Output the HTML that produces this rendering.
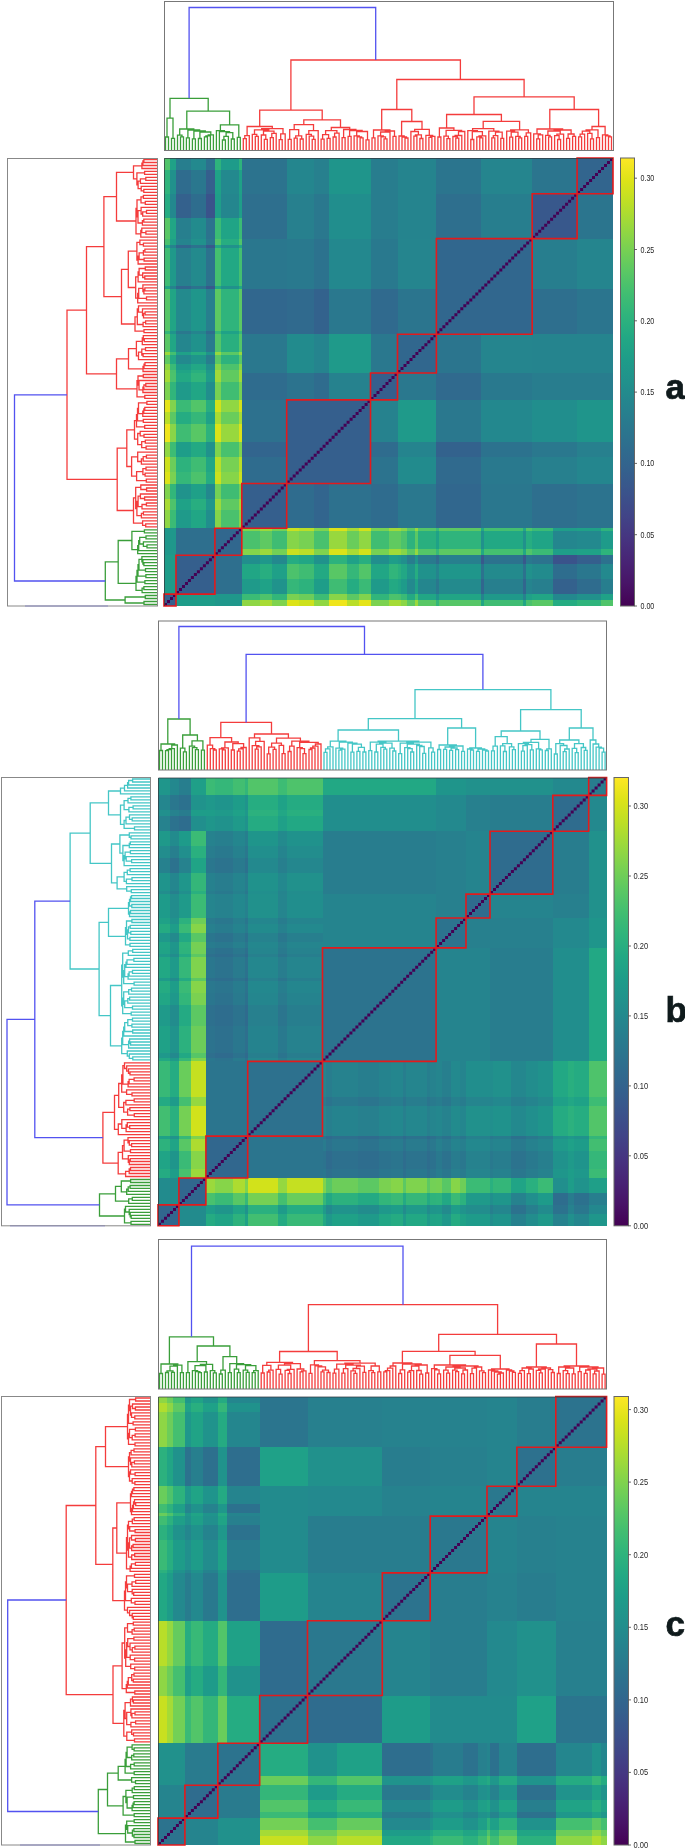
<!DOCTYPE html>
<html><head><meta charset="utf-8"><style>
html,body{margin:0;padding:0;background:#fff;}
svg{display:block;filter:blur(0.4px);font-family:"Liberation Sans",sans-serif;}
</style></head><body>
<svg width="685" height="1848" viewBox="0 0 685 1848">
<rect width="685" height="1848" fill="#fff"/>
<path fill="#355f8d" shape-rendering="crispEdges" d="M164.0 600.0H170.0V606.0H164.0zM164.0 594.1H170.0V600.0H164.0zM170.0 600.0H176.0V606.0H170.0zM170.0 594.1H176.0V600.0H170.0zM176.0 579.1H190.9V594.1H176.0zM176.0 564.2H190.9V579.1H176.0zM176.0 555.2H190.9V564.2H176.0zM190.9 579.1H205.9V594.1H190.9zM190.9 564.2H205.9V579.1H190.9zM190.9 555.2H205.9V564.2H190.9zM205.9 579.1H214.9V594.1H205.9zM205.9 564.2H214.9V579.1H205.9zM205.9 555.2H214.9V564.2H205.9zM205.9 169.9H214.9V193.8H205.9zM241.8 510.4H259.8V528.3H241.8zM241.8 498.5H259.8V510.4H241.8zM241.8 483.5H259.8V498.5H241.8zM259.8 510.4H271.8V528.3H259.8zM259.8 498.5H271.8V510.4H259.8zM259.8 483.5H271.8V498.5H259.8zM271.8 510.4H286.7V528.3H271.8zM271.8 498.5H286.7V510.4H271.8zM271.8 483.5H286.7V498.5H271.8zM286.7 471.6H298.7V483.5H286.7zM286.7 456.7H298.7V471.6H286.7zM286.7 441.7H298.7V456.7H286.7zM286.7 423.8H298.7V441.7H286.7zM286.7 411.9H298.7V423.8H286.7zM286.7 399.9H298.7V411.9H286.7zM298.7 471.6H313.7V483.5H298.7zM298.7 456.7H313.7V471.6H298.7zM298.7 441.7H313.7V456.7H298.7zM298.7 423.8H313.7V441.7H298.7zM298.7 411.9H313.7V423.8H298.7zM298.7 399.9H313.7V411.9H298.7zM313.7 471.6H328.6V483.5H313.7zM313.7 456.7H328.6V471.6H313.7zM313.7 441.7H328.6V456.7H313.7zM313.7 423.8H328.6V441.7H313.7zM313.7 411.9H328.6V423.8H313.7zM313.7 399.9H328.6V411.9H313.7zM328.6 471.6H346.6V483.5H328.6zM328.6 456.7H346.6V471.6H328.6zM328.6 441.7H346.6V456.7H328.6zM328.6 423.8H346.6V441.7H328.6zM328.6 411.9H346.6V423.8H328.6zM328.6 399.9H346.6V411.9H328.6zM346.6 471.6H358.6V483.5H346.6zM346.6 456.7H358.6V471.6H346.6zM346.6 441.7H358.6V456.7H346.6zM346.6 423.8H358.6V441.7H346.6zM346.6 411.9H358.6V423.8H346.6zM346.6 399.9H358.6V411.9H346.6zM358.6 471.6H370.5V483.5H358.6zM358.6 456.7H370.5V471.6H358.6zM358.6 441.7H370.5V456.7H358.6zM358.6 423.8H370.5V441.7H358.6zM358.6 411.9H370.5V423.8H358.6zM358.6 399.9H370.5V411.9H358.6zM370.5 382.0H388.5V399.9H370.5zM370.5 373.0H388.5V382.0H370.5zM388.5 382.0H397.5V399.9H388.5zM388.5 373.0H397.5V382.0H388.5zM577.1 555.2H601.0V564.2H577.1z"/>
<path fill="#1e9c89" shape-rendering="crispEdges" d="M164.0 579.1H170.0V594.1H164.0zM164.0 564.2H170.0V579.1H164.0zM164.0 555.2H170.0V564.2H164.0zM170.0 579.1H176.0V594.1H170.0zM170.0 564.2H176.0V579.1H170.0zM170.0 555.2H176.0V564.2H170.0zM176.0 600.0H190.9V606.0H176.0zM176.0 594.1H190.9V600.0H176.0zM190.9 600.0H205.9V606.0H190.9zM190.9 594.1H205.9V600.0H190.9zM205.9 600.0H214.9V606.0H205.9zM205.9 594.1H214.9V600.0H205.9z"/>
<path fill="#1f978b" shape-rendering="crispEdges" d="M164.0 549.3H170.0V555.2H164.0zM164.0 531.3H170.0V549.3H164.0zM164.0 528.3H170.0V531.3H164.0zM170.0 549.3H176.0V555.2H170.0zM170.0 531.3H176.0V549.3H170.0zM170.0 528.3H176.0V531.3H170.0zM205.9 498.5H214.9V510.4H205.9zM214.9 600.0H220.9V606.0H214.9zM214.9 594.1H220.9V600.0H214.9zM220.9 600.0H238.8V606.0H220.9zM220.9 594.1H238.8V600.0H220.9zM238.8 600.0H241.8V606.0H238.8zM238.8 594.1H241.8V600.0H238.8zM259.8 555.2H271.8V564.2H259.8z"/>
<path fill="#8ed645" shape-rendering="crispEdges" d="M164.0 510.4H170.0V528.3H164.0zM241.8 600.0H259.8V606.0H241.8z"/>
<path fill="#a8db34" shape-rendering="crispEdges" d="M164.0 498.5H170.0V510.4H164.0zM214.9 411.9H220.9V423.8H214.9zM238.8 411.9H241.8V423.8H238.8zM259.8 600.0H271.8V606.0H259.8zM346.6 549.3H358.6V555.2H346.6zM346.6 528.3H358.6V531.3H346.6z"/>
<path fill="#7fd34e" shape-rendering="crispEdges" d="M164.0 483.5H170.0V498.5H164.0zM214.9 441.7H220.9V456.7H214.9zM238.8 441.7H241.8V456.7H238.8zM271.8 600.0H286.7V606.0H271.8zM313.7 549.3H328.6V555.2H313.7zM313.7 528.3H328.6V531.3H313.7z"/>
<path fill="#dde318" shape-rendering="crispEdges" d="M164.0 471.6H170.0V483.5H164.0zM286.7 600.0H298.7V606.0H286.7z"/>
<path fill="#cde11d" shape-rendering="crispEdges" d="M164.0 456.7H170.0V471.6H164.0zM298.7 600.0H313.7V606.0H298.7z"/>
<path fill="#90d743" shape-rendering="crispEdges" d="M164.0 441.7H170.0V456.7H164.0zM220.9 399.9H238.8V411.9H220.9zM313.7 600.0H328.6V606.0H313.7zM358.6 531.3H370.5V549.3H358.6z"/>
<path fill="#efe51c" shape-rendering="crispEdges" d="M164.0 423.8H170.0V441.7H164.0zM328.6 600.0H346.6V606.0H328.6z"/>
<path fill="#bade28" shape-rendering="crispEdges" d="M164.0 411.9H170.0V423.8H164.0zM214.9 456.7H220.9V471.6H214.9zM238.8 456.7H241.8V471.6H238.8zM298.7 549.3H313.7V555.2H298.7zM298.7 528.3H313.7V531.3H298.7zM346.6 600.0H358.6V606.0H346.6z"/>
<path fill="#e5e419" shape-rendering="crispEdges" d="M164.0 399.9H170.0V411.9H164.0zM358.6 600.0H370.5V606.0H358.6z"/>
<path fill="#7cd250" shape-rendering="crispEdges" d="M164.0 382.0H170.0V399.9H164.0zM370.5 600.0H388.5V606.0H370.5z"/>
<path fill="#a5db36" shape-rendering="crispEdges" d="M164.0 373.0H170.0V382.0H164.0zM164.0 370.1H170.0V373.0H164.0zM388.5 600.0H397.5V606.0H388.5zM397.5 600.0H400.5V606.0H397.5z"/>
<path fill="#8bd646" shape-rendering="crispEdges" d="M164.0 364.1H170.0V370.1H164.0zM400.5 600.0H406.5V606.0H400.5z"/>
<path fill="#5ec962" shape-rendering="crispEdges" d="M164.0 355.1H170.0V364.1H164.0zM220.9 498.5H238.8V510.4H220.9zM259.8 531.3H271.8V549.3H259.8zM406.5 600.0H415.4V606.0H406.5z"/>
<path fill="#9bd93c" shape-rendering="crispEdges" d="M164.0 352.1H170.0V355.1H164.0zM214.9 498.5H220.9V510.4H214.9zM238.8 498.5H241.8V510.4H238.8zM259.8 549.3H271.8V555.2H259.8zM259.8 528.3H271.8V531.3H259.8zM415.4 600.0H418.4V606.0H415.4z"/>
<path fill="#58c765" shape-rendering="crispEdges" d="M164.0 334.2H170.0V352.1H164.0zM164.0 217.7H170.0V238.6H164.0zM190.9 423.8H205.9V441.7H190.9zM328.6 564.2H346.6V579.1H328.6zM418.4 600.0H436.4V606.0H418.4zM532.2 600.0H553.1V606.0H532.2z"/>
<path fill="#34b679" shape-rendering="crispEdges" d="M164.0 331.2H170.0V334.2H164.0zM436.4 600.0H439.4V606.0H436.4z"/>
<path fill="#56c667" shape-rendering="crispEdges" d="M164.0 289.4H170.0V331.2H164.0zM439.4 600.0H481.3V606.0H439.4z"/>
<path fill="#21a585" shape-rendering="crispEdges" d="M164.0 286.4H170.0V289.4H164.0zM164.0 244.6H170.0V247.6H164.0zM170.0 289.4H176.0V331.2H170.0zM439.4 594.1H481.3V600.0H439.4zM481.3 600.0H484.3V606.0H481.3zM523.2 600.0H526.2V606.0H523.2z"/>
<path fill="#3fbc73" shape-rendering="crispEdges" d="M164.0 247.6H170.0V286.4H164.0zM176.0 423.8H190.9V441.7H176.0zM190.9 456.7H205.9V471.6H190.9zM220.9 483.5H238.8V498.5H220.9zM271.8 531.3H286.7V549.3H271.8zM298.7 564.2H313.7V579.1H298.7zM328.6 579.1H346.6V594.1H328.6zM484.3 600.0H523.2V606.0H484.3z"/>
<path fill="#4ac16d" shape-rendering="crispEdges" d="M164.0 238.6H170.0V244.6H164.0zM170.0 370.1H176.0V373.0H170.0zM220.9 510.4H238.8V528.3H220.9zM241.8 531.3H259.8V549.3H241.8zM397.5 594.1H400.5V600.0H397.5zM526.2 600.0H532.2V606.0H526.2z"/>
<path fill="#25ac82" shape-rendering="crispEdges" d="M164.0 193.8H170.0V217.7H164.0zM176.0 411.9H190.9V423.8H176.0zM205.9 471.6H214.9V483.5H205.9zM286.7 555.2H298.7V564.2H286.7zM346.6 579.1H358.6V594.1H346.6zM553.1 600.0H577.1V606.0H553.1z"/>
<path fill="#2fb47c" shape-rendering="crispEdges" d="M164.0 169.9H170.0V193.8H164.0zM220.9 289.4H238.8V331.2H220.9zM439.4 531.3H481.3V549.3H439.4zM577.1 600.0H601.0V606.0H577.1z"/>
<path fill="#50c46a" shape-rendering="crispEdges" d="M164.0 158.0H170.0V169.9H164.0zM214.9 238.6H220.9V244.6H214.9zM238.8 238.6H241.8V244.6H238.8zM526.2 549.3H532.2V555.2H526.2zM526.2 528.3H532.2V531.3H526.2zM601.0 600.0H613.0V606.0H601.0z"/>
<path fill="#3bbb75" shape-rendering="crispEdges" d="M170.0 510.4H176.0V528.3H170.0zM214.9 217.7H220.9V238.6H214.9zM238.8 217.7H241.8V238.6H238.8zM241.8 594.1H259.8V600.0H241.8zM532.2 549.3H553.1V555.2H532.2zM532.2 528.3H553.1V531.3H532.2z"/>
<path fill="#4ec36b" shape-rendering="crispEdges" d="M170.0 498.5H176.0V510.4H170.0zM259.8 594.1H271.8V600.0H259.8z"/>
<path fill="#32b67a" shape-rendering="crispEdges" d="M170.0 483.5H176.0V498.5H170.0zM271.8 594.1H286.7V600.0H271.8z"/>
<path fill="#7ad151" shape-rendering="crispEdges" d="M170.0 471.6H176.0V483.5H170.0zM286.7 594.1H298.7V600.0H286.7z"/>
<path fill="#6ccd5a" shape-rendering="crispEdges" d="M170.0 456.7H176.0V471.6H170.0zM298.7 594.1H313.7V600.0H298.7z"/>
<path fill="#3dbc74" shape-rendering="crispEdges" d="M170.0 441.7H176.0V456.7H170.0zM313.7 594.1H328.6V600.0H313.7z"/>
<path fill="#89d548" shape-rendering="crispEdges" d="M170.0 423.8H176.0V441.7H170.0zM328.6 594.1H346.6V600.0H328.6z"/>
<path fill="#5cc863" shape-rendering="crispEdges" d="M170.0 411.9H176.0V423.8H170.0zM214.9 289.4H220.9V331.2H214.9zM238.8 289.4H241.8V331.2H238.8zM346.6 594.1H358.6V600.0H346.6zM439.4 549.3H481.3V555.2H439.4zM439.4 528.3H481.3V531.3H439.4z"/>
<path fill="#81d34d" shape-rendering="crispEdges" d="M170.0 399.9H176.0V411.9H170.0zM358.6 594.1H370.5V600.0H358.6z"/>
<path fill="#31b57b" shape-rendering="crispEdges" d="M170.0 382.0H176.0V399.9H170.0zM190.9 373.0H205.9V382.0H190.9zM370.5 594.1H388.5V600.0H370.5zM388.5 564.2H397.5V579.1H388.5z"/>
<path fill="#4cc26c" shape-rendering="crispEdges" d="M170.0 373.0H176.0V382.0H170.0zM190.9 471.6H205.9V483.5H190.9zM220.9 364.1H238.8V370.1H220.9zM286.7 564.2H298.7V579.1H286.7zM388.5 594.1H397.5V600.0H388.5zM400.5 531.3H406.5V549.3H400.5z"/>
<path fill="#3aba76" shape-rendering="crispEdges" d="M170.0 364.1H176.0V370.1H170.0zM176.0 399.9H190.9V411.9H176.0zM358.6 579.1H370.5V594.1H358.6zM400.5 594.1H406.5V600.0H400.5z"/>
<path fill="#23a983" shape-rendering="crispEdges" d="M170.0 355.1H176.0V364.1H170.0zM176.0 373.0H190.9V382.0H176.0zM190.9 441.7H205.9V456.7H190.9zM313.7 564.2H328.6V579.1H313.7zM388.5 579.1H397.5V594.1H388.5zM406.5 594.1H415.4V600.0H406.5z"/>
<path fill="#44bf70" shape-rendering="crispEdges" d="M170.0 352.1H176.0V355.1H170.0zM214.9 247.6H220.9V286.4H214.9zM238.8 247.6H241.8V286.4H238.8zM415.4 594.1H418.4V600.0H415.4zM484.3 549.3H523.2V555.2H484.3zM484.3 528.3H523.2V531.3H484.3z"/>
<path fill="#21a685" shape-rendering="crispEdges" d="M170.0 334.2H176.0V352.1H170.0zM170.0 217.7H176.0V238.6H170.0zM190.9 510.4H205.9V528.3H190.9zM190.9 382.0H205.9V399.9H190.9zM205.9 456.7H214.9V471.6H205.9zM241.8 564.2H259.8V579.1H241.8zM298.7 555.2H313.7V564.2H298.7zM370.5 564.2H388.5V579.1H370.5zM418.4 594.1H436.4V600.0H418.4zM532.2 594.1H553.1V600.0H532.2z"/>
<path fill="#20938c" shape-rendering="crispEdges" d="M170.0 331.2H176.0V334.2H170.0zM176.0 483.5H190.9V498.5H176.0zM271.8 579.1H286.7V594.1H271.8zM436.4 594.1H439.4V600.0H436.4z"/>
<path fill="#26828e" shape-rendering="crispEdges" d="M170.0 286.4H176.0V289.4H170.0zM170.0 244.6H176.0V247.6H170.0zM328.6 382.0H346.6V399.9H328.6zM328.6 373.0H346.6V382.0H328.6zM346.6 382.0H358.6V399.9H346.6zM346.6 373.0H358.6V382.0H346.6zM358.6 382.0H370.5V399.9H358.6zM358.6 373.0H370.5V382.0H358.6zM370.5 423.8H388.5V441.7H370.5zM370.5 411.9H388.5V423.8H370.5zM370.5 399.9H388.5V411.9H370.5zM388.5 423.8H397.5V441.7H388.5zM388.5 411.9H397.5V423.8H388.5zM388.5 399.9H397.5V411.9H388.5zM481.3 594.1H484.3V600.0H481.3zM523.2 594.1H526.2V600.0H523.2z"/>
<path fill="#1f998a" shape-rendering="crispEdges" d="M170.0 247.6H176.0V286.4H170.0zM484.3 594.1H523.2V600.0H484.3z"/>
<path fill="#1fa088" shape-rendering="crispEdges" d="M170.0 238.6H176.0V244.6H170.0zM190.9 483.5H205.9V498.5H190.9zM271.8 564.2H286.7V579.1H271.8zM526.2 594.1H532.2V600.0H526.2z"/>
<path fill="#23888e" shape-rendering="crispEdges" d="M170.0 193.8H176.0V217.7H170.0zM205.9 483.5H214.9V498.5H205.9zM271.8 555.2H286.7V564.2H271.8zM328.6 286.4H346.6V289.4H328.6zM328.6 247.6H346.6V286.4H328.6zM328.6 244.6H346.6V247.6H328.6zM328.6 238.6H346.6V244.6H328.6zM346.6 286.4H358.6V289.4H346.6zM346.6 247.6H358.6V286.4H346.6zM346.6 244.6H358.6V247.6H346.6zM346.6 238.6H358.6V244.6H346.6zM358.6 286.4H370.5V289.4H358.6zM358.6 247.6H370.5V286.4H358.6zM358.6 244.6H370.5V247.6H358.6zM358.6 238.6H370.5V244.6H358.6zM481.3 423.8H484.3V441.7H481.3zM481.3 411.9H484.3V423.8H481.3zM481.3 399.9H484.3V411.9H481.3zM484.3 423.8H523.2V441.7H484.3zM484.3 411.9H523.2V423.8H484.3zM484.3 399.9H523.2V411.9H484.3zM523.2 423.8H526.2V441.7H523.2zM523.2 411.9H526.2V423.8H523.2zM523.2 399.9H526.2V411.9H523.2zM526.2 423.8H532.2V441.7H526.2zM526.2 411.9H532.2V423.8H526.2zM526.2 399.9H532.2V411.9H526.2zM553.1 594.1H577.1V600.0H553.1z"/>
<path fill="#21918c" shape-rendering="crispEdges" d="M170.0 169.9H176.0V193.8H170.0zM190.9 238.6H205.9V244.6H190.9zM220.9 286.4H238.8V289.4H220.9zM220.9 244.6H238.8V247.6H220.9zM481.3 531.3H484.3V549.3H481.3zM523.2 531.3H526.2V549.3H523.2zM526.2 564.2H532.2V579.1H526.2zM577.1 594.1H601.0V600.0H577.1z"/>
<path fill="#1fa287" shape-rendering="crispEdges" d="M170.0 158.0H176.0V169.9H170.0zM176.0 498.5H190.9V510.4H176.0zM220.9 331.2H238.8V334.2H220.9zM259.8 579.1H271.8V594.1H259.8zM436.4 531.3H439.4V549.3H436.4zM601.0 594.1H613.0V600.0H601.0z"/>
<path fill="#2e6f8e" shape-rendering="crispEdges" d="M176.0 549.3H190.9V555.2H176.0zM176.0 531.3H190.9V549.3H176.0zM176.0 528.3H190.9V531.3H176.0zM190.9 549.3H205.9V555.2H190.9zM190.9 531.3H205.9V549.3H190.9zM190.9 528.3H205.9V531.3H190.9zM205.9 549.3H214.9V555.2H205.9zM205.9 531.3H214.9V549.3H205.9zM205.9 528.3H214.9V531.3H205.9zM214.9 579.1H220.9V594.1H214.9zM214.9 564.2H220.9V579.1H214.9zM214.9 555.2H220.9V564.2H214.9zM220.9 579.1H238.8V594.1H220.9zM220.9 564.2H238.8V579.1H220.9zM220.9 555.2H238.8V564.2H220.9zM238.8 579.1H241.8V594.1H238.8zM238.8 564.2H241.8V579.1H238.8zM238.8 555.2H241.8V564.2H238.8zM241.8 217.7H259.8V238.6H241.8zM241.8 193.8H259.8V217.7H241.8zM259.8 217.7H271.8V238.6H259.8zM259.8 193.8H271.8V217.7H259.8zM271.8 217.7H286.7V238.6H271.8zM271.8 193.8H286.7V217.7H271.8zM436.4 217.7H439.4V238.6H436.4zM436.4 193.8H439.4V217.7H436.4zM439.4 217.7H481.3V238.6H439.4zM439.4 193.8H481.3V217.7H439.4zM532.2 510.4H553.1V528.3H532.2zM532.2 498.5H553.1V510.4H532.2zM532.2 483.5H553.1V498.5H532.2zM532.2 331.2H553.1V334.2H532.2zM532.2 289.4H553.1V331.2H532.2zM553.1 510.4H577.1V528.3H553.1zM553.1 498.5H577.1V510.4H553.1zM553.1 483.5H577.1V498.5H553.1zM553.1 331.2H577.1V334.2H553.1zM553.1 289.4H577.1V331.2H553.1z"/>
<path fill="#1f9a8a" shape-rendering="crispEdges" d="M176.0 510.4H190.9V528.3H176.0zM176.0 382.0H190.9V399.9H176.0zM241.8 579.1H259.8V594.1H241.8zM328.6 370.1H346.6V373.0H328.6zM328.6 364.1H346.6V370.1H328.6zM328.6 355.1H346.6V364.1H328.6zM328.6 352.1H346.6V355.1H328.6zM328.6 334.2H346.6V352.1H328.6zM346.6 370.1H358.6V373.0H346.6zM346.6 364.1H358.6V370.1H346.6zM346.6 355.1H358.6V364.1H346.6zM346.6 352.1H358.6V355.1H346.6zM346.6 334.2H358.6V352.1H346.6zM358.6 370.1H370.5V373.0H358.6zM358.6 364.1H370.5V370.1H358.6zM358.6 355.1H370.5V364.1H358.6zM358.6 352.1H370.5V355.1H358.6zM358.6 334.2H370.5V352.1H358.6zM370.5 579.1H388.5V594.1H370.5zM397.5 423.8H400.5V441.7H397.5zM397.5 411.9H400.5V423.8H397.5zM397.5 399.9H400.5V411.9H397.5zM400.5 423.8H406.5V441.7H400.5zM400.5 411.9H406.5V423.8H400.5zM400.5 399.9H406.5V411.9H400.5zM406.5 423.8H415.4V441.7H406.5zM406.5 411.9H415.4V423.8H406.5zM406.5 399.9H415.4V411.9H406.5zM415.4 423.8H418.4V441.7H415.4zM415.4 411.9H418.4V423.8H415.4zM415.4 399.9H418.4V411.9H415.4zM418.4 423.8H436.4V441.7H418.4zM418.4 411.9H436.4V423.8H418.4zM418.4 399.9H436.4V411.9H418.4z"/>
<path fill="#35b779" shape-rendering="crispEdges" d="M176.0 471.6H190.9V483.5H176.0zM190.9 411.9H205.9V423.8H190.9zM286.7 579.1H298.7V594.1H286.7zM346.6 564.2H358.6V579.1H346.6z"/>
<path fill="#2db27d" shape-rendering="crispEdges" d="M176.0 456.7H190.9V471.6H176.0zM205.9 423.8H214.9V441.7H205.9zM220.9 355.1H238.8V364.1H220.9zM298.7 579.1H313.7V594.1H298.7zM328.6 555.2H346.6V564.2H328.6zM406.5 531.3H415.4V549.3H406.5z"/>
<path fill="#1e9d89" shape-rendering="crispEdges" d="M176.0 441.7H190.9V456.7H176.0zM205.9 373.0H214.9V382.0H205.9zM313.7 579.1H328.6V594.1H313.7zM388.5 555.2H397.5V564.2H388.5z"/>
<path fill="#20a486" shape-rendering="crispEdges" d="M176.0 370.1H190.9V373.0H176.0zM220.9 217.7H238.8V238.6H220.9zM397.5 579.1H400.5V594.1H397.5zM532.2 531.3H553.1V549.3H532.2z"/>
<path fill="#1e9b8a" shape-rendering="crispEdges" d="M176.0 364.1H190.9V370.1H176.0zM220.9 158.0H238.8V169.9H220.9zM400.5 579.1H406.5V594.1H400.5zM601.0 531.3H613.0V549.3H601.0z"/>
<path fill="#23898e" shape-rendering="crispEdges" d="M176.0 355.1H190.9V364.1H176.0zM190.9 158.0H205.9V169.9H190.9zM220.9 169.9H238.8V193.8H220.9zM406.5 579.1H415.4V594.1H406.5zM577.1 531.3H601.0V549.3H577.1zM601.0 564.2H613.0V579.1H601.0z"/>
<path fill="#1fa188" shape-rendering="crispEdges" d="M176.0 352.1H190.9V355.1H176.0zM205.9 411.9H214.9V423.8H205.9zM346.6 555.2H358.6V564.2H346.6zM415.4 579.1H418.4V594.1H415.4z"/>
<path fill="#24868e" shape-rendering="crispEdges" d="M176.0 334.2H190.9V352.1H176.0zM220.9 193.8H238.8V217.7H220.9zM286.7 169.9H298.7V193.8H286.7zM286.7 158.0H298.7V169.9H286.7zM298.7 169.9H313.7V193.8H298.7zM298.7 158.0H313.7V169.9H298.7zM418.4 579.1H436.4V594.1H418.4zM553.1 531.3H577.1V549.3H553.1zM577.1 471.6H601.0V483.5H577.1zM577.1 456.7H601.0V471.6H577.1zM601.0 471.6H613.0V483.5H601.0zM601.0 456.7H613.0V471.6H601.0z"/>
<path fill="#2a788e" shape-rendering="crispEdges" d="M176.0 331.2H190.9V334.2H176.0zM205.9 238.6H214.9V244.6H205.9zM241.8 370.1H259.8V373.0H241.8zM241.8 364.1H259.8V370.1H241.8zM241.8 355.1H259.8V364.1H241.8zM241.8 352.1H259.8V355.1H241.8zM241.8 334.2H259.8V352.1H241.8zM259.8 370.1H271.8V373.0H259.8zM259.8 364.1H271.8V370.1H259.8zM259.8 355.1H271.8V364.1H259.8zM259.8 352.1H271.8V355.1H259.8zM259.8 334.2H271.8V352.1H259.8zM271.8 370.1H286.7V373.0H271.8zM271.8 364.1H286.7V370.1H271.8zM271.8 355.1H286.7V364.1H271.8zM271.8 352.1H286.7V355.1H271.8zM271.8 334.2H286.7V352.1H271.8zM313.7 217.7H328.6V238.6H313.7zM313.7 193.8H328.6V217.7H313.7zM328.6 331.2H346.6V334.2H328.6zM328.6 289.4H346.6V331.2H328.6zM346.6 331.2H358.6V334.2H346.6zM346.6 289.4H358.6V331.2H346.6zM358.6 331.2H370.5V334.2H358.6zM358.6 289.4H370.5V331.2H358.6zM370.5 370.1H388.5V373.0H370.5zM370.5 364.1H388.5V370.1H370.5zM370.5 355.1H388.5V364.1H370.5zM370.5 352.1H388.5V355.1H370.5zM370.5 334.2H388.5V352.1H370.5zM388.5 370.1H397.5V373.0H388.5zM388.5 364.1H397.5V370.1H388.5zM388.5 355.1H397.5V364.1H388.5zM388.5 352.1H397.5V355.1H388.5zM388.5 334.2H397.5V352.1H388.5zM397.5 510.4H400.5V528.3H397.5zM397.5 498.5H400.5V510.4H397.5zM397.5 483.5H400.5V498.5H397.5zM397.5 382.0H400.5V399.9H397.5zM397.5 373.0H400.5V382.0H397.5zM400.5 510.4H406.5V528.3H400.5zM400.5 498.5H406.5V510.4H400.5zM400.5 483.5H406.5V498.5H400.5zM400.5 382.0H406.5V399.9H400.5zM400.5 373.0H406.5V382.0H400.5zM406.5 510.4H415.4V528.3H406.5zM406.5 498.5H415.4V510.4H406.5zM406.5 483.5H415.4V498.5H406.5zM406.5 382.0H415.4V399.9H406.5zM406.5 373.0H415.4V382.0H406.5zM415.4 510.4H418.4V528.3H415.4zM415.4 498.5H418.4V510.4H415.4zM415.4 483.5H418.4V498.5H415.4zM415.4 382.0H418.4V399.9H415.4zM415.4 373.0H418.4V382.0H415.4zM418.4 510.4H436.4V528.3H418.4zM418.4 498.5H436.4V510.4H418.4zM418.4 483.5H436.4V498.5H418.4zM418.4 382.0H436.4V399.9H418.4zM418.4 373.0H436.4V382.0H418.4zM436.4 579.1H439.4V594.1H436.4zM436.4 423.8H439.4V441.7H436.4zM436.4 411.9H439.4V423.8H436.4zM436.4 399.9H439.4V411.9H436.4zM439.4 423.8H481.3V441.7H439.4zM439.4 411.9H481.3V423.8H439.4zM439.4 399.9H481.3V411.9H439.4zM526.2 555.2H532.2V564.2H526.2zM532.2 441.7H553.1V456.7H532.2zM553.1 441.7H577.1V456.7H553.1z"/>
<path fill="#238a8d" shape-rendering="crispEdges" d="M176.0 289.4H190.9V331.2H176.0zM190.9 247.6H205.9V286.4H190.9zM439.4 579.1H481.3V594.1H439.4zM484.3 564.2H523.2V579.1H484.3z"/>
<path fill="#31668e" shape-rendering="crispEdges" d="M176.0 286.4H190.9V289.4H176.0zM176.0 244.6H190.9V247.6H176.0zM481.3 579.1H484.3V594.1H481.3zM523.2 579.1H526.2V594.1H523.2z"/>
<path fill="#277f8e" shape-rendering="crispEdges" d="M176.0 247.6H190.9V286.4H176.0zM176.0 217.7H190.9V238.6H176.0zM205.9 289.4H214.9V331.2H205.9zM439.4 555.2H481.3V564.2H439.4zM484.3 579.1H523.2V594.1H484.3zM532.2 579.1H553.1V594.1H532.2z"/>
<path fill="#25848e" shape-rendering="crispEdges" d="M176.0 238.6H190.9V244.6H176.0zM190.9 331.2H205.9V334.2H190.9zM313.7 370.1H328.6V373.0H313.7zM313.7 364.1H328.6V370.1H313.7zM313.7 355.1H328.6V364.1H313.7zM313.7 352.1H328.6V355.1H313.7zM313.7 334.2H328.6V352.1H313.7zM397.5 441.7H400.5V456.7H397.5zM397.5 217.7H400.5V238.6H397.5zM397.5 193.8H400.5V217.7H397.5zM397.5 169.9H400.5V193.8H397.5zM397.5 158.0H400.5V169.9H397.5zM400.5 441.7H406.5V456.7H400.5zM400.5 217.7H406.5V238.6H400.5zM400.5 193.8H406.5V217.7H400.5zM400.5 169.9H406.5V193.8H400.5zM400.5 158.0H406.5V169.9H400.5zM406.5 441.7H415.4V456.7H406.5zM406.5 217.7H415.4V238.6H406.5zM406.5 193.8H415.4V217.7H406.5zM406.5 169.9H415.4V193.8H406.5zM406.5 158.0H415.4V169.9H406.5zM415.4 441.7H418.4V456.7H415.4zM415.4 217.7H418.4V238.6H415.4zM415.4 193.8H418.4V217.7H415.4zM415.4 169.9H418.4V193.8H415.4zM415.4 158.0H418.4V169.9H415.4zM418.4 441.7H436.4V456.7H418.4zM418.4 217.7H436.4V238.6H418.4zM418.4 193.8H436.4V217.7H418.4zM418.4 169.9H436.4V193.8H418.4zM418.4 158.0H436.4V169.9H418.4zM436.4 564.2H439.4V579.1H436.4zM526.2 579.1H532.2V594.1H526.2zM532.2 370.1H553.1V373.0H532.2zM532.2 364.1H553.1V370.1H532.2zM532.2 355.1H553.1V364.1H532.2zM532.2 352.1H553.1V355.1H532.2zM532.2 334.2H553.1V352.1H532.2zM553.1 370.1H577.1V373.0H553.1zM553.1 364.1H577.1V370.1H553.1zM553.1 355.1H577.1V364.1H553.1zM553.1 352.1H577.1V355.1H553.1zM553.1 334.2H577.1V352.1H553.1zM577.1 370.1H601.0V373.0H577.1zM577.1 364.1H601.0V370.1H577.1zM577.1 355.1H601.0V364.1H577.1zM577.1 352.1H601.0V355.1H577.1zM577.1 334.2H601.0V352.1H577.1zM601.0 370.1H613.0V373.0H601.0zM601.0 364.1H613.0V370.1H601.0zM601.0 355.1H613.0V364.1H601.0zM601.0 352.1H613.0V355.1H601.0zM601.0 334.2H613.0V352.1H601.0z"/>
<path fill="#34618d" shape-rendering="crispEdges" d="M176.0 193.8H190.9V217.7H176.0zM553.1 579.1H577.1V594.1H553.1z"/>
<path fill="#2f6c8e" shape-rendering="crispEdges" d="M176.0 169.9H190.9V193.8H176.0zM205.9 331.2H214.9V334.2H205.9zM241.8 471.6H259.8V483.5H241.8zM241.8 456.7H259.8V471.6H241.8zM241.8 382.0H259.8V399.9H241.8zM241.8 373.0H259.8V382.0H241.8zM259.8 471.6H271.8V483.5H259.8zM259.8 456.7H271.8V471.6H259.8zM259.8 382.0H271.8V399.9H259.8zM259.8 373.0H271.8V382.0H259.8zM271.8 471.6H286.7V483.5H271.8zM271.8 456.7H286.7V471.6H271.8zM271.8 382.0H286.7V399.9H271.8zM271.8 373.0H286.7V382.0H271.8zM286.7 510.4H298.7V528.3H286.7zM286.7 498.5H298.7V510.4H286.7zM286.7 483.5H298.7V498.5H286.7zM298.7 510.4H313.7V528.3H298.7zM298.7 498.5H313.7V510.4H298.7zM298.7 483.5H313.7V498.5H298.7zM313.7 382.0H328.6V399.9H313.7zM313.7 373.0H328.6V382.0H313.7zM370.5 510.4H388.5V528.3H370.5zM370.5 498.5H388.5V510.4H370.5zM370.5 483.5H388.5V498.5H370.5zM370.5 441.7H388.5V456.7H370.5zM388.5 510.4H397.5V528.3H388.5zM388.5 498.5H397.5V510.4H388.5zM388.5 483.5H397.5V498.5H388.5zM388.5 441.7H397.5V456.7H388.5zM436.4 555.2H439.4V564.2H436.4zM577.1 579.1H601.0V594.1H577.1z"/>
<path fill="#277e8e" shape-rendering="crispEdges" d="M176.0 158.0H190.9V169.9H176.0zM481.3 217.7H484.3V238.6H481.3zM481.3 193.8H484.3V217.7H481.3zM484.3 217.7H523.2V238.6H484.3zM484.3 193.8H523.2V217.7H484.3zM523.2 217.7H526.2V238.6H523.2zM523.2 193.8H526.2V217.7H523.2zM526.2 217.7H532.2V238.6H526.2zM526.2 193.8H532.2V217.7H526.2zM532.2 286.4H553.1V289.4H532.2zM532.2 247.6H553.1V286.4H532.2zM532.2 244.6H553.1V247.6H532.2zM532.2 238.6H553.1V244.6H532.2zM553.1 286.4H577.1V289.4H553.1zM553.1 247.6H577.1V286.4H553.1zM553.1 244.6H577.1V247.6H553.1zM553.1 238.6H577.1V244.6H553.1zM601.0 579.1H613.0V594.1H601.0z"/>
<path fill="#28ae80" shape-rendering="crispEdges" d="M190.9 498.5H205.9V510.4H190.9zM205.9 399.9H214.9V411.9H205.9zM259.8 564.2H271.8V579.1H259.8zM358.6 555.2H370.5V564.2H358.6z"/>
<path fill="#52c569" shape-rendering="crispEdges" d="M190.9 399.9H205.9V411.9H190.9zM358.6 564.2H370.5V579.1H358.6z"/>
<path fill="#29af7f" shape-rendering="crispEdges" d="M190.9 370.1H205.9V373.0H190.9zM220.9 334.2H238.8V352.1H220.9zM397.5 564.2H400.5V579.1H397.5zM418.4 531.3H436.4V549.3H418.4z"/>
<path fill="#22a785" shape-rendering="crispEdges" d="M190.9 364.1H205.9V370.1H190.9zM400.5 564.2H406.5V579.1H400.5z"/>
<path fill="#1f958b" shape-rendering="crispEdges" d="M190.9 355.1H205.9V364.1H190.9zM205.9 352.1H214.9V355.1H205.9zM328.6 169.9H346.6V193.8H328.6zM328.6 158.0H346.6V169.9H328.6zM346.6 169.9H358.6V193.8H346.6zM346.6 158.0H358.6V169.9H346.6zM358.6 169.9H370.5V193.8H358.6zM358.6 158.0H370.5V169.9H358.6zM406.5 564.2H415.4V579.1H406.5zM415.4 555.2H418.4V564.2H415.4zM577.1 423.8H601.0V441.7H577.1zM577.1 411.9H601.0V423.8H577.1zM577.1 399.9H601.0V411.9H577.1zM601.0 423.8H613.0V441.7H601.0zM601.0 411.9H613.0V423.8H601.0zM601.0 399.9H613.0V411.9H601.0z"/>
<path fill="#26ad81" shape-rendering="crispEdges" d="M190.9 352.1H205.9V355.1H190.9zM415.4 564.2H418.4V579.1H415.4z"/>
<path fill="#20928c" shape-rendering="crispEdges" d="M190.9 334.2H205.9V352.1H190.9zM205.9 441.7H214.9V456.7H205.9zM313.7 555.2H328.6V564.2H313.7zM418.4 564.2H436.4V579.1H418.4z"/>
<path fill="#1f968b" shape-rendering="crispEdges" d="M190.9 289.4H205.9V331.2H190.9zM439.4 564.2H481.3V579.1H439.4z"/>
<path fill="#2c728e" shape-rendering="crispEdges" d="M190.9 286.4H205.9V289.4H190.9zM190.9 244.6H205.9V247.6H190.9zM205.9 247.6H214.9V286.4H205.9zM313.7 286.4H328.6V289.4H313.7zM313.7 247.6H328.6V286.4H313.7zM313.7 244.6H328.6V247.6H313.7zM313.7 238.6H328.6V244.6H313.7zM481.3 564.2H484.3V579.1H481.3zM481.3 441.7H484.3V456.7H481.3zM484.3 555.2H523.2V564.2H484.3zM484.3 441.7H523.2V456.7H484.3zM523.2 564.2H526.2V579.1H523.2zM523.2 441.7H526.2V456.7H523.2zM526.2 441.7H532.2V456.7H526.2z"/>
<path fill="#228b8d" shape-rendering="crispEdges" d="M190.9 217.7H205.9V238.6H190.9zM286.7 370.1H298.7V373.0H286.7zM286.7 364.1H298.7V370.1H286.7zM286.7 355.1H298.7V364.1H286.7zM286.7 352.1H298.7V355.1H286.7zM286.7 334.2H298.7V352.1H286.7zM298.7 370.1H313.7V373.0H298.7zM298.7 364.1H313.7V370.1H298.7zM298.7 355.1H313.7V364.1H298.7zM298.7 352.1H313.7V355.1H298.7zM298.7 334.2H313.7V352.1H298.7zM397.5 471.6H400.5V483.5H397.5zM397.5 456.7H400.5V471.6H397.5zM400.5 471.6H406.5V483.5H400.5zM400.5 456.7H406.5V471.6H400.5zM406.5 471.6H415.4V483.5H406.5zM406.5 456.7H415.4V471.6H406.5zM415.4 471.6H418.4V483.5H415.4zM415.4 456.7H418.4V471.6H415.4zM418.4 471.6H436.4V483.5H418.4zM418.4 456.7H436.4V471.6H418.4zM532.2 564.2H553.1V579.1H532.2z"/>
<path fill="#2e6d8e" shape-rendering="crispEdges" d="M190.9 193.8H205.9V217.7H190.9zM553.1 564.2H577.1V579.1H553.1z"/>
<path fill="#2a778e" shape-rendering="crispEdges" d="M190.9 169.9H205.9V193.8H190.9zM241.8 286.4H259.8V289.4H241.8zM241.8 247.6H259.8V286.4H241.8zM241.8 244.6H259.8V247.6H241.8zM241.8 238.6H259.8V244.6H241.8zM259.8 286.4H271.8V289.4H259.8zM259.8 247.6H271.8V286.4H259.8zM259.8 244.6H271.8V247.6H259.8zM259.8 238.6H271.8V244.6H259.8zM271.8 286.4H286.7V289.4H271.8zM271.8 247.6H286.7V286.4H271.8zM271.8 244.6H286.7V247.6H271.8zM271.8 238.6H286.7V244.6H271.8zM481.3 510.4H484.3V528.3H481.3zM481.3 498.5H484.3V510.4H481.3zM481.3 483.5H484.3V498.5H481.3zM484.3 510.4H523.2V528.3H484.3zM484.3 498.5H523.2V510.4H484.3zM484.3 483.5H523.2V498.5H484.3zM523.2 510.4H526.2V528.3H523.2zM523.2 498.5H526.2V510.4H523.2zM523.2 483.5H526.2V498.5H523.2zM526.2 510.4H532.2V528.3H526.2zM526.2 498.5H532.2V510.4H526.2zM526.2 483.5H532.2V498.5H526.2zM577.1 564.2H601.0V579.1H577.1z"/>
<path fill="#218e8d" shape-rendering="crispEdges" d="M205.9 510.4H214.9V528.3H205.9zM205.9 382.0H214.9V399.9H205.9zM241.8 555.2H259.8V564.2H241.8zM328.6 217.7H346.6V238.6H328.6zM328.6 193.8H346.6V217.7H328.6zM346.6 217.7H358.6V238.6H346.6zM346.6 193.8H358.6V217.7H346.6zM358.6 217.7H370.5V238.6H358.6zM358.6 193.8H370.5V217.7H358.6zM370.5 555.2H388.5V564.2H370.5zM532.2 423.8H553.1V441.7H532.2zM532.2 411.9H553.1V423.8H532.2zM532.2 399.9H553.1V411.9H532.2zM553.1 423.8H577.1V441.7H553.1zM553.1 411.9H577.1V423.8H553.1zM553.1 399.9H577.1V411.9H553.1z"/>
<path fill="#1f988b" shape-rendering="crispEdges" d="M205.9 370.1H214.9V373.0H205.9zM397.5 555.2H400.5V564.2H397.5z"/>
<path fill="#218f8d" shape-rendering="crispEdges" d="M205.9 364.1H214.9V370.1H205.9zM400.5 555.2H406.5V564.2H400.5z"/>
<path fill="#287d8e" shape-rendering="crispEdges" d="M205.9 355.1H214.9V364.1H205.9zM370.5 217.7H388.5V238.6H370.5zM370.5 193.8H388.5V217.7H370.5zM370.5 169.9H388.5V193.8H370.5zM370.5 158.0H388.5V169.9H370.5zM388.5 217.7H397.5V238.6H388.5zM388.5 193.8H397.5V217.7H388.5zM388.5 169.9H397.5V193.8H388.5zM388.5 158.0H397.5V169.9H388.5zM406.5 555.2H415.4V564.2H406.5zM532.2 382.0H553.1V399.9H532.2zM532.2 373.0H553.1V382.0H532.2zM553.1 382.0H577.1V399.9H553.1zM553.1 373.0H577.1V382.0H553.1zM577.1 382.0H601.0V399.9H577.1zM577.1 373.0H601.0V382.0H577.1zM601.0 382.0H613.0V399.9H601.0zM601.0 373.0H613.0V382.0H601.0z"/>
<path fill="#297a8e" shape-rendering="crispEdges" d="M205.9 334.2H214.9V352.1H205.9zM418.4 555.2H436.4V564.2H418.4z"/>
<path fill="#38598c" shape-rendering="crispEdges" d="M205.9 286.4H214.9V289.4H205.9zM205.9 244.6H214.9V247.6H205.9zM481.3 555.2H484.3V564.2H481.3zM523.2 555.2H526.2V564.2H523.2z"/>
<path fill="#2c738e" shape-rendering="crispEdges" d="M205.9 217.7H214.9V238.6H205.9zM241.8 169.9H259.8V193.8H241.8zM241.8 158.0H259.8V169.9H241.8zM259.8 169.9H271.8V193.8H259.8zM259.8 158.0H271.8V169.9H259.8zM271.8 169.9H286.7V193.8H271.8zM271.8 158.0H286.7V169.9H271.8zM286.7 382.0H298.7V399.9H286.7zM286.7 373.0H298.7V382.0H286.7zM298.7 382.0H313.7V399.9H298.7zM298.7 373.0H313.7V382.0H298.7zM370.5 471.6H388.5V483.5H370.5zM370.5 456.7H388.5V471.6H370.5zM388.5 471.6H397.5V483.5H388.5zM388.5 456.7H397.5V471.6H388.5zM532.2 555.2H553.1V564.2H532.2zM577.1 510.4H601.0V528.3H577.1zM577.1 498.5H601.0V510.4H577.1zM577.1 483.5H601.0V498.5H577.1zM601.0 510.4H613.0V528.3H601.0zM601.0 498.5H613.0V510.4H601.0zM601.0 483.5H613.0V498.5H601.0z"/>
<path fill="#3a538b" shape-rendering="crispEdges" d="M205.9 193.8H214.9V217.7H205.9zM553.1 555.2H577.1V564.2H553.1z"/>
<path fill="#2c718e" shape-rendering="crispEdges" d="M205.9 158.0H214.9V169.9H205.9zM601.0 555.2H613.0V564.2H601.0z"/>
<path fill="#31678e" shape-rendering="crispEdges" d="M214.9 549.3H220.9V555.2H214.9zM214.9 531.3H220.9V549.3H214.9zM214.9 528.3H220.9V531.3H214.9zM220.9 549.3H238.8V555.2H220.9zM220.9 531.3H238.8V549.3H220.9zM220.9 528.3H238.8V531.3H220.9zM238.8 549.3H241.8V555.2H238.8zM238.8 531.3H241.8V549.3H238.8zM238.8 528.3H241.8V531.3H238.8zM241.8 331.2H259.8V334.2H241.8zM241.8 289.4H259.8V331.2H241.8zM259.8 331.2H271.8V334.2H259.8zM259.8 289.4H271.8V331.2H259.8zM271.8 331.2H286.7V334.2H271.8zM271.8 289.4H286.7V331.2H271.8zM397.5 370.1H400.5V373.0H397.5zM397.5 364.1H400.5V370.1H397.5zM397.5 355.1H400.5V364.1H397.5zM397.5 352.1H400.5V355.1H397.5zM397.5 334.2H400.5V352.1H397.5zM400.5 370.1H406.5V373.0H400.5zM400.5 364.1H406.5V370.1H400.5zM400.5 355.1H406.5V364.1H400.5zM400.5 352.1H406.5V355.1H400.5zM400.5 334.2H406.5V352.1H400.5zM406.5 370.1H415.4V373.0H406.5zM406.5 364.1H415.4V370.1H406.5zM406.5 355.1H415.4V364.1H406.5zM406.5 352.1H415.4V355.1H406.5zM406.5 334.2H415.4V352.1H406.5zM415.4 370.1H418.4V373.0H415.4zM415.4 364.1H418.4V370.1H415.4zM415.4 355.1H418.4V364.1H415.4zM415.4 352.1H418.4V355.1H415.4zM415.4 334.2H418.4V352.1H415.4zM418.4 370.1H436.4V373.0H418.4zM418.4 364.1H436.4V370.1H418.4zM418.4 355.1H436.4V364.1H418.4zM418.4 352.1H436.4V355.1H418.4zM418.4 334.2H436.4V352.1H418.4zM436.4 510.4H439.4V528.3H436.4zM436.4 498.5H439.4V510.4H436.4zM436.4 483.5H439.4V498.5H436.4zM436.4 331.2H439.4V334.2H436.4zM436.4 289.4H439.4V331.2H436.4zM436.4 286.4H439.4V289.4H436.4zM436.4 247.6H439.4V286.4H436.4zM436.4 244.6H439.4V247.6H436.4zM436.4 238.6H439.4V244.6H436.4zM439.4 510.4H481.3V528.3H439.4zM439.4 498.5H481.3V510.4H439.4zM439.4 483.5H481.3V498.5H439.4zM439.4 331.2H481.3V334.2H439.4zM439.4 289.4H481.3V331.2H439.4zM439.4 286.4H481.3V289.4H439.4zM439.4 247.6H481.3V286.4H439.4zM439.4 244.6H481.3V247.6H439.4zM439.4 238.6H481.3V244.6H439.4zM481.3 331.2H484.3V334.2H481.3zM481.3 289.4H484.3V331.2H481.3zM481.3 286.4H484.3V289.4H481.3zM481.3 247.6H484.3V286.4H481.3zM481.3 244.6H484.3V247.6H481.3zM481.3 238.6H484.3V244.6H481.3zM484.3 331.2H523.2V334.2H484.3zM484.3 289.4H523.2V331.2H484.3zM484.3 286.4H523.2V289.4H484.3zM484.3 247.6H523.2V286.4H484.3zM484.3 244.6H523.2V247.6H484.3zM484.3 238.6H523.2V244.6H484.3zM523.2 331.2H526.2V334.2H523.2zM523.2 289.4H526.2V331.2H523.2zM523.2 286.4H526.2V289.4H523.2zM523.2 247.6H526.2V286.4H523.2zM523.2 244.6H526.2V247.6H523.2zM523.2 238.6H526.2V244.6H523.2zM526.2 331.2H532.2V334.2H526.2zM526.2 289.4H532.2V331.2H526.2zM526.2 286.4H532.2V289.4H526.2zM526.2 247.6H532.2V286.4H526.2zM526.2 244.6H532.2V247.6H526.2zM526.2 238.6H532.2V244.6H526.2z"/>
<path fill="#84d44b" shape-rendering="crispEdges" d="M214.9 510.4H220.9V528.3H214.9zM238.8 510.4H241.8V528.3H238.8zM241.8 549.3H259.8V555.2H241.8zM241.8 528.3H259.8V531.3H241.8z"/>
<path fill="#73d056" shape-rendering="crispEdges" d="M214.9 483.5H220.9V498.5H214.9zM238.8 483.5H241.8V498.5H238.8zM271.8 549.3H286.7V555.2H271.8zM271.8 528.3H286.7V531.3H271.8z"/>
<path fill="#cae11f" shape-rendering="crispEdges" d="M214.9 471.6H220.9V483.5H214.9zM238.8 471.6H241.8V483.5H238.8zM286.7 549.3H298.7V555.2H286.7zM286.7 528.3H298.7V531.3H286.7z"/>
<path fill="#dae319" shape-rendering="crispEdges" d="M214.9 423.8H220.9V441.7H214.9zM238.8 423.8H241.8V441.7H238.8zM328.6 549.3H346.6V555.2H328.6zM328.6 528.3H346.6V531.3H328.6z"/>
<path fill="#d2e21b" shape-rendering="crispEdges" d="M214.9 399.9H220.9V411.9H214.9zM238.8 399.9H241.8V411.9H238.8zM358.6 549.3H370.5V555.2H358.6zM358.6 528.3H370.5V531.3H358.6z"/>
<path fill="#77d153" shape-rendering="crispEdges" d="M214.9 382.0H220.9V399.9H214.9zM220.9 456.7H238.8V471.6H220.9zM238.8 382.0H241.8V399.9H238.8zM298.7 531.3H313.7V549.3H298.7zM370.5 549.3H388.5V555.2H370.5zM370.5 528.3H388.5V531.3H370.5z"/>
<path fill="#a0da39" shape-rendering="crispEdges" d="M214.9 373.0H220.9V382.0H214.9zM214.9 370.1H220.9V373.0H214.9zM238.8 373.0H241.8V382.0H238.8zM238.8 370.1H241.8V373.0H238.8zM388.5 549.3H397.5V555.2H388.5zM388.5 528.3H397.5V531.3H388.5zM397.5 549.3H400.5V555.2H397.5zM397.5 528.3H400.5V531.3H397.5z"/>
<path fill="#86d549" shape-rendering="crispEdges" d="M214.9 364.1H220.9V370.1H214.9zM220.9 471.6H238.8V483.5H220.9zM238.8 364.1H241.8V370.1H238.8zM286.7 531.3H298.7V549.3H286.7zM400.5 549.3H406.5V555.2H400.5zM400.5 528.3H406.5V531.3H400.5z"/>
<path fill="#5ac864" shape-rendering="crispEdges" d="M214.9 355.1H220.9V364.1H214.9zM220.9 352.1H238.8V355.1H220.9zM238.8 355.1H241.8V364.1H238.8zM406.5 549.3H415.4V555.2H406.5zM406.5 528.3H415.4V531.3H406.5zM415.4 531.3H418.4V549.3H415.4z"/>
<path fill="#95d840" shape-rendering="crispEdges" d="M214.9 352.1H220.9V355.1H214.9zM238.8 352.1H241.8V355.1H238.8zM415.4 549.3H418.4V555.2H415.4zM415.4 528.3H418.4V531.3H415.4z"/>
<path fill="#54c568" shape-rendering="crispEdges" d="M214.9 334.2H220.9V352.1H214.9zM238.8 334.2H241.8V352.1H238.8zM418.4 549.3H436.4V555.2H418.4zM418.4 528.3H436.4V531.3H418.4z"/>
<path fill="#38b977" shape-rendering="crispEdges" d="M214.9 331.2H220.9V334.2H214.9zM238.8 331.2H241.8V334.2H238.8zM436.4 549.3H439.4V555.2H436.4zM436.4 528.3H439.4V531.3H436.4z"/>
<path fill="#22a884" shape-rendering="crispEdges" d="M214.9 286.4H220.9V289.4H214.9zM214.9 244.6H220.9V247.6H214.9zM220.9 247.6H238.8V286.4H220.9zM238.8 286.4H241.8V289.4H238.8zM238.8 244.6H241.8V247.6H238.8zM481.3 549.3H484.3V555.2H481.3zM481.3 528.3H484.3V531.3H481.3zM484.3 531.3H523.2V549.3H484.3zM523.2 549.3H526.2V555.2H523.2zM523.2 528.3H526.2V531.3H523.2z"/>
<path fill="#1f9e89" shape-rendering="crispEdges" d="M214.9 193.8H220.9V217.7H214.9zM238.8 193.8H241.8V217.7H238.8zM553.1 549.3H577.1V555.2H553.1zM553.1 528.3H577.1V531.3H553.1z"/>
<path fill="#1fa187" shape-rendering="crispEdges" d="M214.9 169.9H220.9V193.8H214.9zM238.8 169.9H241.8V193.8H238.8zM577.1 549.3H601.0V555.2H577.1zM577.1 528.3H601.0V531.3H577.1z"/>
<path fill="#2eb37c" shape-rendering="crispEdges" d="M214.9 158.0H220.9V169.9H214.9zM238.8 158.0H241.8V169.9H238.8zM601.0 549.3H613.0V555.2H601.0zM601.0 528.3H613.0V531.3H601.0z"/>
<path fill="#48c16e" shape-rendering="crispEdges" d="M220.9 441.7H238.8V456.7H220.9zM313.7 531.3H328.6V549.3H313.7z"/>
<path fill="#98d83e" shape-rendering="crispEdges" d="M220.9 423.8H238.8V441.7H220.9zM328.6 531.3H346.6V549.3H328.6z"/>
<path fill="#69cd5b" shape-rendering="crispEdges" d="M220.9 411.9H238.8V423.8H220.9zM346.6 531.3H358.6V549.3H346.6z"/>
<path fill="#40bd72" shape-rendering="crispEdges" d="M220.9 382.0H238.8V399.9H220.9zM370.5 531.3H388.5V549.3H370.5z"/>
<path fill="#60ca60" shape-rendering="crispEdges" d="M220.9 373.0H238.8V382.0H220.9zM220.9 370.1H238.8V373.0H220.9zM388.5 531.3H397.5V549.3H388.5zM397.5 531.3H400.5V549.3H397.5z"/>
<path fill="#27ad81" shape-rendering="crispEdges" d="M220.9 238.6H238.8V244.6H220.9zM526.2 531.3H532.2V549.3H526.2z"/>
<path fill="#32658e" shape-rendering="crispEdges" d="M241.8 441.7H259.8V456.7H241.8zM259.8 441.7H271.8V456.7H259.8zM271.8 441.7H286.7V456.7H271.8zM313.7 510.4H328.6V528.3H313.7zM313.7 498.5H328.6V510.4H313.7zM313.7 483.5H328.6V498.5H313.7zM577.1 169.9H601.0V193.8H577.1zM577.1 158.0H601.0V169.9H577.1zM601.0 169.9H613.0V193.8H601.0zM601.0 158.0H613.0V169.9H601.0z"/>
<path fill="#2d718e" shape-rendering="crispEdges" d="M241.8 423.8H259.8V441.7H241.8zM241.8 411.9H259.8V423.8H241.8zM241.8 399.9H259.8V411.9H241.8zM259.8 423.8H271.8V441.7H259.8zM259.8 411.9H271.8V423.8H259.8zM259.8 399.9H271.8V411.9H259.8zM271.8 423.8H286.7V441.7H271.8zM271.8 411.9H286.7V423.8H271.8zM271.8 399.9H286.7V411.9H271.8zM328.6 510.4H346.6V528.3H328.6zM328.6 498.5H346.6V510.4H328.6zM328.6 483.5H346.6V498.5H328.6zM346.6 510.4H358.6V528.3H346.6zM346.6 498.5H358.6V510.4H346.6zM346.6 483.5H358.6V498.5H346.6zM358.6 510.4H370.5V528.3H358.6zM358.6 498.5H370.5V510.4H358.6zM358.6 483.5H370.5V498.5H358.6z"/>
<path fill="#306a8e" shape-rendering="crispEdges" d="M286.7 331.2H298.7V334.2H286.7zM286.7 289.4H298.7V331.2H286.7zM298.7 331.2H313.7V334.2H298.7zM298.7 289.4H313.7V331.2H298.7zM370.5 331.2H388.5V334.2H370.5zM370.5 289.4H388.5V331.2H370.5zM388.5 331.2H397.5V334.2H388.5zM388.5 289.4H397.5V331.2H388.5zM436.4 471.6H439.4V483.5H436.4zM436.4 456.7H439.4V471.6H436.4zM436.4 382.0H439.4V399.9H436.4zM436.4 373.0H439.4V382.0H436.4zM439.4 471.6H481.3V483.5H439.4zM439.4 456.7H481.3V471.6H439.4zM439.4 382.0H481.3V399.9H439.4zM439.4 373.0H481.3V382.0H439.4z"/>
<path fill="#29798e" shape-rendering="crispEdges" d="M286.7 286.4H298.7V289.4H286.7zM286.7 247.6H298.7V286.4H286.7zM286.7 244.6H298.7V247.6H286.7zM286.7 238.6H298.7V244.6H286.7zM298.7 286.4H313.7V289.4H298.7zM298.7 247.6H313.7V286.4H298.7zM298.7 244.6H313.7V247.6H298.7zM298.7 238.6H313.7V244.6H298.7zM370.5 286.4H388.5V289.4H370.5zM370.5 247.6H388.5V286.4H370.5zM370.5 244.6H388.5V247.6H370.5zM370.5 238.6H388.5V244.6H370.5zM388.5 286.4H397.5V289.4H388.5zM388.5 247.6H397.5V286.4H388.5zM388.5 244.6H397.5V247.6H388.5zM388.5 238.6H397.5V244.6H388.5zM481.3 471.6H484.3V483.5H481.3zM481.3 456.7H484.3V471.6H481.3zM481.3 382.0H484.3V399.9H481.3zM481.3 373.0H484.3V382.0H481.3zM484.3 471.6H523.2V483.5H484.3zM484.3 456.7H523.2V471.6H484.3zM484.3 382.0H523.2V399.9H484.3zM484.3 373.0H523.2V382.0H484.3zM523.2 471.6H526.2V483.5H523.2zM523.2 456.7H526.2V471.6H523.2zM523.2 382.0H526.2V399.9H523.2zM523.2 373.0H526.2V382.0H523.2zM526.2 471.6H532.2V483.5H526.2zM526.2 456.7H532.2V471.6H526.2zM526.2 382.0H532.2V399.9H526.2zM526.2 373.0H532.2V382.0H526.2z"/>
<path fill="#27808e" shape-rendering="crispEdges" d="M286.7 217.7H298.7V238.6H286.7zM286.7 193.8H298.7V217.7H286.7zM298.7 217.7H313.7V238.6H298.7zM298.7 193.8H313.7V217.7H298.7zM313.7 169.9H328.6V193.8H313.7zM313.7 158.0H328.6V169.9H313.7zM532.2 471.6H553.1V483.5H532.2zM532.2 456.7H553.1V471.6H532.2zM553.1 471.6H577.1V483.5H553.1zM553.1 456.7H577.1V471.6H553.1zM577.1 441.7H601.0V456.7H577.1zM601.0 441.7H613.0V456.7H601.0z"/>
<path fill="#33628d" shape-rendering="crispEdges" d="M313.7 331.2H328.6V334.2H313.7zM313.7 289.4H328.6V331.2H313.7zM436.4 441.7H439.4V456.7H436.4zM439.4 441.7H481.3V456.7H439.4z"/>
<path fill="#2b758e" shape-rendering="crispEdges" d="M397.5 331.2H400.5V334.2H397.5zM397.5 289.4H400.5V331.2H397.5zM400.5 331.2H406.5V334.2H400.5zM400.5 289.4H406.5V331.2H400.5zM406.5 331.2H415.4V334.2H406.5zM406.5 289.4H415.4V331.2H406.5zM415.4 331.2H418.4V334.2H415.4zM415.4 289.4H418.4V331.2H415.4zM418.4 331.2H436.4V334.2H418.4zM418.4 289.4H436.4V331.2H418.4zM436.4 370.1H439.4V373.0H436.4zM436.4 364.1H439.4V370.1H436.4zM436.4 355.1H439.4V364.1H436.4zM436.4 352.1H439.4V355.1H436.4zM436.4 334.2H439.4V352.1H436.4zM436.4 169.9H439.4V193.8H436.4zM436.4 158.0H439.4V169.9H436.4zM439.4 370.1H481.3V373.0H439.4zM439.4 364.1H481.3V370.1H439.4zM439.4 355.1H481.3V364.1H439.4zM439.4 352.1H481.3V355.1H439.4zM439.4 334.2H481.3V352.1H439.4zM439.4 169.9H481.3V193.8H439.4zM439.4 158.0H481.3V169.9H439.4zM532.2 169.9H553.1V193.8H532.2zM532.2 158.0H553.1V169.9H532.2zM553.1 169.9H577.1V193.8H553.1zM553.1 158.0H577.1V169.9H553.1zM577.1 331.2H601.0V334.2H577.1zM577.1 289.4H601.0V331.2H577.1zM577.1 217.7H601.0V238.6H577.1zM577.1 193.8H601.0V217.7H577.1zM601.0 331.2H613.0V334.2H601.0zM601.0 289.4H613.0V331.2H601.0zM601.0 217.7H613.0V238.6H601.0zM601.0 193.8H613.0V217.7H601.0z"/>
<path fill="#25858e" shape-rendering="crispEdges" d="M397.5 286.4H400.5V289.4H397.5zM397.5 247.6H400.5V286.4H397.5zM397.5 244.6H400.5V247.6H397.5zM397.5 238.6H400.5V244.6H397.5zM400.5 286.4H406.5V289.4H400.5zM400.5 247.6H406.5V286.4H400.5zM400.5 244.6H406.5V247.6H400.5zM400.5 238.6H406.5V244.6H400.5zM406.5 286.4H415.4V289.4H406.5zM406.5 247.6H415.4V286.4H406.5zM406.5 244.6H415.4V247.6H406.5zM406.5 238.6H415.4V244.6H406.5zM415.4 286.4H418.4V289.4H415.4zM415.4 247.6H418.4V286.4H415.4zM415.4 244.6H418.4V247.6H415.4zM415.4 238.6H418.4V244.6H415.4zM418.4 286.4H436.4V289.4H418.4zM418.4 247.6H436.4V286.4H418.4zM418.4 244.6H436.4V247.6H418.4zM418.4 238.6H436.4V244.6H418.4zM481.3 370.1H484.3V373.0H481.3zM481.3 364.1H484.3V370.1H481.3zM481.3 355.1H484.3V364.1H481.3zM481.3 352.1H484.3V355.1H481.3zM481.3 334.2H484.3V352.1H481.3zM481.3 169.9H484.3V193.8H481.3zM481.3 158.0H484.3V169.9H481.3zM484.3 370.1H523.2V373.0H484.3zM484.3 364.1H523.2V370.1H484.3zM484.3 355.1H523.2V364.1H484.3zM484.3 352.1H523.2V355.1H484.3zM484.3 334.2H523.2V352.1H484.3zM484.3 169.9H523.2V193.8H484.3zM484.3 158.0H523.2V169.9H484.3zM523.2 370.1H526.2V373.0H523.2zM523.2 364.1H526.2V370.1H523.2zM523.2 355.1H526.2V364.1H523.2zM523.2 352.1H526.2V355.1H523.2zM523.2 334.2H526.2V352.1H523.2zM523.2 169.9H526.2V193.8H523.2zM523.2 158.0H526.2V169.9H523.2zM526.2 370.1H532.2V373.0H526.2zM526.2 364.1H532.2V370.1H526.2zM526.2 355.1H532.2V364.1H526.2zM526.2 352.1H532.2V355.1H526.2zM526.2 334.2H532.2V352.1H526.2zM526.2 169.9H532.2V193.8H526.2zM526.2 158.0H532.2V169.9H526.2zM577.1 286.4H601.0V289.4H577.1zM577.1 247.6H601.0V286.4H577.1zM577.1 244.6H601.0V247.6H577.1zM577.1 238.6H601.0V244.6H577.1zM601.0 286.4H613.0V289.4H601.0zM601.0 247.6H613.0V286.4H601.0zM601.0 244.6H613.0V247.6H601.0zM601.0 238.6H613.0V244.6H601.0z"/>
<path fill="#38588c" shape-rendering="crispEdges" d="M532.2 217.7H553.1V238.6H532.2zM532.2 193.8H553.1V217.7H532.2zM553.1 217.7H577.1V238.6H553.1zM553.1 193.8H577.1V217.7H553.1z"/>
<path fill="#440154" d="M164.0 603.0h2.99v2.99h-2.99zM167.0 600.0h2.99v2.99h-2.99zM170.0 597.0h2.99v2.99h-2.99zM173.0 594.1h2.99v2.99h-2.99zM176.0 591.1h2.99v2.99h-2.99zM179.0 588.1h2.99v2.99h-2.99zM182.0 585.1h2.99v2.99h-2.99zM185.0 582.1h2.99v2.99h-2.99zM187.9 579.1h2.99v2.99h-2.99zM190.9 576.1h2.99v2.99h-2.99zM193.9 573.1h2.99v2.99h-2.99zM196.9 570.2h2.99v2.99h-2.99zM199.9 567.2h2.99v2.99h-2.99zM202.9 564.2h2.99v2.99h-2.99zM205.9 561.2h2.99v2.99h-2.99zM208.9 558.2h2.99v2.99h-2.99zM211.9 555.2h2.99v2.99h-2.99zM214.9 552.2h2.99v2.99h-2.99zM217.9 549.3h2.99v2.99h-2.99zM220.9 546.3h2.99v2.99h-2.99zM223.9 543.3h2.99v2.99h-2.99zM226.9 540.3h2.99v2.99h-2.99zM229.9 537.3h2.99v2.99h-2.99zM232.8 534.3h2.99v2.99h-2.99zM235.8 531.3h2.99v2.99h-2.99zM238.8 528.3h2.99v2.99h-2.99zM241.8 525.4h2.99v2.99h-2.99zM244.8 522.4h2.99v2.99h-2.99zM247.8 519.4h2.99v2.99h-2.99zM250.8 516.4h2.99v2.99h-2.99zM253.8 513.4h2.99v2.99h-2.99zM256.8 510.4h2.99v2.99h-2.99zM259.8 507.4h2.99v2.99h-2.99zM262.8 504.5h2.99v2.99h-2.99zM265.8 501.5h2.99v2.99h-2.99zM268.8 498.5h2.99v2.99h-2.99zM271.8 495.5h2.99v2.99h-2.99zM274.8 492.5h2.99v2.99h-2.99zM277.7 489.5h2.99v2.99h-2.99zM280.7 486.5h2.99v2.99h-2.99zM283.7 483.5h2.99v2.99h-2.99zM286.7 480.6h2.99v2.99h-2.99zM289.7 477.6h2.99v2.99h-2.99zM292.7 474.6h2.99v2.99h-2.99zM295.7 471.6h2.99v2.99h-2.99zM298.7 468.6h2.99v2.99h-2.99zM301.7 465.6h2.99v2.99h-2.99zM304.7 462.6h2.99v2.99h-2.99zM307.7 459.7h2.99v2.99h-2.99zM310.7 456.7h2.99v2.99h-2.99zM313.7 453.7h2.99v2.99h-2.99zM316.7 450.7h2.99v2.99h-2.99zM319.7 447.7h2.99v2.99h-2.99zM322.6 444.7h2.99v2.99h-2.99zM325.6 441.7h2.99v2.99h-2.99zM328.6 438.7h2.99v2.99h-2.99zM331.6 435.8h2.99v2.99h-2.99zM334.6 432.8h2.99v2.99h-2.99zM337.6 429.8h2.99v2.99h-2.99zM340.6 426.8h2.99v2.99h-2.99zM343.6 423.8h2.99v2.99h-2.99zM346.6 420.8h2.99v2.99h-2.99zM349.6 417.8h2.99v2.99h-2.99zM352.6 414.9h2.99v2.99h-2.99zM355.6 411.9h2.99v2.99h-2.99zM358.6 408.9h2.99v2.99h-2.99zM361.6 405.9h2.99v2.99h-2.99zM364.6 402.9h2.99v2.99h-2.99zM367.5 399.9h2.99v2.99h-2.99zM370.5 396.9h2.99v2.99h-2.99zM373.5 393.9h2.99v2.99h-2.99zM376.5 391.0h2.99v2.99h-2.99zM379.5 388.0h2.99v2.99h-2.99zM382.5 385.0h2.99v2.99h-2.99zM385.5 382.0h2.99v2.99h-2.99zM388.5 379.0h2.99v2.99h-2.99zM391.5 376.0h2.99v2.99h-2.99zM394.5 373.0h2.99v2.99h-2.99zM397.5 370.1h2.99v2.99h-2.99zM400.5 367.1h2.99v2.99h-2.99zM403.5 364.1h2.99v2.99h-2.99zM406.5 361.1h2.99v2.99h-2.99zM409.5 358.1h2.99v2.99h-2.99zM412.4 355.1h2.99v2.99h-2.99zM415.4 352.1h2.99v2.99h-2.99zM418.4 349.1h2.99v2.99h-2.99zM421.4 346.2h2.99v2.99h-2.99zM424.4 343.2h2.99v2.99h-2.99zM427.4 340.2h2.99v2.99h-2.99zM430.4 337.2h2.99v2.99h-2.99zM433.4 334.2h2.99v2.99h-2.99zM436.4 331.2h2.99v2.99h-2.99zM439.4 328.2h2.99v2.99h-2.99zM442.4 325.3h2.99v2.99h-2.99zM445.4 322.3h2.99v2.99h-2.99zM448.4 319.3h2.99v2.99h-2.99zM451.4 316.3h2.99v2.99h-2.99zM454.4 313.3h2.99v2.99h-2.99zM457.3 310.3h2.99v2.99h-2.99zM460.3 307.3h2.99v2.99h-2.99zM463.3 304.3h2.99v2.99h-2.99zM466.3 301.4h2.99v2.99h-2.99zM469.3 298.4h2.99v2.99h-2.99zM472.3 295.4h2.99v2.99h-2.99zM475.3 292.4h2.99v2.99h-2.99zM478.3 289.4h2.99v2.99h-2.99zM481.3 286.4h2.99v2.99h-2.99zM484.3 283.4h2.99v2.99h-2.99zM487.3 280.5h2.99v2.99h-2.99zM490.3 277.5h2.99v2.99h-2.99zM493.3 274.5h2.99v2.99h-2.99zM496.3 271.5h2.99v2.99h-2.99zM499.3 268.5h2.99v2.99h-2.99zM502.2 265.5h2.99v2.99h-2.99zM505.2 262.5h2.99v2.99h-2.99zM508.2 259.5h2.99v2.99h-2.99zM511.2 256.6h2.99v2.99h-2.99zM514.2 253.6h2.99v2.99h-2.99zM517.2 250.6h2.99v2.99h-2.99zM520.2 247.6h2.99v2.99h-2.99zM523.2 244.6h2.99v2.99h-2.99zM526.2 241.6h2.99v2.99h-2.99zM529.2 238.6h2.99v2.99h-2.99zM532.2 235.7h2.99v2.99h-2.99zM535.2 232.7h2.99v2.99h-2.99zM538.2 229.7h2.99v2.99h-2.99zM541.2 226.7h2.99v2.99h-2.99zM544.2 223.7h2.99v2.99h-2.99zM547.1 220.7h2.99v2.99h-2.99zM550.1 217.7h2.99v2.99h-2.99zM553.1 214.7h2.99v2.99h-2.99zM556.1 211.8h2.99v2.99h-2.99zM559.1 208.8h2.99v2.99h-2.99zM562.1 205.8h2.99v2.99h-2.99zM565.1 202.8h2.99v2.99h-2.99zM568.1 199.8h2.99v2.99h-2.99zM571.1 196.8h2.99v2.99h-2.99zM574.1 193.8h2.99v2.99h-2.99zM577.1 190.9h2.99v2.99h-2.99zM580.1 187.9h2.99v2.99h-2.99zM583.1 184.9h2.99v2.99h-2.99zM586.1 181.9h2.99v2.99h-2.99zM589.1 178.9h2.99v2.99h-2.99zM592.0 175.9h2.99v2.99h-2.99zM595.0 172.9h2.99v2.99h-2.99zM598.0 169.9h2.99v2.99h-2.99zM601.0 167.0h2.99v2.99h-2.99zM604.0 164.0h2.99v2.99h-2.99zM607.0 161.0h2.99v2.99h-2.99zM610.0 158.0h2.99v2.99h-2.99z"/>
<path fill="none" stroke="#e31a1c" stroke-width="1.6" d="M164.0 594.1H176.0V606.0H164.0zM176.0 555.2H214.9V594.1H176.0zM214.9 528.3H241.8V555.2H214.9zM241.8 483.5H286.7V528.3H241.8zM286.7 399.9H370.5V483.5H286.7zM370.5 373.0H397.5V399.9H370.5zM397.5 334.2H436.4V373.0H397.5zM436.4 238.6H532.2V334.2H436.4zM532.2 193.8H577.1V238.6H532.2zM577.1 158.0H613.0V193.8H577.1z"/>
<path fill="none" stroke="#333a40" stroke-opacity="0.75" stroke-width="1" d="M164.5 606.0V158.5H613.0"/>
<path fill="none" stroke="#3a9e3a" stroke-width="1.3" d="M165.5 150.5V137.0H168.5V150.5M171.5 150.5V138.3H174.5V150.5M167.0 137.0V118.1H173.0V138.3M180.5 150.5V136.9H183.5V150.5M177.5 150.5V135.1H182.0V136.9M186.4 150.5V137.9H189.4V150.5M192.4 150.5V138.9H195.4V150.5M198.4 150.5V138.5H201.4V150.5M204.4 150.5V136.9H207.4V150.5M205.9 136.9V135.9H210.4V150.5M208.2 135.9V134.9H213.4V150.5M199.9 138.5V132.0H210.8V134.9M193.9 138.9V131.0H205.3V132.0M187.9 137.9V130.0H199.6V131.0M179.7 135.1V129.0H193.8V130.0M222.4 150.5V140.0H225.4V150.5M223.9 140.0V136.4H228.4V150.5M231.3 150.5V139.0H234.3V150.5M226.1 136.4V132.7H232.8V139.0M219.4 150.5V131.7H229.5V132.7M216.4 150.5V130.7H224.4V131.7M237.3 150.5V137.4H240.3V150.5M220.4 130.7V124.9H238.8V137.4M186.8 129.0V111.2H229.6V124.9M170.0 118.1V98.3H208.2V111.2"/>
<path fill="none" stroke="#f43c3c" stroke-width="1.3" d="M243.3 150.5V138.7H246.3V150.5M244.8 138.7V135.6H249.3V150.5M255.3 150.5V136.4H258.3V150.5M252.3 150.5V134.4H256.8V136.4M264.3 150.5V139.4H267.3V150.5M261.3 150.5V135.0H265.8V139.4M270.3 150.5V137.6H273.3V150.5M271.8 137.6V133.4H276.2V150.5M263.5 135.0V131.1H274.0V133.4M254.5 134.4V129.9H268.8V131.1M279.2 150.5V139.6H282.2V150.5M280.7 139.6V133.8H285.2V150.5M261.7 129.9V128.7H283.0V133.8M247.1 135.6V126.5H272.3V128.7M288.2 150.5V139.3H291.2V150.5M294.2 150.5V138.1H297.2V150.5M300.2 150.5V139.0H303.2V150.5M295.7 138.1V135.9H301.7V139.0M289.7 139.3V129.6H298.7V135.9M312.2 150.5V139.4H315.2V150.5M309.2 150.5V136.2H313.7V139.4M306.2 150.5V134.4H311.4V136.2M308.8 134.4V130.7H318.2V150.5M294.2 129.6V124.6H313.5V130.7M321.1 150.5V139.1H324.1V150.5M327.1 150.5V138.3H330.1V150.5M322.6 139.1V134.7H328.6V138.3M333.1 150.5V137.0H336.1V150.5M334.6 137.0V133.2H339.1V150.5M325.6 134.7V130.7H336.9V133.2M342.1 150.5V137.7H345.1V150.5M348.1 150.5V136.3H351.1V150.5M360.1 150.5V137.8H363.1V150.5M357.1 150.5V136.8H361.6V137.8M354.1 150.5V135.8H359.3V136.8M366.0 150.5V139.9H369.0V150.5M356.7 135.8V131.5H367.5V139.9M349.6 136.3V130.5H362.1V131.5M343.6 137.7V129.5H355.9V130.5M331.3 130.7V127.5H349.7V129.5M303.8 124.6V119.8H340.5V127.5M259.7 126.5V110.2H322.2V119.8M372.0 150.5V137.8H375.0V150.5M384.0 150.5V138.8H387.0V150.5M381.0 150.5V136.9H385.5V138.8M378.0 150.5V135.9H383.3V136.9M380.6 135.9V132.0H390.0V150.5M393.0 150.5V136.3H396.0V150.5M385.3 132.0V131.0H394.5V136.3M373.5 137.8V130.0H389.9V131.0M405.0 150.5V138.0H408.0V150.5M402.0 150.5V137.0H406.5V138.0M399.0 150.5V136.0H404.2V137.0M413.9 150.5V136.1H416.9V150.5M419.9 150.5V138.5H422.9V150.5M415.4 136.1V134.8H421.4V138.5M410.9 150.5V131.5H418.4V134.8M428.9 150.5V137.3H431.9V150.5M430.4 137.3V136.3H434.9V150.5M425.9 150.5V135.3H432.7V136.3M414.7 131.5V129.4H429.3V135.3M401.6 136.0V121.5H422.0V129.4M381.7 130.0V109.5H411.8V121.5M437.9 150.5V137.0H440.9V150.5M446.9 150.5V138.6H449.9V150.5M443.9 150.5V136.1H448.4V138.6M455.8 150.5V138.1H458.8V150.5M452.9 150.5V136.5H457.3V138.1M455.1 136.5V135.5H461.8V150.5M458.5 135.5V131.5H464.8V150.5M446.1 136.1V130.3H461.6V131.5M439.4 137.0V128.0H453.9V130.3M470.8 150.5V139.5H473.8V150.5M479.8 150.5V137.9H482.8V150.5M476.8 150.5V136.9H481.3V137.9M479.0 136.9V135.9H485.8V150.5M472.3 139.5V131.7H482.4V135.9M467.8 150.5V130.7H477.4V131.7M491.8 150.5V137.8H494.8V150.5M493.3 137.8V135.7H497.8V150.5M500.8 150.5V138.3H503.7V150.5M495.5 135.7V132.1H502.2V138.3M488.8 150.5V131.1H498.9V132.1M472.6 130.7V128.7H493.8V131.1M509.7 150.5V137.1H512.7V150.5M518.7 150.5V137.9H521.7V150.5M515.7 150.5V136.4H520.2V137.9M511.2 137.1V132.1H518.0V136.4M506.7 150.5V131.1H514.6V132.1M524.7 150.5V136.4H527.7V150.5M526.2 136.4V132.9H530.7V150.5M510.7 131.1V129.9H528.4V132.9M483.2 128.7V121.3H519.6V129.9M446.6 128.0V114.5H501.4V121.3M536.7 150.5V138.9H539.7V150.5M538.2 138.9V134.8H542.7V150.5M533.7 150.5V133.8H540.4V134.8M548.6 150.5V136.8H551.6V150.5M545.6 150.5V135.4H550.1V136.8M557.6 150.5V139.5H560.6V150.5M554.6 150.5V135.7H559.1V139.5M556.9 135.7V134.1H563.6V150.5M547.9 135.4V131.0H560.2V134.1M566.6 150.5V138.3H569.6V150.5M572.6 150.5V136.4H575.6V150.5M568.1 138.3V134.0H574.1V136.4M554.1 131.0V130.0H571.1V134.0M537.0 133.8V129.0H562.6V130.0M578.6 150.5V136.8H581.6V150.5M580.1 136.8V134.2H584.6V150.5M590.5 150.5V138.8H593.5V150.5M587.6 150.5V133.4H592.0V138.8M582.3 134.2V131.1H589.8V133.4M596.5 150.5V137.6H599.5V150.5M586.1 131.1V129.9H598.0V137.6M608.5 150.5V136.9H611.5V150.5M605.5 150.5V135.9H610.0V136.9M602.5 150.5V134.9H607.8V135.9M592.0 129.9V126.5H605.1V134.9M549.8 129.0V109.5H598.6V126.5M474.0 114.5V96.9H574.2V109.5M396.8 109.5V79.5H524.1V96.9M290.9 110.2V60.0H460.4V79.5"/>
<path fill="none" stroke="#5252f0" stroke-width="1.3" d="M189.1 98.3V7.5H375.7V60.0"/>
<path fill="none" stroke="#3a9e3a" stroke-width="1.3" d="M157.5 604.5H144.0V601.5H157.5M157.5 598.5H145.3V595.5H157.5M144.0 603.0H125.1V597.0H145.3M157.5 589.6H143.9V586.6H157.5M157.5 592.6H142.1V588.1H143.9M157.5 583.6H144.9V580.6H157.5M157.5 577.6H145.9V574.6H157.5M157.5 571.7H145.5V568.7H157.5M157.5 565.7H143.9V562.7H157.5M143.9 564.2H142.9V559.7H157.5M142.9 561.9H141.9V556.7H157.5M145.5 570.2H139.0V559.3H141.9M145.9 576.1H138.0V564.7H139.0M144.9 582.1H137.0V570.4H138.0M142.1 590.3H136.0V576.3H137.0M157.5 547.8H147.0V544.8H157.5M147.0 546.3H143.4V541.8H157.5M157.5 538.8H146.0V535.8H157.5M143.4 544.0H139.7V537.3H146.0M157.5 550.7H138.7V540.7H139.7M157.5 553.7H137.7V545.7H138.7M157.5 532.8H144.4V529.8H157.5M137.7 549.7H131.9V531.3H144.4M136.0 583.3H118.2V540.5H131.9M125.1 600.0H105.3V561.9H118.2"/>
<path fill="none" stroke="#f43c3c" stroke-width="1.3" d="M157.5 526.9H145.7V523.9H157.5M145.7 525.4H142.6V520.9H157.5M157.5 514.9H143.4V511.9H157.5M157.5 517.9H141.4V513.4H143.4M157.5 505.9H146.4V503.0H157.5M157.5 508.9H142.0V504.5H146.4M157.5 500.0H144.6V497.0H157.5M144.6 498.5H140.4V494.0H157.5M142.0 506.7H138.1V496.2H140.4M141.4 515.7H136.9V501.5H138.1M157.5 491.0H146.6V488.0H157.5M146.6 489.5H140.8V485.0H157.5M136.9 508.6H135.7V487.3H140.8M142.6 523.1H133.5V497.9H135.7M157.5 482.1H146.3V479.1H157.5M157.5 476.1H145.1V473.1H157.5M157.5 470.1H146.0V467.1H157.5M145.1 474.6H142.9V468.6H146.0M146.3 480.6H136.6V471.6H142.9M157.5 458.2H146.4V455.2H157.5M157.5 461.1H143.2V456.7H146.4M157.5 464.1H141.4V458.9H143.2M141.4 461.5H137.7V452.2H157.5M136.6 476.1H131.6V456.9H137.7M157.5 449.2H146.1V446.2H157.5M157.5 443.2H145.3V440.2H157.5M146.1 447.7H141.7V441.7H145.3M157.5 437.3H144.0V434.3H157.5M144.0 435.8H140.2V431.3H157.5M141.7 444.7H137.7V433.5H140.2M157.5 428.3H144.7V425.3H157.5M157.5 422.3H143.3V419.3H157.5M157.5 410.4H144.8V407.4H157.5M157.5 413.4H143.8V408.9H144.8M157.5 416.3H142.8V411.1H143.8M157.5 404.4H146.9V401.4H157.5M142.8 413.7H138.5V402.9H146.9M143.3 420.8H137.5V408.3H138.5M144.7 426.8H136.5V414.6H137.5M137.7 439.1H134.5V420.7H136.5M131.6 466.5H126.8V429.9H134.5M133.5 510.5H117.2V448.2H126.8M157.5 398.4H144.8V395.4H157.5M157.5 386.5H145.8V383.5H157.5M157.5 389.5H143.9V385.0H145.8M157.5 392.5H142.9V387.2H143.9M142.9 389.8H139.0V380.5H157.5M157.5 377.5H143.3V374.5H157.5M139.0 385.2H138.0V376.0H143.3M144.8 396.9H137.0V380.6H138.0M157.5 365.6H145.0V362.6H157.5M157.5 368.6H144.0V364.1H145.0M157.5 371.5H143.0V366.3H144.0M157.5 356.6H143.1V353.6H157.5M157.5 350.6H145.5V347.7H157.5M143.1 355.1H141.8V349.1H145.5M157.5 359.6H138.5V352.1H141.8M157.5 341.7H144.3V338.7H157.5M144.3 340.2H143.3V335.7H157.5M157.5 344.7H142.3V337.9H143.3M138.5 355.9H136.4V341.3H142.3M143.0 368.9H128.5V348.6H136.4M137.0 388.8H116.5V358.8H128.5M157.5 332.7H144.0V329.7H157.5M157.5 323.8H145.6V320.8H157.5M157.5 326.7H143.1V322.3H145.6M157.5 314.8H145.1V311.8H157.5M157.5 317.8H143.5V313.3H145.1M143.5 315.5H142.5V308.8H157.5M142.5 312.2H138.5V305.8H157.5M143.1 324.5H137.3V309.0H138.5M144.0 331.2H135.0V316.8H137.3M157.5 299.9H146.5V296.9H157.5M157.5 290.9H144.9V287.9H157.5M157.5 293.9H143.9V289.4H144.9M143.9 291.7H142.9V284.9H157.5M146.5 298.4H138.7V288.3H142.9M157.5 302.9H137.7V293.3H138.7M157.5 279.0H144.8V276.0H157.5M144.8 277.5H142.7V273.0H157.5M157.5 270.0H145.3V267.0H157.5M142.7 275.2H139.1V268.5H145.3M157.5 281.9H138.1V271.9H139.1M137.7 298.1H135.7V276.9H138.1M157.5 261.0H144.1V258.1H157.5M157.5 252.1H144.9V249.1H157.5M157.5 255.1H143.4V250.6H144.9M144.1 259.5H139.1V252.8H143.4M157.5 264.0H138.1V256.2H139.1M157.5 246.1H143.4V243.1H157.5M143.4 244.6H139.9V240.1H157.5M138.1 260.1H136.9V242.4H139.9M135.7 287.5H128.3V251.2H136.9M135.0 324.0H121.5V269.4H128.3M157.5 234.2H145.9V231.2H157.5M145.9 232.7H141.8V228.2H157.5M157.5 237.1H140.8V230.4H141.8M157.5 222.2H143.8V219.2H157.5M157.5 225.2H142.4V220.7H143.8M157.5 213.3H146.5V210.3H157.5M157.5 216.2H142.7V211.8H146.5M142.7 214.0H141.1V207.3H157.5M142.4 223.0H138.0V210.6H141.1M157.5 204.3H145.3V201.3H157.5M157.5 198.3H143.4V195.3H157.5M145.3 202.8H141.0V196.8H143.4M138.0 216.8H137.0V199.8H141.0M140.8 233.8H136.0V208.3H137.0M157.5 192.3H143.8V189.4H157.5M143.8 190.9H141.2V186.4H157.5M157.5 180.4H145.8V177.4H157.5M157.5 183.4H140.4V178.9H145.8M141.2 188.6H138.1V181.1H140.4M157.5 174.4H144.6V171.4H157.5M138.1 184.9H136.9V172.9H144.6M157.5 162.5H143.9V159.5H157.5M157.5 165.5H142.9V161.0H143.9M157.5 168.5H141.9V163.2H142.9M136.9 178.9H133.5V165.8H141.9M136.0 221.0H116.5V172.4H133.5M121.5 296.7H103.9V196.7H116.5M116.5 373.8H86.5V246.7H103.9M117.2 479.4H67.0V310.2H86.5"/>
<path fill="none" stroke="#5252f0" stroke-width="1.3" d="M105.3 581.0H14.5V394.8H67.0"/>
<path d="M25.0 606.0H108.0" stroke="#8a8af5" stroke-width="1"/>
<rect x="164.5" y="1.5" width="449.0" height="149.0" fill="none" stroke="#777" stroke-width="1"/>
<rect x="7.5" y="158.5" width="150.0" height="447.5" fill="none" stroke="#888" stroke-width="1"/>
<linearGradient id="g0" x1="0" y1="0" x2="0" y2="1"><stop offset="0.00" stop-color="#fde725"/><stop offset="0.05" stop-color="#dde318"/><stop offset="0.10" stop-color="#bddf26"/><stop offset="0.15" stop-color="#9bd93c"/><stop offset="0.20" stop-color="#7ad151"/><stop offset="0.25" stop-color="#5cc863"/><stop offset="0.30" stop-color="#42be71"/><stop offset="0.35" stop-color="#2fb47c"/><stop offset="0.40" stop-color="#22a884"/><stop offset="0.45" stop-color="#1e9c89"/><stop offset="0.50" stop-color="#21918c"/><stop offset="0.55" stop-color="#25848e"/><stop offset="0.60" stop-color="#2a788e"/><stop offset="0.65" stop-color="#2f6c8e"/><stop offset="0.70" stop-color="#34608d"/><stop offset="0.75" stop-color="#3b528b"/><stop offset="0.80" stop-color="#414487"/><stop offset="0.85" stop-color="#463480"/><stop offset="0.90" stop-color="#482475"/><stop offset="0.95" stop-color="#481467"/><stop offset="1.00" stop-color="#440154"/></linearGradient>
<rect x="620.5" y="158.0" width="14.0" height="448.0" fill="url(#g0)" stroke="#666" stroke-width="1"/>
<path d="M634.5 606.0h2.5" stroke="#444" stroke-width="0.8"/>
<text x="640.5" y="609.0" font-size="8.2" fill="#1e1e1e" textLength="13.8" lengthAdjust="spacingAndGlyphs">0.00</text>
<path d="M634.5 534.7h2.5" stroke="#444" stroke-width="0.8"/>
<text x="640.5" y="537.7" font-size="8.2" fill="#1e1e1e" textLength="13.8" lengthAdjust="spacingAndGlyphs">0.05</text>
<path d="M634.5 463.4h2.5" stroke="#444" stroke-width="0.8"/>
<text x="640.5" y="466.4" font-size="8.2" fill="#1e1e1e" textLength="13.8" lengthAdjust="spacingAndGlyphs">0.10</text>
<path d="M634.5 392.1h2.5" stroke="#444" stroke-width="0.8"/>
<text x="640.5" y="395.1" font-size="8.2" fill="#1e1e1e" textLength="13.8" lengthAdjust="spacingAndGlyphs">0.15</text>
<path d="M634.5 320.8h2.5" stroke="#444" stroke-width="0.8"/>
<text x="640.5" y="323.8" font-size="8.2" fill="#1e1e1e" textLength="13.8" lengthAdjust="spacingAndGlyphs">0.20</text>
<path d="M634.5 249.5h2.5" stroke="#444" stroke-width="0.8"/>
<text x="640.5" y="252.5" font-size="8.2" fill="#1e1e1e" textLength="13.8" lengthAdjust="spacingAndGlyphs">0.25</text>
<path d="M634.5 178.2h2.5" stroke="#444" stroke-width="0.8"/>
<text x="640.5" y="181.2" font-size="8.2" fill="#1e1e1e" textLength="13.8" lengthAdjust="spacingAndGlyphs">0.30</text>
<text x="665.5" y="398.5" font-size="35" font-weight="bold" fill="#0f1a1c" stroke="#0f1a1c" stroke-width="0.7">a</text>
<path fill="#31678e" shape-rendering="crispEdges" d="M158.0 1213.8H170.0V1225.8H158.0zM158.0 1204.9H170.0V1213.8H158.0zM170.0 1213.8H178.9V1225.8H170.0zM170.0 1204.9H178.9V1213.8H170.0zM178.9 1192.9H190.9V1204.9H178.9zM178.9 1178.0H190.9V1192.9H178.9zM190.9 1192.9H205.9V1204.9H190.9zM190.9 1178.0H205.9V1192.9H190.9zM205.9 1169.0H214.8V1178.0H205.9zM205.9 1151.1H214.8V1169.0H205.9zM205.9 1139.1H214.8V1151.1H205.9zM205.9 1136.1H214.8V1139.1H205.9zM214.8 1169.0H232.8V1178.0H214.8zM214.8 1151.1H232.8V1169.0H214.8zM214.8 1139.1H232.8V1151.1H214.8zM214.8 1136.1H232.8V1139.1H214.8zM232.8 1169.0H244.7V1178.0H232.8zM232.8 1151.1H244.7V1169.0H232.8zM232.8 1139.1H244.7V1151.1H232.8zM232.8 1136.1H244.7V1139.1H232.8zM244.7 1169.0H247.7V1178.0H244.7zM244.7 1151.1H247.7V1169.0H244.7zM244.7 1139.1H247.7V1151.1H244.7zM244.7 1136.1H247.7V1139.1H244.7z"/>
<path fill="#228b8d" shape-rendering="crispEdges" d="M158.0 1192.9H170.0V1204.9H158.0zM158.0 1178.0H170.0V1192.9H158.0zM170.0 1192.9H178.9V1204.9H170.0zM170.0 1178.0H178.9V1192.9H170.0zM170.0 831.3H178.9V846.2H170.0zM178.9 1213.8H190.9V1225.8H178.9zM178.9 1204.9H190.9V1213.8H178.9zM190.9 1213.8H205.9V1225.8H190.9zM190.9 1204.9H205.9V1213.8H190.9zM247.7 923.9H277.6V932.9H247.7zM451.1 1106.3H460.1V1136.1H451.1zM537.8 1204.9H552.8V1213.8H537.8z"/>
<path fill="#25ab82" shape-rendering="crispEdges" d="M158.0 1169.0H170.0V1178.0H158.0zM158.0 980.7H170.0V992.7H158.0zM158.0 923.9H170.0V932.9H158.0zM205.9 1213.8H214.8V1225.8H205.9zM247.7 816.4H277.6V831.3H247.7zM286.6 795.4H322.5V810.4H286.6zM391.3 1213.8H403.2V1225.8H391.3zM451.1 1213.8H460.1V1225.8H451.1zM552.8 1106.3H567.7V1136.1H552.8zM573.7 1061.4H588.7V1097.3H573.7z"/>
<path fill="#20a486" shape-rendering="crispEdges" d="M158.0 1151.1H170.0V1169.0H158.0zM158.0 941.9H170.0V947.9H158.0zM170.0 1139.1H178.9V1151.1H170.0zM190.9 858.2H205.9V873.1H190.9zM214.8 1213.8H232.8V1225.8H214.8zM232.8 1204.9H244.7V1213.8H232.8zM436.1 1213.8H442.1V1225.8H436.1zM510.9 1178.0H525.9V1192.9H510.9z"/>
<path fill="#2db27d" shape-rendering="crispEdges" d="M158.0 1139.1H170.0V1151.1H158.0zM232.8 1213.8H244.7V1225.8H232.8z"/>
<path fill="#1fa187" shape-rendering="crispEdges" d="M158.0 1136.1H170.0V1139.1H158.0zM158.0 1025.6H170.0V1052.5H158.0zM158.0 918.0H170.0V923.9H158.0zM244.7 1213.8H247.7V1225.8H244.7zM331.5 1213.8H358.4V1225.8H331.5zM460.1 1213.8H466.0V1225.8H460.1z"/>
<path fill="#42be71" shape-rendering="crispEdges" d="M158.0 1106.3H170.0V1136.1H158.0zM232.8 777.5H244.7V795.4H232.8zM247.7 1213.8H277.6V1225.8H247.7zM588.7 1139.1H606.6V1151.1H588.7z"/>
<path fill="#24aa83" shape-rendering="crispEdges" d="M158.0 1097.3H170.0V1106.3H158.0zM178.9 1004.6H190.9V1025.6H178.9zM178.9 977.7H190.9V980.7H178.9zM178.9 953.8H190.9V956.8H178.9zM277.6 1213.8H286.6V1225.8H277.6zM358.4 1192.9H379.3V1204.9H358.4zM403.2 1192.9H406.2V1204.9H403.2zM427.2 1192.9H430.2V1204.9H427.2z"/>
<path fill="#38b977" shape-rendering="crispEdges" d="M158.0 1061.4H170.0V1097.3H158.0zM286.6 1213.8H322.5V1225.8H286.6z"/>
<path fill="#22a884" shape-rendering="crispEdges" d="M158.0 1058.4H170.0V1061.4H158.0zM158.0 956.8H170.0V977.7H158.0zM178.9 1052.5H190.9V1058.4H178.9zM178.9 932.9H190.9V941.9H178.9zM286.6 816.4H322.5V831.3H286.6zM322.5 1213.8H325.5V1225.8H322.5zM322.5 777.5H325.5V795.4H322.5zM325.5 1192.9H331.5V1204.9H325.5zM325.5 777.5H331.5V795.4H325.5zM331.5 777.5H358.4V795.4H331.5zM358.4 777.5H379.3V795.4H358.4zM379.3 777.5H391.3V795.4H379.3zM391.3 777.5H403.2V795.4H391.3zM403.2 777.5H406.2V795.4H403.2zM406.2 1213.8H427.2V1225.8H406.2zM406.2 777.5H427.2V795.4H406.2zM427.2 777.5H430.2V795.4H427.2zM430.2 777.5H436.1V795.4H430.2zM442.1 1192.9H451.1V1204.9H442.1zM552.8 1061.4H567.7V1097.3H552.8zM588.7 1058.4H606.6V1061.4H588.7zM588.7 1052.5H606.6V1058.4H588.7zM588.7 1025.6H606.6V1052.5H588.7zM588.7 1004.6H606.6V1025.6H588.7zM588.7 992.7H606.6V1004.6H588.7zM588.7 980.7H606.6V992.7H588.7zM588.7 977.7H606.6V980.7H588.7zM588.7 956.8H606.6V977.7H588.7zM588.7 953.8H606.6V956.8H588.7zM588.7 947.9H606.6V953.8H588.7z"/>
<path fill="#1f988b" shape-rendering="crispEdges" d="M158.0 1052.5H170.0V1058.4H158.0zM158.0 932.9H170.0V941.9H158.0zM170.0 992.7H178.9V1004.6H170.0zM205.9 795.4H214.8V810.4H205.9zM244.7 810.4H247.7V816.4H244.7zM325.5 1213.8H331.5V1225.8H325.5zM379.3 1204.9H391.3V1213.8H379.3zM442.1 1213.8H451.1V1225.8H442.1zM567.7 1136.1H573.7V1139.1H567.7zM573.7 1169.0H588.7V1178.0H573.7z"/>
<path fill="#1f9a8a" shape-rendering="crispEdges" d="M158.0 1004.6H170.0V1025.6H158.0zM158.0 977.7H170.0V980.7H158.0zM158.0 953.8H170.0V956.8H158.0zM170.0 1058.4H178.9V1061.4H170.0zM170.0 956.8H178.9V977.7H170.0zM178.9 894.1H190.9V918.0H178.9zM214.8 810.4H232.8V816.4H214.8zM232.8 816.4H244.7V831.3H232.8zM322.5 1204.9H325.5V1213.8H322.5zM358.4 1213.8H379.3V1225.8H358.4zM403.2 1213.8H406.2V1225.8H403.2zM406.2 1204.9H427.2V1213.8H406.2zM427.2 1213.8H430.2V1225.8H427.2zM466.0 1192.9H490.0V1204.9H466.0zM552.8 1139.1H567.7V1151.1H552.8zM567.7 1151.1H573.7V1169.0H567.7z"/>
<path fill="#21a685" shape-rendering="crispEdges" d="M158.0 992.7H170.0V1004.6H158.0zM379.3 1213.8H391.3V1225.8H379.3z"/>
<path fill="#20a386" shape-rendering="crispEdges" d="M158.0 947.9H170.0V953.8H158.0zM430.2 1213.8H436.1V1225.8H430.2z"/>
<path fill="#1e9b8a" shape-rendering="crispEdges" d="M158.0 894.1H170.0V918.0H158.0zM170.0 1097.3H178.9V1106.3H170.0zM178.9 831.3H190.9V846.2H178.9zM277.6 1204.9H286.6V1213.8H277.6zM466.0 1213.8H490.0V1225.8H466.0zM537.8 1192.9H552.8V1204.9H537.8z"/>
<path fill="#228d8d" shape-rendering="crispEdges" d="M158.0 891.1H170.0V894.1H158.0zM158.0 846.2H170.0V858.2H158.0zM170.0 894.1H178.9V918.0H170.0zM286.6 891.1H322.5V894.1H286.6zM286.6 846.2H322.5V858.2H286.6zM466.0 1204.9H490.0V1213.8H466.0zM490.0 1213.8H493.0V1225.8H490.0zM490.0 1061.4H493.0V1097.3H490.0zM525.9 1213.8H537.8V1225.8H525.9zM525.9 1061.4H537.8V1097.3H525.9z"/>
<path fill="#1f948c" shape-rendering="crispEdges" d="M158.0 873.1H170.0V891.1H158.0zM214.8 795.4H232.8V810.4H214.8zM493.0 1213.8H510.9V1225.8H493.0zM573.7 1151.1H588.7V1169.0H573.7z"/>
<path fill="#26818e" shape-rendering="crispEdges" d="M158.0 858.2H170.0V873.1H158.0zM205.9 873.1H214.8V891.1H205.9zM232.8 891.1H244.7V894.1H232.8zM232.8 846.2H244.7V858.2H232.8zM244.7 894.1H247.7V918.0H244.7zM277.6 923.9H286.6V932.9H277.6zM451.1 1097.3H460.1V1106.3H451.1zM466.0 1136.1H490.0V1139.1H466.0zM490.0 1139.1H493.0V1151.1H490.0zM493.0 1169.0H510.9V1178.0H493.0zM510.9 1213.8H525.9V1225.8H510.9zM525.9 1139.1H537.8V1151.1H525.9z"/>
<path fill="#1f998a" shape-rendering="crispEdges" d="M158.0 831.3H170.0V846.2H158.0zM537.8 1213.8H552.8V1225.8H537.8z"/>
<path fill="#26828e" shape-rendering="crispEdges" d="M158.0 816.4H170.0V831.3H158.0zM170.0 810.4H178.9V816.4H170.0zM178.9 858.2H190.9V873.1H178.9zM205.9 831.3H214.8V846.2H205.9zM214.8 894.1H232.8V918.0H214.8zM247.7 932.9H277.6V941.9H247.7zM286.6 1025.6H322.5V1052.5H286.6zM286.6 947.9H322.5V953.8H286.6zM331.5 1061.4H358.4V1097.3H331.5zM430.2 1061.4H436.1V1097.3H430.2zM442.1 1106.3H451.1V1136.1H442.1zM466.0 1151.1H490.0V1169.0H466.0zM510.9 1192.9H525.9V1204.9H510.9zM537.8 1169.0H552.8V1178.0H537.8zM552.8 1213.8H567.7V1225.8H552.8zM567.7 1204.9H573.7V1213.8H567.7z"/>
<path fill="#21908d" shape-rendering="crispEdges" d="M158.0 810.4H170.0V816.4H158.0zM567.7 1213.8H573.7V1225.8H567.7z"/>
<path fill="#24868e" shape-rendering="crispEdges" d="M158.0 795.4H170.0V810.4H158.0zM170.0 873.1H178.9V891.1H170.0zM232.8 831.3H244.7V846.2H232.8zM247.7 992.7H277.6V1004.6H247.7zM247.7 918.0H277.6V923.9H247.7zM286.6 980.7H322.5V992.7H286.6zM379.3 1106.3H391.3V1136.1H379.3zM391.3 1061.4H403.2V1097.3H391.3zM460.1 1106.3H466.0V1136.1H460.1zM493.0 1204.9H510.9V1213.8H493.0zM537.8 1139.1H552.8V1151.1H537.8zM573.7 1213.8H588.7V1225.8H573.7z"/>
<path fill="#1f968b" shape-rendering="crispEdges" d="M158.0 777.5H170.0V795.4H158.0zM170.0 941.9H178.9V947.9H170.0zM178.9 873.1H190.9V891.1H178.9zM205.9 816.4H214.8V831.3H205.9zM436.1 1204.9H442.1V1213.8H436.1zM493.0 1192.9H510.9V1204.9H493.0zM552.8 1169.0H567.7V1178.0H552.8zM588.7 1213.8H606.6V1225.8H588.7z"/>
<path fill="#1e9d89" shape-rendering="crispEdges" d="M170.0 1169.0H178.9V1178.0H170.0zM170.0 980.7H178.9V992.7H170.0zM170.0 923.9H178.9V932.9H170.0zM190.9 810.4H205.9V816.4H190.9zM205.9 1204.9H214.8V1213.8H205.9zM205.9 810.4H214.8V816.4H205.9zM391.3 1204.9H403.2V1213.8H391.3zM451.1 1204.9H460.1V1213.8H451.1zM567.7 1178.0H573.7V1192.9H567.7zM567.7 1169.0H573.7V1178.0H567.7z"/>
<path fill="#1f958b" shape-rendering="crispEdges" d="M170.0 1151.1H178.9V1169.0H170.0zM170.0 947.9H178.9V953.8H170.0zM214.8 1204.9H232.8V1213.8H214.8zM247.7 831.3H277.6V846.2H247.7zM430.2 1204.9H436.1V1213.8H430.2zM436.1 777.5H442.1V795.4H436.1zM442.1 777.5H451.1V795.4H442.1zM451.1 777.5H460.1V795.4H451.1zM460.1 777.5H466.0V795.4H460.1zM537.8 1106.3H552.8V1136.1H537.8zM588.7 941.9H606.6V947.9H588.7zM588.7 932.9H606.6V941.9H588.7zM588.7 923.9H606.6V932.9H588.7zM588.7 918.0H606.6V923.9H588.7z"/>
<path fill="#20938c" shape-rendering="crispEdges" d="M170.0 1136.1H178.9V1139.1H170.0zM170.0 1025.6H178.9V1052.5H170.0zM170.0 918.0H178.9V923.9H170.0zM190.9 795.4H205.9V810.4H190.9zM244.7 1204.9H247.7V1213.8H244.7zM244.7 795.4H247.7V810.4H244.7zM331.5 1204.9H358.4V1213.8H331.5zM460.1 1204.9H466.0V1213.8H460.1zM573.7 1178.0H588.7V1192.9H573.7zM573.7 1136.1H588.7V1139.1H573.7z"/>
<path fill="#2ab07f" shape-rendering="crispEdges" d="M170.0 1106.3H178.9V1136.1H170.0zM190.9 891.1H205.9V894.1H190.9zM190.9 846.2H205.9V858.2H190.9zM247.7 1204.9H277.6V1213.8H247.7zM490.0 1178.0H493.0V1192.9H490.0zM525.9 1178.0H537.8V1192.9H525.9z"/>
<path fill="#25ac82" shape-rendering="crispEdges" d="M170.0 1061.4H178.9V1097.3H170.0zM286.6 1204.9H322.5V1213.8H286.6z"/>
<path fill="#23898e" shape-rendering="crispEdges" d="M170.0 1052.5H178.9V1058.4H170.0zM247.7 858.2H277.6V873.1H247.7zM286.6 923.9H322.5V932.9H286.6zM325.5 1204.9H331.5V1213.8H325.5zM436.1 816.4H442.1V831.3H436.1zM436.1 810.4H442.1V816.4H436.1zM436.1 795.4H442.1V810.4H436.1zM442.1 816.4H451.1V831.3H442.1zM442.1 810.4H451.1V816.4H442.1zM442.1 795.4H451.1V810.4H442.1zM451.1 1061.4H460.1V1097.3H451.1zM451.1 816.4H460.1V831.3H451.1zM451.1 810.4H460.1V816.4H451.1zM451.1 795.4H460.1V810.4H451.1zM460.1 816.4H466.0V831.3H460.1zM460.1 810.4H466.0V816.4H460.1zM460.1 795.4H466.0V810.4H460.1zM510.9 1106.3H525.9V1136.1H510.9zM552.8 941.9H567.7V947.9H552.8zM552.8 932.9H567.7V941.9H552.8zM552.8 923.9H567.7V932.9H552.8zM552.8 918.0H567.7V923.9H552.8zM552.8 777.5H567.7V795.4H552.8zM567.7 941.9H573.7V947.9H567.7zM567.7 932.9H573.7V941.9H567.7zM567.7 923.9H573.7V932.9H567.7zM567.7 918.0H573.7V923.9H567.7zM567.7 777.5H573.7V795.4H567.7zM573.7 941.9H588.7V947.9H573.7zM573.7 932.9H588.7V941.9H573.7zM573.7 923.9H588.7V932.9H573.7zM573.7 918.0H588.7V923.9H573.7zM573.7 777.5H588.7V795.4H573.7zM588.7 816.4H606.6V831.3H588.7zM588.7 810.4H606.6V816.4H588.7zM588.7 795.4H606.6V810.4H588.7z"/>
<path fill="#228c8d" shape-rendering="crispEdges" d="M170.0 1004.6H178.9V1025.6H170.0zM170.0 977.7H178.9V980.7H170.0zM170.0 953.8H178.9V956.8H170.0zM358.4 1204.9H379.3V1213.8H358.4zM403.2 1204.9H406.2V1213.8H403.2zM427.2 1204.9H430.2V1213.8H427.2z"/>
<path fill="#238a8d" shape-rendering="crispEdges" d="M170.0 932.9H178.9V941.9H170.0zM277.6 831.3H286.6V846.2H277.6zM442.1 1204.9H451.1V1213.8H442.1zM537.8 1097.3H552.8V1106.3H537.8z"/>
<path fill="#277f8e" shape-rendering="crispEdges" d="M170.0 891.1H178.9V894.1H170.0zM170.0 846.2H178.9V858.2H170.0zM214.8 831.3H232.8V846.2H214.8zM232.8 918.0H244.7V923.9H232.8zM247.7 1052.5H277.6V1058.4H247.7zM277.6 858.2H286.6V873.1H277.6zM286.6 932.9H322.5V941.9H286.6zM325.5 1106.3H331.5V1136.1H325.5zM442.1 1061.4H451.1V1097.3H442.1zM460.1 1139.1H466.0V1151.1H460.1zM490.0 1204.9H493.0V1213.8H490.0zM510.9 1097.3H525.9V1106.3H510.9zM525.9 1204.9H537.8V1213.8H525.9zM537.8 1151.1H552.8V1169.0H537.8z"/>
<path fill="#2c728e" shape-rendering="crispEdges" d="M170.0 858.2H178.9V873.1H170.0zM170.0 816.4H178.9V831.3H170.0zM214.8 992.7H232.8V1004.6H214.8zM214.8 932.9H232.8V941.9H214.8zM232.8 1052.5H244.7V1058.4H232.8zM244.7 1058.4H247.7V1061.4H244.7zM244.7 956.8H247.7V977.7H244.7zM322.5 1136.1H325.5V1139.1H322.5zM325.5 1139.1H331.5V1151.1H325.5zM379.3 1151.1H391.3V1169.0H379.3zM406.2 1136.1H427.2V1139.1H406.2zM442.1 1151.1H451.1V1169.0H442.1zM510.9 1204.9H525.9V1213.8H510.9zM552.8 1204.9H567.7V1213.8H552.8z"/>
<path fill="#2a778e" shape-rendering="crispEdges" d="M170.0 795.4H178.9V810.4H170.0zM205.9 1058.4H214.8V1061.4H205.9zM205.9 956.8H214.8V977.7H205.9zM205.9 858.2H214.8V873.1H205.9zM214.8 918.0H232.8V923.9H214.8zM232.8 1025.6H244.7V1052.5H232.8zM244.7 941.9H247.7V947.9H244.7zM277.6 932.9H286.6V941.9H277.6zM322.5 1169.0H325.5V1178.0H322.5zM331.5 1139.1H358.4V1151.1H331.5zM406.2 1169.0H427.2V1178.0H406.2zM436.1 1136.1H442.1V1139.1H436.1zM442.1 1097.3H451.1V1106.3H442.1zM460.1 1151.1H466.0V1169.0H460.1zM510.9 1169.0H525.9V1178.0H510.9zM573.7 1204.9H588.7V1213.8H573.7z"/>
<path fill="#23888e" shape-rendering="crispEdges" d="M170.0 777.5H178.9V795.4H170.0zM232.8 894.1H244.7V918.0H232.8zM247.7 980.7H277.6V992.7H247.7zM277.6 873.1H286.6V891.1H277.6zM391.3 1106.3H403.2V1136.1H391.3zM466.0 1139.1H490.0V1151.1H466.0zM493.0 1097.3H510.9V1106.3H493.0zM588.7 1204.9H606.6V1213.8H588.7z"/>
<path fill="#48c16e" shape-rendering="crispEdges" d="M178.9 1169.0H190.9V1178.0H178.9zM205.9 1192.9H214.8V1204.9H205.9z"/>
<path fill="#3aba76" shape-rendering="crispEdges" d="M178.9 1151.1H190.9V1169.0H178.9zM178.9 980.7H190.9V992.7H178.9zM178.9 923.9H190.9V932.9H178.9zM214.8 1192.9H232.8V1204.9H214.8zM391.3 1192.9H403.2V1204.9H391.3zM451.1 1192.9H460.1V1204.9H451.1z"/>
<path fill="#58c765" shape-rendering="crispEdges" d="M178.9 1139.1H190.9V1151.1H178.9zM190.9 932.9H205.9V941.9H190.9zM232.8 1192.9H244.7V1204.9H232.8zM442.1 1178.0H451.1V1192.9H442.1z"/>
<path fill="#37b878" shape-rendering="crispEdges" d="M178.9 1136.1H190.9V1139.1H178.9zM244.7 1192.9H247.7V1204.9H244.7z"/>
<path fill="#75d054" shape-rendering="crispEdges" d="M178.9 1106.3H190.9V1136.1H178.9zM190.9 941.9H205.9V947.9H190.9zM247.7 1192.9H277.6V1204.9H247.7zM436.1 1178.0H442.1V1192.9H436.1z"/>
<path fill="#44bf70" shape-rendering="crispEdges" d="M178.9 1097.3H190.9V1106.3H178.9zM277.6 1192.9H286.6V1204.9H277.6z"/>
<path fill="#69cd5b" shape-rendering="crispEdges" d="M178.9 1061.4H190.9V1097.3H178.9zM286.6 1192.9H322.5V1204.9H286.6z"/>
<path fill="#35b779" shape-rendering="crispEdges" d="M178.9 1058.4H190.9V1061.4H178.9zM178.9 956.8H190.9V977.7H178.9zM214.8 777.5H232.8V795.4H214.8zM322.5 1192.9H325.5V1204.9H322.5zM406.2 1192.9H427.2V1204.9H406.2zM588.7 1151.1H606.6V1169.0H588.7z"/>
<path fill="#2cb17e" shape-rendering="crispEdges" d="M178.9 1025.6H190.9V1052.5H178.9zM178.9 918.0H190.9V923.9H178.9zM247.7 810.4H277.6V816.4H247.7zM331.5 1192.9H358.4V1204.9H331.5zM460.1 1192.9H466.0V1204.9H460.1zM567.7 1106.3H573.7V1136.1H567.7z"/>
<path fill="#32b67a" shape-rendering="crispEdges" d="M178.9 992.7H190.9V1004.6H178.9zM379.3 1192.9H391.3V1204.9H379.3z"/>
<path fill="#2eb37c" shape-rendering="crispEdges" d="M178.9 947.9H190.9V953.8H178.9zM430.2 1192.9H436.1V1204.9H430.2z"/>
<path fill="#2fb47c" shape-rendering="crispEdges" d="M178.9 941.9H190.9V947.9H178.9zM436.1 1192.9H442.1V1204.9H436.1z"/>
<path fill="#218f8d" shape-rendering="crispEdges" d="M178.9 891.1H190.9V894.1H178.9zM178.9 846.2H190.9V858.2H178.9zM190.9 816.4H205.9V831.3H190.9zM247.7 891.1H277.6V894.1H247.7zM247.7 846.2H277.6V858.2H247.7zM490.0 1192.9H493.0V1204.9H490.0zM490.0 1106.3H493.0V1136.1H490.0zM525.9 1192.9H537.8V1204.9H525.9zM525.9 1106.3H537.8V1136.1H525.9zM552.8 1178.0H567.7V1192.9H552.8z"/>
<path fill="#2e6d8e" shape-rendering="crispEdges" d="M178.9 816.4H190.9V831.3H178.9zM214.8 1004.6H232.8V1025.6H214.8zM214.8 977.7H232.8V980.7H214.8zM214.8 953.8H232.8V956.8H214.8zM358.4 1151.1H379.3V1169.0H358.4zM403.2 1151.1H406.2V1169.0H403.2zM427.2 1151.1H430.2V1169.0H427.2zM552.8 1192.9H567.7V1204.9H552.8z"/>
<path fill="#287c8e" shape-rendering="crispEdges" d="M178.9 810.4H190.9V816.4H178.9zM205.9 941.9H214.8V947.9H205.9zM214.8 923.9H232.8V932.9H214.8zM232.8 980.7H244.7V992.7H232.8zM244.7 873.1H247.7V891.1H244.7zM277.6 918.0H286.6V923.9H277.6zM391.3 1139.1H403.2V1151.1H391.3zM436.1 1169.0H442.1V1178.0H436.1zM451.1 1151.1H460.1V1169.0H451.1zM460.1 1097.3H466.0V1106.3H460.1zM493.0 1136.1H510.9V1139.1H493.0zM567.7 1192.9H573.7V1204.9H567.7z"/>
<path fill="#2c718e" shape-rendering="crispEdges" d="M178.9 795.4H190.9V810.4H178.9zM214.8 947.9H232.8V953.8H214.8zM244.7 992.7H247.7V1004.6H244.7zM244.7 932.9H247.7V941.9H244.7zM244.7 858.2H247.7V873.1H244.7zM379.3 1136.1H391.3V1139.1H379.3zM430.2 1151.1H436.1V1169.0H430.2zM442.1 1136.1H451.1V1139.1H442.1zM510.9 1136.1H525.9V1139.1H510.9zM573.7 1192.9H588.7V1204.9H573.7z"/>
<path fill="#277e8e" shape-rendering="crispEdges" d="M178.9 777.5H190.9V795.4H178.9zM244.7 831.3H247.7V846.2H244.7zM277.6 980.7H286.6V992.7H277.6zM286.6 1004.6H322.5V1025.6H286.6zM286.6 977.7H322.5V980.7H286.6zM286.6 953.8H322.5V956.8H286.6zM358.4 1061.4H379.3V1097.3H358.4zM391.3 1097.3H403.2V1106.3H391.3zM403.2 1061.4H406.2V1097.3H403.2zM427.2 1061.4H430.2V1097.3H427.2zM537.8 1136.1H552.8V1139.1H537.8zM588.7 1192.9H606.6V1204.9H588.7z"/>
<path fill="#9bd93c" shape-rendering="crispEdges" d="M190.9 1169.0H205.9V1178.0H190.9zM205.9 1178.0H214.8V1192.9H205.9z"/>
<path fill="#86d549" shape-rendering="crispEdges" d="M190.9 1151.1H205.9V1169.0H190.9zM190.9 980.7H205.9V992.7H190.9zM190.9 923.9H205.9V932.9H190.9zM214.8 1178.0H232.8V1192.9H214.8zM391.3 1178.0H403.2V1192.9H391.3zM451.1 1178.0H460.1V1192.9H451.1z"/>
<path fill="#addc30" shape-rendering="crispEdges" d="M190.9 1139.1H205.9V1151.1H190.9zM232.8 1178.0H244.7V1192.9H232.8z"/>
<path fill="#7fd34e" shape-rendering="crispEdges" d="M190.9 1136.1H205.9V1139.1H190.9zM190.9 1058.4H205.9V1061.4H190.9zM190.9 956.8H205.9V977.7H190.9zM244.7 1178.0H247.7V1192.9H244.7zM322.5 1178.0H325.5V1192.9H322.5zM406.2 1178.0H427.2V1192.9H406.2z"/>
<path fill="#d2e21b" shape-rendering="crispEdges" d="M190.9 1106.3H205.9V1136.1H190.9zM247.7 1178.0H277.6V1192.9H247.7z"/>
<path fill="#95d840" shape-rendering="crispEdges" d="M190.9 1097.3H205.9V1106.3H190.9zM277.6 1178.0H286.6V1192.9H277.6z"/>
<path fill="#c5e021" shape-rendering="crispEdges" d="M190.9 1061.4H205.9V1097.3H190.9zM286.6 1178.0H322.5V1192.9H286.6z"/>
<path fill="#56c667" shape-rendering="crispEdges" d="M190.9 1052.5H205.9V1058.4H190.9zM325.5 1178.0H331.5V1192.9H325.5z"/>
<path fill="#6ccd5a" shape-rendering="crispEdges" d="M190.9 1025.6H205.9V1052.5H190.9zM331.5 1178.0H358.4V1192.9H331.5z"/>
<path fill="#5cc863" shape-rendering="crispEdges" d="M190.9 1004.6H205.9V1025.6H190.9zM190.9 977.7H205.9V980.7H190.9zM190.9 953.8H205.9V956.8H190.9zM358.4 1178.0H379.3V1192.9H358.4zM403.2 1178.0H406.2V1192.9H403.2zM427.2 1178.0H430.2V1192.9H427.2z"/>
<path fill="#7ad151" shape-rendering="crispEdges" d="M190.9 992.7H205.9V1004.6H190.9zM379.3 1178.0H391.3V1192.9H379.3z"/>
<path fill="#73d056" shape-rendering="crispEdges" d="M190.9 947.9H205.9V953.8H190.9zM430.2 1178.0H436.1V1192.9H430.2z"/>
<path fill="#6ece58" shape-rendering="crispEdges" d="M190.9 918.0H205.9V923.9H190.9zM460.1 1178.0H466.0V1192.9H460.1z"/>
<path fill="#3bbb75" shape-rendering="crispEdges" d="M190.9 894.1H205.9V918.0H190.9zM190.9 831.3H205.9V846.2H190.9zM205.9 777.5H214.8V795.4H205.9zM466.0 1178.0H490.0V1192.9H466.0zM537.8 1178.0H552.8V1192.9H537.8zM588.7 1169.0H606.6V1178.0H588.7z"/>
<path fill="#34b679" shape-rendering="crispEdges" d="M190.9 873.1H205.9V891.1H190.9zM244.7 777.5H247.7V795.4H244.7zM493.0 1178.0H510.9V1192.9H493.0zM588.7 1136.1H606.6V1139.1H588.7z"/>
<path fill="#1f9f88" shape-rendering="crispEdges" d="M190.9 777.5H205.9V795.4H190.9zM588.7 1178.0H606.6V1192.9H588.7z"/>
<path fill="#2b758e" shape-rendering="crispEdges" d="M205.9 1106.3H214.8V1136.1H205.9zM205.9 1097.3H214.8V1106.3H205.9zM205.9 1061.4H214.8V1097.3H205.9zM205.9 947.9H214.8V953.8H205.9zM214.8 1106.3H232.8V1136.1H214.8zM214.8 1097.3H232.8V1106.3H214.8zM214.8 1061.4H232.8V1097.3H214.8zM214.8 980.7H232.8V992.7H214.8zM232.8 1106.3H244.7V1136.1H232.8zM232.8 1097.3H244.7V1106.3H232.8zM232.8 1061.4H244.7V1097.3H232.8zM244.7 1106.3H247.7V1136.1H244.7zM244.7 1097.3H247.7V1106.3H244.7zM244.7 1061.4H247.7V1097.3H244.7zM247.7 1169.0H277.6V1178.0H247.7zM247.7 1151.1H277.6V1169.0H247.7zM247.7 1139.1H277.6V1151.1H247.7zM247.7 1136.1H277.6V1139.1H247.7zM277.6 1169.0H286.6V1178.0H277.6zM277.6 1151.1H286.6V1169.0H277.6zM277.6 1139.1H286.6V1151.1H277.6zM277.6 1136.1H286.6V1139.1H277.6zM277.6 1004.6H286.6V1025.6H277.6zM277.6 977.7H286.6V980.7H277.6zM277.6 953.8H286.6V956.8H277.6zM286.6 1169.0H322.5V1178.0H286.6zM286.6 1151.1H322.5V1169.0H286.6zM286.6 1139.1H322.5V1151.1H286.6zM286.6 1136.1H322.5V1139.1H286.6zM358.4 1097.3H379.3V1106.3H358.4zM391.3 1151.1H403.2V1169.0H391.3zM403.2 1097.3H406.2V1106.3H403.2zM427.2 1097.3H430.2V1106.3H427.2zM430.2 1169.0H436.1V1178.0H430.2z"/>
<path fill="#2e6f8e" shape-rendering="crispEdges" d="M205.9 1052.5H214.8V1058.4H205.9zM244.7 1025.6H247.7V1052.5H244.7zM325.5 1169.0H331.5V1178.0H325.5zM331.5 1136.1H358.4V1139.1H331.5z"/>
<path fill="#2c738e" shape-rendering="crispEdges" d="M205.9 1025.6H214.8V1052.5H205.9zM214.8 1058.4H232.8V1061.4H214.8zM214.8 956.8H232.8V977.7H214.8zM214.8 858.2H232.8V873.1H214.8zM232.8 1004.6H244.7V1025.6H232.8zM232.8 977.7H244.7V980.7H232.8zM232.8 953.8H244.7V956.8H232.8zM244.7 980.7H247.7V992.7H244.7zM322.5 1151.1H325.5V1169.0H322.5zM322.5 1058.4H325.5V1061.4H322.5zM322.5 1052.5H325.5V1058.4H322.5zM322.5 1025.6H325.5V1052.5H322.5zM322.5 1004.6H325.5V1025.6H322.5zM322.5 992.7H325.5V1004.6H322.5zM322.5 980.7H325.5V992.7H322.5zM322.5 977.7H325.5V980.7H322.5zM322.5 956.8H325.5V977.7H322.5zM322.5 953.8H325.5V956.8H322.5zM322.5 947.9H325.5V953.8H322.5zM325.5 1058.4H331.5V1061.4H325.5zM325.5 1052.5H331.5V1058.4H325.5zM325.5 1025.6H331.5V1052.5H325.5zM325.5 1004.6H331.5V1025.6H325.5zM325.5 992.7H331.5V1004.6H325.5zM325.5 980.7H331.5V992.7H325.5zM325.5 977.7H331.5V980.7H325.5zM325.5 956.8H331.5V977.7H325.5zM325.5 953.8H331.5V956.8H325.5zM325.5 947.9H331.5V953.8H325.5zM331.5 1169.0H358.4V1178.0H331.5zM331.5 1058.4H358.4V1061.4H331.5zM331.5 1052.5H358.4V1058.4H331.5zM331.5 1025.6H358.4V1052.5H331.5zM331.5 1004.6H358.4V1025.6H331.5zM331.5 992.7H358.4V1004.6H331.5zM331.5 980.7H358.4V992.7H331.5zM331.5 977.7H358.4V980.7H331.5zM331.5 956.8H358.4V977.7H331.5zM331.5 953.8H358.4V956.8H331.5zM331.5 947.9H358.4V953.8H331.5zM358.4 1139.1H379.3V1151.1H358.4zM358.4 1058.4H379.3V1061.4H358.4zM358.4 1052.5H379.3V1058.4H358.4zM358.4 1025.6H379.3V1052.5H358.4zM358.4 1004.6H379.3V1025.6H358.4zM358.4 992.7H379.3V1004.6H358.4zM358.4 980.7H379.3V992.7H358.4zM358.4 977.7H379.3V980.7H358.4zM358.4 956.8H379.3V977.7H358.4zM358.4 953.8H379.3V956.8H358.4zM358.4 947.9H379.3V953.8H358.4zM379.3 1058.4H391.3V1061.4H379.3zM379.3 1052.5H391.3V1058.4H379.3zM379.3 1025.6H391.3V1052.5H379.3zM379.3 1004.6H391.3V1025.6H379.3zM379.3 992.7H391.3V1004.6H379.3zM379.3 980.7H391.3V992.7H379.3zM379.3 977.7H391.3V980.7H379.3zM379.3 956.8H391.3V977.7H379.3zM379.3 953.8H391.3V956.8H379.3zM379.3 947.9H391.3V953.8H379.3zM391.3 1136.1H403.2V1139.1H391.3zM391.3 1058.4H403.2V1061.4H391.3zM391.3 1052.5H403.2V1058.4H391.3zM391.3 1025.6H403.2V1052.5H391.3zM391.3 1004.6H403.2V1025.6H391.3zM391.3 992.7H403.2V1004.6H391.3zM391.3 980.7H403.2V992.7H391.3zM391.3 977.7H403.2V980.7H391.3zM391.3 956.8H403.2V977.7H391.3zM391.3 953.8H403.2V956.8H391.3zM391.3 947.9H403.2V953.8H391.3zM403.2 1139.1H406.2V1151.1H403.2zM403.2 1058.4H406.2V1061.4H403.2zM403.2 1052.5H406.2V1058.4H403.2zM403.2 1025.6H406.2V1052.5H403.2zM403.2 1004.6H406.2V1025.6H403.2zM403.2 992.7H406.2V1004.6H403.2zM403.2 980.7H406.2V992.7H403.2zM403.2 977.7H406.2V980.7H403.2zM403.2 956.8H406.2V977.7H403.2zM403.2 953.8H406.2V956.8H403.2zM403.2 947.9H406.2V953.8H403.2zM406.2 1151.1H427.2V1169.0H406.2zM406.2 1058.4H427.2V1061.4H406.2zM406.2 1052.5H427.2V1058.4H406.2zM406.2 1025.6H427.2V1052.5H406.2zM406.2 1004.6H427.2V1025.6H406.2zM406.2 992.7H427.2V1004.6H406.2zM406.2 980.7H427.2V992.7H406.2zM406.2 977.7H427.2V980.7H406.2zM406.2 956.8H427.2V977.7H406.2zM406.2 953.8H427.2V956.8H406.2zM406.2 947.9H427.2V953.8H406.2zM427.2 1139.1H430.2V1151.1H427.2zM427.2 1058.4H430.2V1061.4H427.2zM427.2 1052.5H430.2V1058.4H427.2zM427.2 1025.6H430.2V1052.5H427.2zM427.2 1004.6H430.2V1025.6H427.2zM427.2 992.7H430.2V1004.6H427.2zM427.2 980.7H430.2V992.7H427.2zM427.2 977.7H430.2V980.7H427.2zM427.2 956.8H430.2V977.7H427.2zM427.2 953.8H430.2V956.8H427.2zM427.2 947.9H430.2V953.8H427.2zM430.2 1058.4H436.1V1061.4H430.2zM430.2 1052.5H436.1V1058.4H430.2zM430.2 1025.6H436.1V1052.5H430.2zM430.2 1004.6H436.1V1025.6H430.2zM430.2 992.7H436.1V1004.6H430.2zM430.2 980.7H436.1V992.7H430.2zM430.2 977.7H436.1V980.7H430.2zM430.2 956.8H436.1V977.7H430.2zM430.2 953.8H436.1V956.8H430.2zM430.2 947.9H436.1V953.8H430.2zM436.1 941.9H442.1V947.9H436.1zM436.1 932.9H442.1V941.9H436.1zM436.1 923.9H442.1V932.9H436.1zM436.1 918.0H442.1V923.9H436.1zM442.1 941.9H451.1V947.9H442.1zM442.1 932.9H451.1V941.9H442.1zM442.1 923.9H451.1V932.9H442.1zM442.1 918.0H451.1V923.9H442.1zM451.1 941.9H460.1V947.9H451.1zM451.1 932.9H460.1V941.9H451.1zM451.1 923.9H460.1V932.9H451.1zM451.1 918.0H460.1V923.9H451.1zM460.1 941.9H466.0V947.9H460.1zM460.1 932.9H466.0V941.9H460.1zM460.1 923.9H466.0V932.9H460.1zM460.1 918.0H466.0V923.9H460.1zM510.9 1151.1H525.9V1169.0H510.9z"/>
<path fill="#2d708e" shape-rendering="crispEdges" d="M205.9 1004.6H214.8V1025.6H205.9zM205.9 977.7H214.8V980.7H205.9zM205.9 953.8H214.8V956.8H205.9zM214.8 1025.6H232.8V1052.5H214.8zM244.7 947.9H247.7V953.8H244.7zM331.5 1151.1H358.4V1169.0H331.5zM358.4 1169.0H379.3V1178.0H358.4zM403.2 1169.0H406.2V1178.0H403.2zM427.2 1169.0H430.2V1178.0H427.2zM430.2 1136.1H436.1V1139.1H430.2z"/>
<path fill="#2a768e" shape-rendering="crispEdges" d="M205.9 992.7H214.8V1004.6H205.9zM205.9 932.9H214.8V941.9H205.9zM244.7 918.0H247.7V923.9H244.7zM379.3 1169.0H391.3V1178.0H379.3zM442.1 1169.0H451.1V1178.0H442.1zM460.1 1136.1H466.0V1139.1H460.1z"/>
<path fill="#2a788e" shape-rendering="crispEdges" d="M205.9 980.7H214.8V992.7H205.9zM232.8 947.9H244.7V953.8H232.8zM244.7 891.1H247.7V894.1H244.7zM244.7 846.2H247.7V858.2H244.7zM391.3 1169.0H403.2V1178.0H391.3zM430.2 1139.1H436.1V1151.1H430.2zM490.0 1136.1H493.0V1139.1H490.0zM525.9 1136.1H537.8V1139.1H525.9z"/>
<path fill="#27808e" shape-rendering="crispEdges" d="M205.9 923.9H214.8V932.9H205.9zM232.8 941.9H244.7V947.9H232.8zM247.7 1004.6H277.6V1025.6H247.7zM247.7 977.7H277.6V980.7H247.7zM247.7 953.8H277.6V956.8H247.7zM358.4 1106.3H379.3V1136.1H358.4zM403.2 1106.3H406.2V1136.1H403.2zM427.2 1106.3H430.2V1136.1H427.2zM436.1 1139.1H442.1V1151.1H436.1zM436.1 894.1H442.1V918.0H436.1zM436.1 891.1H442.1V894.1H436.1zM436.1 873.1H442.1V891.1H436.1zM436.1 858.2H442.1V873.1H436.1zM436.1 846.2H442.1V858.2H436.1zM436.1 831.3H442.1V846.2H436.1zM442.1 894.1H451.1V918.0H442.1zM442.1 891.1H451.1V894.1H442.1zM442.1 873.1H451.1V891.1H442.1zM442.1 858.2H451.1V873.1H442.1zM442.1 846.2H451.1V858.2H442.1zM442.1 831.3H451.1V846.2H442.1zM451.1 1169.0H460.1V1178.0H451.1zM451.1 894.1H460.1V918.0H451.1zM451.1 891.1H460.1V894.1H451.1zM451.1 873.1H460.1V891.1H451.1zM451.1 858.2H460.1V873.1H451.1zM451.1 846.2H460.1V858.2H451.1zM451.1 831.3H460.1V846.2H451.1zM460.1 894.1H466.0V918.0H460.1zM460.1 891.1H466.0V894.1H460.1zM460.1 873.1H466.0V891.1H460.1zM460.1 858.2H466.0V873.1H460.1zM460.1 846.2H466.0V858.2H460.1zM460.1 831.3H466.0V846.2H460.1zM466.0 941.9H490.0V947.9H466.0zM466.0 932.9H490.0V941.9H466.0zM466.0 923.9H490.0V932.9H466.0zM466.0 918.0H490.0V923.9H466.0zM466.0 816.4H490.0V831.3H466.0zM466.0 810.4H490.0V816.4H466.0zM466.0 795.4H490.0V810.4H466.0zM490.0 941.9H493.0V947.9H490.0zM490.0 932.9H493.0V941.9H490.0zM490.0 923.9H493.0V932.9H490.0zM490.0 918.0H493.0V923.9H490.0zM493.0 941.9H510.9V947.9H493.0zM493.0 932.9H510.9V941.9H493.0zM493.0 923.9H510.9V932.9H493.0zM493.0 918.0H510.9V923.9H493.0zM510.9 941.9H525.9V947.9H510.9zM510.9 932.9H525.9V941.9H510.9zM510.9 923.9H525.9V932.9H510.9zM510.9 918.0H525.9V923.9H510.9zM525.9 941.9H537.8V947.9H525.9zM525.9 932.9H537.8V941.9H525.9zM525.9 923.9H537.8V932.9H525.9zM525.9 918.0H537.8V923.9H525.9zM537.8 941.9H552.8V947.9H537.8zM537.8 932.9H552.8V941.9H537.8zM537.8 923.9H552.8V932.9H537.8zM537.8 918.0H552.8V923.9H537.8zM552.8 894.1H567.7V918.0H552.8zM567.7 894.1H573.7V918.0H567.7zM573.7 894.1H588.7V918.0H573.7z"/>
<path fill="#297b8e" shape-rendering="crispEdges" d="M205.9 918.0H214.8V923.9H205.9zM232.8 1058.4H244.7V1061.4H232.8zM232.8 956.8H244.7V977.7H232.8zM244.7 923.9H247.7V932.9H244.7zM277.6 992.7H286.6V1004.6H277.6zM322.5 1139.1H325.5V1151.1H322.5zM379.3 1097.3H391.3V1106.3H379.3zM406.2 1139.1H427.2V1151.1H406.2zM451.1 1136.1H460.1V1139.1H451.1zM460.1 1169.0H466.0V1178.0H460.1z"/>
<path fill="#25858e" shape-rendering="crispEdges" d="M205.9 894.1H214.8V918.0H205.9zM247.7 947.9H277.6V953.8H247.7zM277.6 894.1H286.6V918.0H277.6zM286.6 1058.4H322.5V1061.4H286.6zM286.6 956.8H322.5V977.7H286.6zM286.6 941.9H322.5V947.9H286.6zM322.5 1061.4H325.5V1097.3H322.5zM406.2 1061.4H427.2V1097.3H406.2zM430.2 1106.3H436.1V1136.1H430.2zM436.1 1061.4H442.1V1097.3H436.1zM466.0 1169.0H490.0V1178.0H466.0zM466.0 1097.3H490.0V1106.3H466.0z"/>
<path fill="#287d8e" shape-rendering="crispEdges" d="M205.9 891.1H214.8V894.1H205.9zM205.9 846.2H214.8V858.2H205.9zM214.8 873.1H232.8V891.1H214.8zM277.6 1058.4H286.6V1061.4H277.6zM277.6 956.8H286.6V977.7H277.6zM277.6 941.9H286.6V947.9H277.6zM286.6 1052.5H322.5V1058.4H286.6zM322.5 1097.3H325.5V1106.3H322.5zM322.5 891.1H325.5V894.1H322.5zM322.5 873.1H325.5V891.1H322.5zM322.5 858.2H325.5V873.1H322.5zM322.5 846.2H325.5V858.2H322.5zM322.5 831.3H325.5V846.2H322.5zM325.5 1061.4H331.5V1097.3H325.5zM325.5 891.1H331.5V894.1H325.5zM325.5 873.1H331.5V891.1H325.5zM325.5 858.2H331.5V873.1H325.5zM325.5 846.2H331.5V858.2H325.5zM325.5 831.3H331.5V846.2H325.5zM331.5 891.1H358.4V894.1H331.5zM331.5 873.1H358.4V891.1H331.5zM331.5 858.2H358.4V873.1H331.5zM331.5 846.2H358.4V858.2H331.5zM331.5 831.3H358.4V846.2H331.5zM358.4 891.1H379.3V894.1H358.4zM358.4 873.1H379.3V891.1H358.4zM358.4 858.2H379.3V873.1H358.4zM358.4 846.2H379.3V858.2H358.4zM358.4 831.3H379.3V846.2H358.4zM379.3 891.1H391.3V894.1H379.3zM379.3 873.1H391.3V891.1H379.3zM379.3 858.2H391.3V873.1H379.3zM379.3 846.2H391.3V858.2H379.3zM379.3 831.3H391.3V846.2H379.3zM391.3 891.1H403.2V894.1H391.3zM391.3 873.1H403.2V891.1H391.3zM391.3 858.2H403.2V873.1H391.3zM391.3 846.2H403.2V858.2H391.3zM391.3 831.3H403.2V846.2H391.3zM403.2 891.1H406.2V894.1H403.2zM403.2 873.1H406.2V891.1H403.2zM403.2 858.2H406.2V873.1H403.2zM403.2 846.2H406.2V858.2H403.2zM403.2 831.3H406.2V846.2H403.2zM406.2 1097.3H427.2V1106.3H406.2zM406.2 891.1H427.2V894.1H406.2zM406.2 873.1H427.2V891.1H406.2zM406.2 858.2H427.2V873.1H406.2zM406.2 846.2H427.2V858.2H406.2zM406.2 831.3H427.2V846.2H406.2zM427.2 891.1H430.2V894.1H427.2zM427.2 873.1H430.2V891.1H427.2zM427.2 858.2H430.2V873.1H427.2zM427.2 846.2H430.2V858.2H427.2zM427.2 831.3H430.2V846.2H427.2zM430.2 891.1H436.1V894.1H430.2zM430.2 873.1H436.1V891.1H430.2zM430.2 858.2H436.1V873.1H430.2zM430.2 846.2H436.1V858.2H430.2zM430.2 831.3H436.1V846.2H430.2zM436.1 1097.3H442.1V1106.3H436.1zM490.0 1169.0H493.0V1178.0H490.0zM490.0 1058.4H493.0V1061.4H490.0zM490.0 1052.5H493.0V1058.4H490.0zM490.0 1025.6H493.0V1052.5H490.0zM490.0 1004.6H493.0V1025.6H490.0zM490.0 992.7H493.0V1004.6H490.0zM490.0 980.7H493.0V992.7H490.0zM490.0 977.7H493.0V980.7H490.0zM490.0 956.8H493.0V977.7H490.0zM490.0 953.8H493.0V956.8H490.0zM490.0 947.9H493.0V953.8H490.0zM490.0 816.4H493.0V831.3H490.0zM490.0 810.4H493.0V816.4H490.0zM490.0 795.4H493.0V810.4H490.0zM493.0 1151.1H510.9V1169.0H493.0zM493.0 1058.4H510.9V1061.4H493.0zM493.0 1052.5H510.9V1058.4H493.0zM493.0 1025.6H510.9V1052.5H493.0zM493.0 1004.6H510.9V1025.6H493.0zM493.0 992.7H510.9V1004.6H493.0zM493.0 980.7H510.9V992.7H493.0zM493.0 977.7H510.9V980.7H493.0zM493.0 956.8H510.9V977.7H493.0zM493.0 953.8H510.9V956.8H493.0zM493.0 947.9H510.9V953.8H493.0zM493.0 816.4H510.9V831.3H493.0zM493.0 810.4H510.9V816.4H493.0zM493.0 795.4H510.9V810.4H493.0zM510.9 1058.4H525.9V1061.4H510.9zM510.9 1052.5H525.9V1058.4H510.9zM510.9 1025.6H525.9V1052.5H510.9zM510.9 1004.6H525.9V1025.6H510.9zM510.9 992.7H525.9V1004.6H510.9zM510.9 980.7H525.9V992.7H510.9zM510.9 977.7H525.9V980.7H510.9zM510.9 956.8H525.9V977.7H510.9zM510.9 953.8H525.9V956.8H510.9zM510.9 947.9H525.9V953.8H510.9zM510.9 816.4H525.9V831.3H510.9zM510.9 810.4H525.9V816.4H510.9zM510.9 795.4H525.9V810.4H510.9zM525.9 1169.0H537.8V1178.0H525.9zM525.9 1058.4H537.8V1061.4H525.9zM525.9 1052.5H537.8V1058.4H525.9zM525.9 1025.6H537.8V1052.5H525.9zM525.9 1004.6H537.8V1025.6H525.9zM525.9 992.7H537.8V1004.6H525.9zM525.9 980.7H537.8V992.7H525.9zM525.9 977.7H537.8V980.7H525.9zM525.9 956.8H537.8V977.7H525.9zM525.9 953.8H537.8V956.8H525.9zM525.9 947.9H537.8V953.8H525.9zM525.9 816.4H537.8V831.3H525.9zM525.9 810.4H537.8V816.4H525.9zM525.9 795.4H537.8V810.4H525.9zM537.8 1058.4H552.8V1061.4H537.8zM537.8 1052.5H552.8V1058.4H537.8zM537.8 1025.6H552.8V1052.5H537.8zM537.8 1004.6H552.8V1025.6H537.8zM537.8 992.7H552.8V1004.6H537.8zM537.8 980.7H552.8V992.7H537.8zM537.8 977.7H552.8V980.7H537.8zM537.8 956.8H552.8V977.7H537.8zM537.8 953.8H552.8V956.8H537.8zM537.8 947.9H552.8V953.8H537.8zM537.8 816.4H552.8V831.3H537.8zM537.8 810.4H552.8V816.4H537.8zM537.8 795.4H552.8V810.4H537.8zM552.8 891.1H567.7V894.1H552.8zM552.8 873.1H567.7V891.1H552.8zM552.8 858.2H567.7V873.1H552.8zM552.8 846.2H567.7V858.2H552.8zM552.8 831.3H567.7V846.2H552.8zM567.7 891.1H573.7V894.1H567.7zM567.7 873.1H573.7V891.1H567.7zM567.7 858.2H573.7V873.1H567.7zM567.7 846.2H573.7V858.2H567.7zM567.7 831.3H573.7V846.2H567.7zM573.7 891.1H588.7V894.1H573.7zM573.7 873.1H588.7V891.1H573.7zM573.7 858.2H588.7V873.1H573.7zM573.7 846.2H588.7V858.2H573.7zM573.7 831.3H588.7V846.2H573.7zM588.7 777.5H606.6V795.4H588.7z"/>
<path fill="#2f6b8e" shape-rendering="crispEdges" d="M214.8 1052.5H232.8V1058.4H214.8zM244.7 1004.6H247.7V1025.6H244.7zM244.7 977.7H247.7V980.7H244.7zM244.7 953.8H247.7V956.8H244.7zM325.5 1151.1H331.5V1169.0H325.5zM358.4 1136.1H379.3V1139.1H358.4zM403.2 1136.1H406.2V1139.1H403.2zM427.2 1136.1H430.2V1139.1H427.2z"/>
<path fill="#29798e" shape-rendering="crispEdges" d="M214.8 941.9H232.8V947.9H214.8zM214.8 891.1H232.8V894.1H214.8zM214.8 846.2H232.8V858.2H214.8zM277.6 1025.6H286.6V1052.5H277.6zM331.5 1097.3H358.4V1106.3H331.5zM436.1 1151.1H442.1V1169.0H436.1zM490.0 1151.1H493.0V1169.0H490.0zM525.9 1151.1H537.8V1169.0H525.9z"/>
<path fill="#20928c" shape-rendering="crispEdges" d="M214.8 816.4H232.8V831.3H214.8zM244.7 816.4H247.7V831.3H244.7zM247.7 873.1H277.6V891.1H247.7zM286.6 831.3H322.5V846.2H286.6zM493.0 1106.3H510.9V1136.1H493.0zM537.8 1061.4H552.8V1097.3H537.8zM552.8 1151.1H567.7V1169.0H552.8zM552.8 1136.1H567.7V1139.1H552.8z"/>
<path fill="#297a8e" shape-rendering="crispEdges" d="M232.8 992.7H244.7V1004.6H232.8zM232.8 932.9H244.7V941.9H232.8zM232.8 858.2H244.7V873.1H232.8zM277.6 947.9H286.6V953.8H277.6zM379.3 1139.1H391.3V1151.1H379.3zM430.2 1097.3H436.1V1106.3H430.2zM442.1 1139.1H451.1V1151.1H442.1zM510.9 1139.1H525.9V1151.1H510.9z"/>
<path fill="#25838e" shape-rendering="crispEdges" d="M232.8 923.9H244.7V932.9H232.8zM247.7 1025.6H277.6V1052.5H247.7zM286.6 992.7H322.5V1004.6H286.6zM331.5 1106.3H358.4V1136.1H331.5zM379.3 1061.4H391.3V1097.3H379.3zM451.1 1139.1H460.1V1151.1H451.1z"/>
<path fill="#25848e" shape-rendering="crispEdges" d="M232.8 873.1H244.7V891.1H232.8zM277.6 891.1H286.6V894.1H277.6zM277.6 846.2H286.6V858.2H277.6zM286.6 918.0H322.5V923.9H286.6zM322.5 941.9H325.5V947.9H322.5zM322.5 932.9H325.5V941.9H322.5zM322.5 923.9H325.5V932.9H322.5zM322.5 918.0H325.5V923.9H322.5zM322.5 894.1H325.5V918.0H322.5zM325.5 941.9H331.5V947.9H325.5zM325.5 932.9H331.5V941.9H325.5zM325.5 923.9H331.5V932.9H325.5zM325.5 918.0H331.5V923.9H325.5zM325.5 894.1H331.5V918.0H325.5zM331.5 941.9H358.4V947.9H331.5zM331.5 932.9H358.4V941.9H331.5zM331.5 923.9H358.4V932.9H331.5zM331.5 918.0H358.4V923.9H331.5zM331.5 894.1H358.4V918.0H331.5zM358.4 941.9H379.3V947.9H358.4zM358.4 932.9H379.3V941.9H358.4zM358.4 923.9H379.3V932.9H358.4zM358.4 918.0H379.3V923.9H358.4zM358.4 894.1H379.3V918.0H358.4zM379.3 941.9H391.3V947.9H379.3zM379.3 932.9H391.3V941.9H379.3zM379.3 923.9H391.3V932.9H379.3zM379.3 918.0H391.3V923.9H379.3zM379.3 894.1H391.3V918.0H379.3zM391.3 941.9H403.2V947.9H391.3zM391.3 932.9H403.2V941.9H391.3zM391.3 923.9H403.2V932.9H391.3zM391.3 918.0H403.2V923.9H391.3zM391.3 894.1H403.2V918.0H391.3zM403.2 941.9H406.2V947.9H403.2zM403.2 932.9H406.2V941.9H403.2zM403.2 923.9H406.2V932.9H403.2zM403.2 918.0H406.2V923.9H403.2zM403.2 894.1H406.2V918.0H403.2zM406.2 941.9H427.2V947.9H406.2zM406.2 932.9H427.2V941.9H406.2zM406.2 923.9H427.2V932.9H406.2zM406.2 918.0H427.2V923.9H406.2zM406.2 894.1H427.2V918.0H406.2zM427.2 941.9H430.2V947.9H427.2zM427.2 932.9H430.2V941.9H427.2zM427.2 923.9H430.2V932.9H427.2zM427.2 918.0H430.2V923.9H427.2zM427.2 894.1H430.2V918.0H427.2zM430.2 941.9H436.1V947.9H430.2zM430.2 932.9H436.1V941.9H430.2zM430.2 923.9H436.1V932.9H430.2zM430.2 918.0H436.1V923.9H430.2zM430.2 894.1H436.1V918.0H430.2zM436.1 1058.4H442.1V1061.4H436.1zM436.1 1052.5H442.1V1058.4H436.1zM436.1 1025.6H442.1V1052.5H436.1zM436.1 1004.6H442.1V1025.6H436.1zM436.1 992.7H442.1V1004.6H436.1zM436.1 980.7H442.1V992.7H436.1zM436.1 977.7H442.1V980.7H436.1zM436.1 956.8H442.1V977.7H436.1zM436.1 953.8H442.1V956.8H436.1zM436.1 947.9H442.1V953.8H436.1zM442.1 1058.4H451.1V1061.4H442.1zM442.1 1052.5H451.1V1058.4H442.1zM442.1 1025.6H451.1V1052.5H442.1zM442.1 1004.6H451.1V1025.6H442.1zM442.1 992.7H451.1V1004.6H442.1zM442.1 980.7H451.1V992.7H442.1zM442.1 977.7H451.1V980.7H442.1zM442.1 956.8H451.1V977.7H442.1zM442.1 953.8H451.1V956.8H442.1zM442.1 947.9H451.1V953.8H442.1zM451.1 1058.4H460.1V1061.4H451.1zM451.1 1052.5H460.1V1058.4H451.1zM451.1 1025.6H460.1V1052.5H451.1zM451.1 1004.6H460.1V1025.6H451.1zM451.1 992.7H460.1V1004.6H451.1zM451.1 980.7H460.1V992.7H451.1zM451.1 977.7H460.1V980.7H451.1zM451.1 956.8H460.1V977.7H451.1zM451.1 953.8H460.1V956.8H451.1zM451.1 947.9H460.1V953.8H451.1zM460.1 1061.4H466.0V1097.3H460.1zM460.1 1058.4H466.0V1061.4H460.1zM460.1 1052.5H466.0V1058.4H460.1zM460.1 1025.6H466.0V1052.5H460.1zM460.1 1004.6H466.0V1025.6H460.1zM460.1 992.7H466.0V1004.6H460.1zM460.1 980.7H466.0V992.7H460.1zM460.1 977.7H466.0V980.7H460.1zM460.1 956.8H466.0V977.7H460.1zM460.1 953.8H466.0V956.8H460.1zM460.1 947.9H466.0V953.8H460.1zM466.0 1058.4H490.0V1061.4H466.0zM466.0 1052.5H490.0V1058.4H466.0zM466.0 1025.6H490.0V1052.5H466.0zM466.0 1004.6H490.0V1025.6H466.0zM466.0 992.7H490.0V1004.6H466.0zM466.0 980.7H490.0V992.7H466.0zM466.0 977.7H490.0V980.7H466.0zM466.0 956.8H490.0V977.7H466.0zM466.0 953.8H490.0V956.8H466.0zM466.0 947.9H490.0V953.8H466.0zM466.0 891.1H490.0V894.1H466.0zM466.0 873.1H490.0V891.1H466.0zM466.0 858.2H490.0V873.1H466.0zM466.0 846.2H490.0V858.2H466.0zM466.0 831.3H490.0V846.2H466.0zM490.0 1097.3H493.0V1106.3H490.0zM490.0 894.1H493.0V918.0H490.0zM493.0 1139.1H510.9V1151.1H493.0zM493.0 894.1H510.9V918.0H493.0zM510.9 894.1H525.9V918.0H510.9zM525.9 1097.3H537.8V1106.3H525.9zM525.9 894.1H537.8V918.0H525.9zM537.8 894.1H552.8V918.0H537.8z"/>
<path fill="#1fa188" shape-rendering="crispEdges" d="M232.8 810.4H244.7V816.4H232.8zM567.7 1139.1H573.7V1151.1H567.7z"/>
<path fill="#1e9c89" shape-rendering="crispEdges" d="M232.8 795.4H244.7V810.4H232.8zM573.7 1139.1H588.7V1151.1H573.7z"/>
<path fill="#306a8e" shape-rendering="crispEdges" d="M244.7 1052.5H247.7V1058.4H244.7zM325.5 1136.1H331.5V1139.1H325.5z"/>
<path fill="#2d718e" shape-rendering="crispEdges" d="M247.7 1106.3H277.6V1136.1H247.7zM247.7 1097.3H277.6V1106.3H247.7zM247.7 1061.4H277.6V1097.3H247.7zM277.6 1106.3H286.6V1136.1H277.6zM277.6 1097.3H286.6V1106.3H277.6zM277.6 1061.4H286.6V1097.3H277.6zM286.6 1106.3H322.5V1136.1H286.6zM286.6 1097.3H322.5V1106.3H286.6zM286.6 1061.4H322.5V1097.3H286.6z"/>
<path fill="#24878e" shape-rendering="crispEdges" d="M247.7 1058.4H277.6V1061.4H247.7zM247.7 956.8H277.6V977.7H247.7zM247.7 941.9H277.6V947.9H247.7zM286.6 858.2H322.5V873.1H286.6zM322.5 1106.3H325.5V1136.1H322.5zM406.2 1106.3H427.2V1136.1H406.2zM436.1 1106.3H442.1V1136.1H436.1zM510.9 1061.4H525.9V1097.3H510.9z"/>
<path fill="#21918c" shape-rendering="crispEdges" d="M247.7 894.1H277.6V918.0H247.7zM286.6 873.1H322.5V891.1H286.6zM466.0 1106.3H490.0V1136.1H466.0zM466.0 777.5H490.0V795.4H466.0zM490.0 777.5H493.0V795.4H490.0zM493.0 1061.4H510.9V1097.3H493.0zM493.0 777.5H510.9V795.4H493.0zM510.9 777.5H525.9V795.4H510.9zM525.9 777.5H537.8V795.4H525.9zM537.8 777.5H552.8V795.4H537.8zM588.7 894.1H606.6V918.0H588.7zM588.7 891.1H606.6V894.1H588.7zM588.7 873.1H606.6V891.1H588.7zM588.7 858.2H606.6V873.1H588.7zM588.7 846.2H606.6V858.2H588.7zM588.7 831.3H606.6V846.2H588.7z"/>
<path fill="#26ad81" shape-rendering="crispEdges" d="M247.7 795.4H277.6V810.4H247.7zM573.7 1106.3H588.7V1136.1H573.7z"/>
<path fill="#52c569" shape-rendering="crispEdges" d="M247.7 777.5H277.6V795.4H247.7zM588.7 1106.3H606.6V1136.1H588.7z"/>
<path fill="#2b748e" shape-rendering="crispEdges" d="M277.6 1052.5H286.6V1058.4H277.6zM325.5 1097.3H331.5V1106.3H325.5z"/>
<path fill="#1fa088" shape-rendering="crispEdges" d="M277.6 816.4H286.6V831.3H277.6zM552.8 1097.3H567.7V1106.3H552.8z"/>
<path fill="#22a785" shape-rendering="crispEdges" d="M277.6 810.4H286.6V816.4H277.6zM567.7 1097.3H573.7V1106.3H567.7z"/>
<path fill="#1fa287" shape-rendering="crispEdges" d="M277.6 795.4H286.6V810.4H277.6zM573.7 1097.3H588.7V1106.3H573.7z"/>
<path fill="#3dbc74" shape-rendering="crispEdges" d="M277.6 777.5H286.6V795.4H277.6zM588.7 1097.3H606.6V1106.3H588.7z"/>
<path fill="#218e8d" shape-rendering="crispEdges" d="M286.6 894.1H322.5V918.0H286.6zM322.5 816.4H325.5V831.3H322.5zM322.5 810.4H325.5V816.4H322.5zM322.5 795.4H325.5V810.4H322.5zM325.5 816.4H331.5V831.3H325.5zM325.5 810.4H331.5V816.4H325.5zM325.5 795.4H331.5V810.4H325.5zM331.5 816.4H358.4V831.3H331.5zM331.5 810.4H358.4V816.4H331.5zM331.5 795.4H358.4V810.4H331.5zM358.4 816.4H379.3V831.3H358.4zM358.4 810.4H379.3V816.4H358.4zM358.4 795.4H379.3V810.4H358.4zM379.3 816.4H391.3V831.3H379.3zM379.3 810.4H391.3V816.4H379.3zM379.3 795.4H391.3V810.4H379.3zM391.3 816.4H403.2V831.3H391.3zM391.3 810.4H403.2V816.4H391.3zM391.3 795.4H403.2V810.4H391.3zM403.2 816.4H406.2V831.3H403.2zM403.2 810.4H406.2V816.4H403.2zM403.2 795.4H406.2V810.4H403.2zM406.2 816.4H427.2V831.3H406.2zM406.2 810.4H427.2V816.4H406.2zM406.2 795.4H427.2V810.4H406.2zM427.2 816.4H430.2V831.3H427.2zM427.2 810.4H430.2V816.4H427.2zM427.2 795.4H430.2V810.4H427.2zM430.2 816.4H436.1V831.3H430.2zM430.2 810.4H436.1V816.4H430.2zM430.2 795.4H436.1V810.4H430.2zM466.0 1061.4H490.0V1097.3H466.0zM552.8 1058.4H567.7V1061.4H552.8zM552.8 1052.5H567.7V1058.4H552.8zM552.8 1025.6H567.7V1052.5H552.8zM552.8 1004.6H567.7V1025.6H552.8zM552.8 992.7H567.7V1004.6H552.8zM552.8 980.7H567.7V992.7H552.8zM552.8 977.7H567.7V980.7H552.8zM552.8 956.8H567.7V977.7H552.8zM552.8 953.8H567.7V956.8H552.8zM552.8 947.9H567.7V953.8H552.8zM567.7 1058.4H573.7V1061.4H567.7zM567.7 1052.5H573.7V1058.4H567.7zM567.7 1025.6H573.7V1052.5H567.7zM567.7 1004.6H573.7V1025.6H567.7zM567.7 992.7H573.7V1004.6H567.7zM567.7 980.7H573.7V992.7H567.7zM567.7 977.7H573.7V980.7H567.7zM567.7 956.8H573.7V977.7H567.7zM567.7 953.8H573.7V956.8H567.7zM567.7 947.9H573.7V953.8H567.7zM573.7 1058.4H588.7V1061.4H573.7zM573.7 1052.5H588.7V1058.4H573.7zM573.7 1025.6H588.7V1052.5H573.7zM573.7 1004.6H588.7V1025.6H573.7zM573.7 992.7H588.7V1004.6H573.7zM573.7 980.7H588.7V992.7H573.7zM573.7 977.7H588.7V980.7H573.7zM573.7 956.8H588.7V977.7H573.7zM573.7 953.8H588.7V956.8H573.7zM573.7 947.9H588.7V953.8H573.7z"/>
<path fill="#29af7f" shape-rendering="crispEdges" d="M286.6 810.4H322.5V816.4H286.6zM567.7 1061.4H573.7V1097.3H567.7z"/>
<path fill="#4ec36b" shape-rendering="crispEdges" d="M286.6 777.5H322.5V795.4H286.6zM588.7 1061.4H606.6V1097.3H588.7z"/>
<path fill="#2f6c8e" shape-rendering="crispEdges" d="M466.0 894.1H490.0V918.0H466.0zM490.0 891.1H493.0V894.1H490.0zM490.0 873.1H493.0V891.1H490.0zM490.0 858.2H493.0V873.1H490.0zM490.0 846.2H493.0V858.2H490.0zM490.0 831.3H493.0V846.2H490.0zM493.0 891.1H510.9V894.1H493.0zM493.0 873.1H510.9V891.1H493.0zM493.0 858.2H510.9V873.1H493.0zM493.0 846.2H510.9V858.2H493.0zM493.0 831.3H510.9V846.2H493.0zM510.9 891.1H525.9V894.1H510.9zM510.9 873.1H525.9V891.1H510.9zM510.9 858.2H525.9V873.1H510.9zM510.9 846.2H525.9V858.2H510.9zM510.9 831.3H525.9V846.2H510.9zM525.9 891.1H537.8V894.1H525.9zM525.9 873.1H537.8V891.1H525.9zM525.9 858.2H537.8V873.1H525.9zM525.9 846.2H537.8V858.2H525.9zM525.9 831.3H537.8V846.2H525.9zM537.8 891.1H552.8V894.1H537.8zM537.8 873.1H552.8V891.1H537.8zM537.8 858.2H552.8V873.1H537.8zM537.8 846.2H552.8V858.2H537.8zM537.8 831.3H552.8V846.2H537.8zM552.8 816.4H567.7V831.3H552.8zM552.8 810.4H567.7V816.4H552.8zM552.8 795.4H567.7V810.4H552.8zM567.7 816.4H573.7V831.3H567.7zM567.7 810.4H573.7V816.4H567.7zM567.7 795.4H573.7V810.4H567.7zM573.7 816.4H588.7V831.3H573.7zM573.7 810.4H588.7V816.4H573.7zM573.7 795.4H588.7V810.4H573.7z"/>
<path fill="#440154" d="M158.0 1222.8h2.99v2.99h-2.99zM161.0 1219.8h2.99v2.99h-2.99zM164.0 1216.8h2.99v2.99h-2.99zM167.0 1213.8h2.99v2.99h-2.99zM170.0 1210.9h2.99v2.99h-2.99zM173.0 1207.9h2.99v2.99h-2.99zM175.9 1204.9h2.99v2.99h-2.99zM178.9 1201.9h2.99v2.99h-2.99zM181.9 1198.9h2.99v2.99h-2.99zM184.9 1195.9h2.99v2.99h-2.99zM187.9 1192.9h2.99v2.99h-2.99zM190.9 1189.9h2.99v2.99h-2.99zM193.9 1186.9h2.99v2.99h-2.99zM196.9 1184.0h2.99v2.99h-2.99zM199.9 1181.0h2.99v2.99h-2.99zM202.9 1178.0h2.99v2.99h-2.99zM205.9 1175.0h2.99v2.99h-2.99zM208.8 1172.0h2.99v2.99h-2.99zM211.8 1169.0h2.99v2.99h-2.99zM214.8 1166.0h2.99v2.99h-2.99zM217.8 1163.0h2.99v2.99h-2.99zM220.8 1160.0h2.99v2.99h-2.99zM223.8 1157.1h2.99v2.99h-2.99zM226.8 1154.1h2.99v2.99h-2.99zM229.8 1151.1h2.99v2.99h-2.99zM232.8 1148.1h2.99v2.99h-2.99zM235.8 1145.1h2.99v2.99h-2.99zM238.7 1142.1h2.99v2.99h-2.99zM241.7 1139.1h2.99v2.99h-2.99zM244.7 1136.1h2.99v2.99h-2.99zM247.7 1133.2h2.99v2.99h-2.99zM250.7 1130.2h2.99v2.99h-2.99zM253.7 1127.2h2.99v2.99h-2.99zM256.7 1124.2h2.99v2.99h-2.99zM259.7 1121.2h2.99v2.99h-2.99zM262.7 1118.2h2.99v2.99h-2.99zM265.7 1115.2h2.99v2.99h-2.99zM268.7 1112.2h2.99v2.99h-2.99zM271.6 1109.2h2.99v2.99h-2.99zM274.6 1106.3h2.99v2.99h-2.99zM277.6 1103.3h2.99v2.99h-2.99zM280.6 1100.3h2.99v2.99h-2.99zM283.6 1097.3h2.99v2.99h-2.99zM286.6 1094.3h2.99v2.99h-2.99zM289.6 1091.3h2.99v2.99h-2.99zM292.6 1088.3h2.99v2.99h-2.99zM295.6 1085.3h2.99v2.99h-2.99zM298.6 1082.3h2.99v2.99h-2.99zM301.6 1079.4h2.99v2.99h-2.99zM304.5 1076.4h2.99v2.99h-2.99zM307.5 1073.4h2.99v2.99h-2.99zM310.5 1070.4h2.99v2.99h-2.99zM313.5 1067.4h2.99v2.99h-2.99zM316.5 1064.4h2.99v2.99h-2.99zM319.5 1061.4h2.99v2.99h-2.99zM322.5 1058.4h2.99v2.99h-2.99zM325.5 1055.4h2.99v2.99h-2.99zM328.5 1052.5h2.99v2.99h-2.99zM331.5 1049.5h2.99v2.99h-2.99zM334.4 1046.5h2.99v2.99h-2.99zM337.4 1043.5h2.99v2.99h-2.99zM340.4 1040.5h2.99v2.99h-2.99zM343.4 1037.5h2.99v2.99h-2.99zM346.4 1034.5h2.99v2.99h-2.99zM349.4 1031.5h2.99v2.99h-2.99zM352.4 1028.5h2.99v2.99h-2.99zM355.4 1025.6h2.99v2.99h-2.99zM358.4 1022.6h2.99v2.99h-2.99zM361.4 1019.6h2.99v2.99h-2.99zM364.4 1016.6h2.99v2.99h-2.99zM367.3 1013.6h2.99v2.99h-2.99zM370.3 1010.6h2.99v2.99h-2.99zM373.3 1007.6h2.99v2.99h-2.99zM376.3 1004.6h2.99v2.99h-2.99zM379.3 1001.6h2.99v2.99h-2.99zM382.3 998.7h2.99v2.99h-2.99zM385.3 995.7h2.99v2.99h-2.99zM388.3 992.7h2.99v2.99h-2.99zM391.3 989.7h2.99v2.99h-2.99zM394.3 986.7h2.99v2.99h-2.99zM397.3 983.7h2.99v2.99h-2.99zM400.2 980.7h2.99v2.99h-2.99zM403.2 977.7h2.99v2.99h-2.99zM406.2 974.8h2.99v2.99h-2.99zM409.2 971.8h2.99v2.99h-2.99zM412.2 968.8h2.99v2.99h-2.99zM415.2 965.8h2.99v2.99h-2.99zM418.2 962.8h2.99v2.99h-2.99zM421.2 959.8h2.99v2.99h-2.99zM424.2 956.8h2.99v2.99h-2.99zM427.2 953.8h2.99v2.99h-2.99zM430.2 950.8h2.99v2.99h-2.99zM433.1 947.9h2.99v2.99h-2.99zM436.1 944.9h2.99v2.99h-2.99zM439.1 941.9h2.99v2.99h-2.99zM442.1 938.9h2.99v2.99h-2.99zM445.1 935.9h2.99v2.99h-2.99zM448.1 932.9h2.99v2.99h-2.99zM451.1 929.9h2.99v2.99h-2.99zM454.1 926.9h2.99v2.99h-2.99zM457.1 923.9h2.99v2.99h-2.99zM460.1 921.0h2.99v2.99h-2.99zM463.0 918.0h2.99v2.99h-2.99zM466.0 915.0h2.99v2.99h-2.99zM469.0 912.0h2.99v2.99h-2.99zM472.0 909.0h2.99v2.99h-2.99zM475.0 906.0h2.99v2.99h-2.99zM478.0 903.0h2.99v2.99h-2.99zM481.0 900.0h2.99v2.99h-2.99zM484.0 897.0h2.99v2.99h-2.99zM487.0 894.1h2.99v2.99h-2.99zM490.0 891.1h2.99v2.99h-2.99zM493.0 888.1h2.99v2.99h-2.99zM495.9 885.1h2.99v2.99h-2.99zM498.9 882.1h2.99v2.99h-2.99zM501.9 879.1h2.99v2.99h-2.99zM504.9 876.1h2.99v2.99h-2.99zM507.9 873.1h2.99v2.99h-2.99zM510.9 870.1h2.99v2.99h-2.99zM513.9 867.2h2.99v2.99h-2.99zM516.9 864.2h2.99v2.99h-2.99zM519.9 861.2h2.99v2.99h-2.99zM522.9 858.2h2.99v2.99h-2.99zM525.9 855.2h2.99v2.99h-2.99zM528.8 852.2h2.99v2.99h-2.99zM531.8 849.2h2.99v2.99h-2.99zM534.8 846.2h2.99v2.99h-2.99zM537.8 843.3h2.99v2.99h-2.99zM540.8 840.3h2.99v2.99h-2.99zM543.8 837.3h2.99v2.99h-2.99zM546.8 834.3h2.99v2.99h-2.99zM549.8 831.3h2.99v2.99h-2.99zM552.8 828.3h2.99v2.99h-2.99zM555.8 825.3h2.99v2.99h-2.99zM558.7 822.3h2.99v2.99h-2.99zM561.7 819.3h2.99v2.99h-2.99zM564.7 816.4h2.99v2.99h-2.99zM567.7 813.4h2.99v2.99h-2.99zM570.7 810.4h2.99v2.99h-2.99zM573.7 807.4h2.99v2.99h-2.99zM576.7 804.4h2.99v2.99h-2.99zM579.7 801.4h2.99v2.99h-2.99zM582.7 798.4h2.99v2.99h-2.99zM585.7 795.4h2.99v2.99h-2.99zM588.7 792.4h2.99v2.99h-2.99zM591.6 789.5h2.99v2.99h-2.99zM594.6 786.5h2.99v2.99h-2.99zM597.6 783.5h2.99v2.99h-2.99zM600.6 780.5h2.99v2.99h-2.99zM603.6 777.5h2.99v2.99h-2.99z"/>
<path fill="none" stroke="#e31a1c" stroke-width="1.6" d="M158.0 1204.9H178.9V1225.8H158.0zM178.9 1178.0H205.9V1204.9H178.9zM205.9 1136.1H247.7V1178.0H205.9zM247.7 1061.4H322.5V1136.1H247.7zM322.5 947.9H436.1V1061.4H322.5zM436.1 918.0H466.0V947.9H436.1zM466.0 894.1H490.0V918.0H466.0zM490.0 831.3H552.8V894.1H490.0zM552.8 795.4H588.7V831.3H552.8zM588.7 777.5H606.6V795.4H588.7z"/>
<path fill="none" stroke="#333a40" stroke-opacity="0.75" stroke-width="1" d="M158.5 1225.8V778.0H606.6"/>
<path fill="none" stroke="#3a9e3a" stroke-width="1.3" d="M159.5 770.0V750.5H162.5V770.0M165.5 770.0V750.7H168.5V770.0M167.0 750.7V749.7H171.5V770.0M169.2 749.7V748.7H174.4V770.0M171.8 748.7V745.0H177.4V770.0M161.0 750.5V744.0H174.6V745.0M183.4 770.0V751.8H186.4V770.0M180.4 770.0V748.2H184.9V751.8M195.4 770.0V749.6H198.4V770.0M192.4 770.0V747.7H196.9V749.6M189.4 770.0V746.2H194.6V747.7M201.4 770.0V750.1H204.4V770.0M192.0 746.2V740.8H202.9V750.1M182.7 748.2V735.0H197.4V740.8M167.8 744.0V719.0H190.1V735.0"/>
<path fill="none" stroke="#f43c3c" stroke-width="1.3" d="M213.3 770.0V750.0H216.3V770.0M210.3 770.0V748.7H214.8V750.0M207.3 770.0V745.1H212.6V748.7M222.3 770.0V749.8H225.3V770.0M219.3 770.0V748.8H223.8V749.8M221.6 748.8V747.8H228.3V770.0M231.3 770.0V750.0H234.3V770.0M237.3 770.0V751.1H240.2V770.0M238.7 751.1V748.8H243.2V770.0M241.0 748.8V747.5H246.2V770.0M232.8 750.0V743.6H243.6V747.5M224.9 747.8V742.0H238.2V743.6M210.0 745.1V737.7H231.6V742.0M255.2 770.0V749.2H258.2V770.0M256.7 749.2V746.8H261.2V770.0M252.2 770.0V745.6H258.9V746.8M255.6 745.6V741.3H264.2V770.0M249.2 770.0V737.8H259.9V741.3M267.2 770.0V753.8H270.1V770.0M273.1 770.0V749.4H276.1V770.0M268.7 753.8V747.1H274.6V749.4M282.1 770.0V753.7H285.1V770.0M279.1 770.0V745.4H283.6V753.7M271.6 747.1V743.2H281.4V745.4M288.1 770.0V751.5H291.1V770.0M289.6 751.5V746.1H294.1V770.0M303.0 770.0V753.6H306.0V770.0M300.1 770.0V748.6H304.5V753.6M297.1 770.0V747.6H302.3V748.6M309.0 770.0V749.5H312.0V770.0M310.5 749.5V748.0H315.0V770.0M312.8 748.0V746.2H318.0V770.0M315.4 746.2V744.0H321.0V770.0M299.7 747.6V742.4H318.2V744.0M291.8 746.1V741.2H308.9V742.4M276.5 743.2V738.2H300.4V741.2M254.5 737.8V734.0H288.4V738.2M220.8 737.7V722.4H271.5V734.0"/>
<path fill="none" stroke="#44c6c6" stroke-width="1.3" d="M324.0 770.0V752.3H327.0V770.0M325.5 752.3V748.8H330.0V770.0M327.7 748.8V746.8H333.0V770.0M338.9 770.0V750.1H341.9V770.0M340.4 750.1V749.1H344.9V770.0M335.9 770.0V748.1H342.7V749.1M350.9 770.0V752.2H353.9V770.0M356.9 770.0V751.4H359.9V770.0M362.9 770.0V752.0H365.9V770.0M358.4 751.4V747.3H364.4V752.0M352.4 752.2V744.2H361.4V747.3M347.9 770.0V743.2H356.9V744.2M339.3 748.1V742.2H352.4V743.2M330.3 746.8V741.2H345.9V742.2M368.8 770.0V750.7H371.8V770.0M374.8 770.0V752.0H377.8V770.0M383.8 770.0V749.1H386.8V770.0M380.8 770.0V747.3H385.3V749.1M376.3 752.0V744.2H383.0V747.3M392.8 770.0V751.0H395.8V770.0M389.8 770.0V748.2H394.3V751.0M379.7 744.2V743.2H392.0V748.2M370.3 750.7V742.2H385.9V743.2M398.7 770.0V753.6H401.7V770.0M410.7 770.0V752.0H413.7V770.0M407.7 770.0V748.6H412.2V752.0M404.7 770.0V747.6H410.0V748.6M422.7 770.0V753.4H425.7V770.0M419.7 770.0V746.5H424.2V753.4M416.7 770.0V745.5H421.9V746.5M407.3 747.6V744.2H419.3V745.5M400.2 753.6V743.2H413.3V744.2M431.6 770.0V752.2H434.6V770.0M428.7 770.0V747.8H433.1V752.2M406.8 743.2V742.2H430.9V747.8M378.1 742.2V741.2H418.8V742.2M338.1 741.2V730.0H398.5V741.2M437.6 770.0V749.5H440.6V770.0M443.6 770.0V749.4H446.6V770.0M449.6 770.0V750.3H452.6V770.0M455.6 770.0V749.7H458.6V770.0M451.1 750.3V748.0H457.1V749.7M445.1 749.4V747.0H454.1V748.0M461.6 770.0V751.4H464.5V770.0M449.6 747.0V746.0H463.0V751.4M439.1 749.5V745.0H456.3V746.0M470.5 770.0V750.0H473.5V770.0M467.5 770.0V749.0H472.0V750.0M476.5 770.0V751.3H479.5V770.0M485.5 770.0V751.0H488.5V770.0M482.5 770.0V750.0H487.0V751.0M478.0 751.3V749.0H484.7V750.0M469.8 749.0V748.0H481.4V749.0M447.7 745.0V728.0H475.6V748.0M368.3 730.0V718.6H461.6V728.0M491.5 770.0V750.8H494.4V770.0M493.0 750.8V746.2H497.4V770.0M503.4 770.0V751.5H506.4V770.0M500.4 770.0V745.9H504.9V751.5M512.4 770.0V749.6H515.4V770.0M509.4 770.0V746.8H513.9V749.6M502.7 745.9V743.6H511.6V746.8M495.2 746.2V736.6H507.2V743.6M521.4 770.0V751.1H524.4V770.0M522.9 751.1V745.7H527.3V770.0M530.3 770.0V749.9H533.3V770.0M525.1 745.7V744.6H531.8V749.9M518.4 770.0V743.6H528.5V744.6M539.3 770.0V749.8H542.3V770.0M536.3 770.0V748.8H540.8V749.8M523.4 743.6V742.4H538.6V748.8M545.3 770.0V750.5H548.3V770.0M546.8 750.5V748.8H551.3V770.0M531.0 742.4V739.4H549.0V748.8M501.2 736.6V731.0H540.0V739.4M554.3 770.0V754.0H557.3V770.0M563.2 770.0V751.7H566.2V770.0M564.7 751.7V749.0H569.2V770.0M560.2 770.0V745.5H567.0V749.0M555.8 754.0V743.6H563.6V745.5M575.2 770.0V752.6H578.2V770.0M572.2 770.0V748.4H576.7V752.6M584.2 770.0V750.4H587.2V770.0M581.2 770.0V747.5H585.7V750.4M574.5 748.4V743.6H583.4V747.5M559.7 743.6V740.0H578.9V743.6M602.1 770.0V752.1H605.1V770.0M599.1 770.0V748.1H603.6V752.1M596.1 770.0V747.1H601.4V748.1M593.1 770.0V744.0H598.7V747.1M590.2 770.0V740.0H595.9V744.0M569.3 740.0V728.0H593.0V740.0M520.6 731.0V709.7H581.2V728.0M415.0 718.6V689.6H550.9V709.7"/>
<path fill="none" stroke="#5252f0" stroke-width="1.3" d="M246.1 722.4V654.3H482.9V689.6M178.9 719.0V626.5H364.5V654.3"/>
<path fill="none" stroke="#3a9e3a" stroke-width="1.3" d="M150.5 1224.3H131.0V1221.3H150.5M150.5 1218.3H131.2V1215.3H150.5M131.2 1216.8H130.2V1212.4H150.5M130.2 1214.6H129.2V1209.4H150.5M129.2 1212.0H125.5V1206.4H150.5M131.0 1222.8H124.5V1209.2H125.5M150.5 1200.4H132.3V1197.4H150.5M150.5 1203.4H128.7V1198.9H132.3M150.5 1188.4H130.1V1185.5H150.5M150.5 1191.4H128.2V1186.9H130.1M150.5 1194.4H126.7V1189.2H128.2M150.5 1182.5H130.6V1179.5H150.5M126.7 1191.8H121.3V1181.0H130.6M128.7 1201.1H115.5V1186.4H121.3M124.5 1216.0H99.5V1193.8H115.5"/>
<path fill="none" stroke="#f43c3c" stroke-width="1.3" d="M150.5 1170.5H130.5V1167.5H150.5M150.5 1173.5H129.2V1169.0H130.5M150.5 1176.5H125.6V1171.3H129.2M150.5 1161.5H130.3V1158.6H150.5M150.5 1164.5H129.3V1160.0H130.3M129.3 1162.3H128.3V1155.6H150.5M150.5 1152.6H130.5V1149.6H150.5M150.5 1146.6H131.6V1143.6H150.5M131.6 1145.1H129.3V1140.6H150.5M129.3 1142.9H128.0V1137.6H150.5M130.5 1151.1H124.1V1140.2H128.0M128.3 1158.9H122.5V1145.7H124.1M125.6 1173.9H118.2V1152.3H122.5M150.5 1128.7H129.7V1125.7H150.5M129.7 1127.2H127.3V1122.7H150.5M150.5 1131.7H126.1V1124.9H127.3M126.1 1128.3H121.8V1119.7H150.5M150.5 1134.6H118.3V1124.0H121.8M150.5 1116.7H134.3V1113.7H150.5M150.5 1110.7H129.9V1107.7H150.5M134.3 1115.2H127.6V1109.2H129.9M150.5 1101.8H134.2V1098.8H150.5M150.5 1104.8H125.9V1100.3H134.2M127.6 1112.2H123.7V1102.5H125.9M150.5 1095.8H132.0V1092.8H150.5M132.0 1094.3H126.6V1089.8H150.5M150.5 1080.8H134.1V1077.9H150.5M150.5 1083.8H129.1V1079.4H134.1M150.5 1086.8H128.1V1081.6H129.1M150.5 1074.9H130.0V1071.9H150.5M130.0 1073.4H128.5V1068.9H150.5M128.5 1071.1H126.7V1065.9H150.5M126.7 1068.5H124.5V1062.9H150.5M128.1 1084.2H122.9V1065.7H124.5M126.6 1092.1H121.7V1075.0H122.9M123.7 1107.4H118.7V1083.5H121.7M118.3 1129.3H114.5V1095.4H118.7M118.2 1163.1H102.9V1112.4H114.5"/>
<path fill="none" stroke="#44c6c6" stroke-width="1.3" d="M150.5 1059.9H132.8V1056.9H150.5M132.8 1058.4H129.3V1054.0H150.5M129.3 1056.2H127.3V1051.0H150.5M150.5 1045.0H130.6V1042.0H150.5M130.6 1043.5H129.6V1039.0H150.5M150.5 1048.0H128.6V1041.2H129.6M150.5 1033.0H132.7V1030.0H150.5M150.5 1027.1H131.9V1024.1H150.5M150.5 1021.1H132.5V1018.1H150.5M131.9 1025.6H127.8V1019.6H132.5M132.7 1031.5H124.7V1022.6H127.8M150.5 1036.0H123.7V1027.1H124.7M128.6 1044.6H122.7V1031.5H123.7M127.3 1053.6H121.7V1038.1H122.7M150.5 1015.1H131.2V1012.1H150.5M150.5 1009.1H132.5V1006.1H150.5M150.5 1000.2H129.6V997.2H150.5M150.5 1003.1H127.8V998.7H129.6M132.5 1007.6H124.7V1000.9H127.8M150.5 991.2H131.5V988.2H150.5M150.5 994.2H128.7V989.7H131.5M124.7 1004.3H123.7V991.9H128.7M131.2 1013.6H122.7V998.1H123.7M150.5 985.2H134.1V982.2H150.5M150.5 973.3H132.5V970.3H150.5M150.5 976.2H129.1V971.8H132.5M150.5 979.2H128.1V974.0H129.1M150.5 961.3H133.9V958.3H150.5M150.5 964.3H127.0V959.8H133.9M150.5 967.3H126.0V962.1H127.0M128.1 976.6H124.7V964.7H126.0M134.1 983.7H123.7V970.6H124.7M150.5 952.3H132.7V949.3H150.5M150.5 955.3H128.3V950.8H132.7M123.7 977.2H122.7V953.1H128.3M122.7 1005.9H121.7V965.1H122.7M121.7 1045.8H110.5V985.5H121.7M150.5 946.4H130.0V943.4H150.5M150.5 940.4H129.9V937.4H150.5M150.5 934.4H130.8V931.4H150.5M150.5 928.4H130.2V925.4H150.5M130.8 932.9H128.5V926.9H130.2M129.9 938.9H127.5V929.9H128.5M150.5 922.5H131.9V919.5H150.5M127.5 934.4H126.5V921.0H131.9M130.0 944.9H125.5V927.7H126.5M150.5 913.5H130.5V910.5H150.5M150.5 916.5H129.5V912.0H130.5M150.5 907.5H131.8V904.5H150.5M150.5 898.5H131.5V895.6H150.5M150.5 901.5H130.5V897.0H131.5M131.8 906.0H129.5V899.3H130.5M129.5 914.2H128.5V902.7H129.5M125.5 936.3H108.5V908.4H128.5M110.5 1015.7H99.1V922.4H108.5M150.5 892.6H131.3V889.6H150.5M131.3 891.1H126.7V886.6H150.5M150.5 880.6H132.0V877.6H150.5M150.5 883.6H126.4V879.1H132.0M150.5 871.6H130.1V868.7H150.5M150.5 874.6H127.3V870.1H130.1M126.4 881.4H124.1V872.4H127.3M126.7 888.8H117.1V876.9H124.1M150.5 862.7H131.6V859.7H150.5M131.6 861.2H126.2V856.7H150.5M150.5 853.7H130.4V850.7H150.5M126.2 858.9H125.1V852.2H130.4M150.5 865.7H124.1V855.6H125.1M150.5 844.7H130.3V841.8H150.5M150.5 847.7H129.3V843.3H130.3M124.1 860.6H122.9V845.5H129.3M150.5 838.8H131.0V835.8H150.5M131.0 837.3H129.3V832.8H150.5M122.9 853.1H119.9V835.0H129.3M117.1 882.9H111.5V844.0H119.9M150.5 829.8H134.5V826.8H150.5M150.5 820.8H132.2V817.8H150.5M132.2 819.3H129.5V814.9H150.5M150.5 823.8H126.0V817.1H129.5M134.5 828.3H124.1V820.5H126.0M150.5 808.9H133.1V805.9H150.5M150.5 811.9H128.9V807.4H133.1M150.5 799.9H130.9V796.9H150.5M150.5 802.9H128.0V798.4H130.9M128.9 809.6H124.1V800.7H128.0M124.1 824.4H120.5V805.1H124.1M150.5 782.0H132.6V779.0H150.5M150.5 785.0H128.6V780.5H132.6M150.5 788.0H127.6V782.7H128.6M150.5 790.9H124.5V785.3H127.6M150.5 793.9H120.5V788.1H124.5M120.5 814.8H108.5V791.0H120.5M111.5 863.4H90.2V802.9H108.5M99.1 969.0H70.1V833.2H90.2"/>
<path fill="none" stroke="#5252f0" stroke-width="1.3" d="M102.9 1137.7H34.8V901.1H70.1M99.5 1204.9H7.0V1019.4H34.8"/>
<path d="M10.0 1225.8H105.0" stroke="#8a8af5" stroke-width="1"/>
<rect x="158.5" y="621.0" width="448.0" height="149.0" fill="none" stroke="#777" stroke-width="1"/>
<rect x="1.5" y="777.5" width="149.0" height="448.3" fill="none" stroke="#888" stroke-width="1"/>
<linearGradient id="g1" x1="0" y1="0" x2="0" y2="1"><stop offset="0.00" stop-color="#fde725"/><stop offset="0.05" stop-color="#dde318"/><stop offset="0.10" stop-color="#bddf26"/><stop offset="0.15" stop-color="#9bd93c"/><stop offset="0.20" stop-color="#7ad151"/><stop offset="0.25" stop-color="#5cc863"/><stop offset="0.30" stop-color="#42be71"/><stop offset="0.35" stop-color="#2fb47c"/><stop offset="0.40" stop-color="#22a884"/><stop offset="0.45" stop-color="#1e9c89"/><stop offset="0.50" stop-color="#21918c"/><stop offset="0.55" stop-color="#25848e"/><stop offset="0.60" stop-color="#2a788e"/><stop offset="0.65" stop-color="#2f6c8e"/><stop offset="0.70" stop-color="#34608d"/><stop offset="0.75" stop-color="#3b528b"/><stop offset="0.80" stop-color="#414487"/><stop offset="0.85" stop-color="#463480"/><stop offset="0.90" stop-color="#482475"/><stop offset="0.95" stop-color="#481467"/><stop offset="1.00" stop-color="#440154"/></linearGradient>
<rect x="614.0" y="777.5" width="14.5" height="448.3" fill="url(#g1)" stroke="#666" stroke-width="1"/>
<path d="M628.5 1225.8h2.5" stroke="#444" stroke-width="0.8"/>
<text x="633.5" y="1228.8" font-size="8.2" fill="#1e1e1e" textLength="14.6" lengthAdjust="spacingAndGlyphs">0.00</text>
<path d="M628.5 1155.8h2.5" stroke="#444" stroke-width="0.8"/>
<text x="633.5" y="1158.8" font-size="8.2" fill="#1e1e1e" textLength="14.6" lengthAdjust="spacingAndGlyphs">0.05</text>
<path d="M628.5 1085.9h2.5" stroke="#444" stroke-width="0.8"/>
<text x="633.5" y="1088.9" font-size="8.2" fill="#1e1e1e" textLength="14.6" lengthAdjust="spacingAndGlyphs">0.10</text>
<path d="M628.5 1015.9h2.5" stroke="#444" stroke-width="0.8"/>
<text x="633.5" y="1018.9" font-size="8.2" fill="#1e1e1e" textLength="14.6" lengthAdjust="spacingAndGlyphs">0.15</text>
<path d="M628.5 946.0h2.5" stroke="#444" stroke-width="0.8"/>
<text x="633.5" y="949.0" font-size="8.2" fill="#1e1e1e" textLength="14.6" lengthAdjust="spacingAndGlyphs">0.20</text>
<path d="M628.5 876.0h2.5" stroke="#444" stroke-width="0.8"/>
<text x="633.5" y="879.0" font-size="8.2" fill="#1e1e1e" textLength="14.6" lengthAdjust="spacingAndGlyphs">0.25</text>
<path d="M628.5 806.0h2.5" stroke="#444" stroke-width="0.8"/>
<text x="633.5" y="809.0" font-size="8.2" fill="#1e1e1e" textLength="14.6" lengthAdjust="spacingAndGlyphs">0.30</text>
<text x="665.5" y="1022.0" font-size="35" font-weight="bold" fill="#0f1a1c" stroke="#0f1a1c" stroke-width="0.7">b</text>
<path fill="#2c738e" shape-rendering="crispEdges" d="M158.0 1836.0H167.0V1845.0H158.0zM158.0 1830.0H167.0V1836.0H158.0zM158.0 1818.1H167.0V1830.0H158.0zM167.0 1836.0H173.0V1845.0H167.0zM167.0 1830.0H173.0V1836.0H167.0zM167.0 1818.1H173.0V1830.0H167.0zM173.0 1836.0H184.9V1845.0H173.0zM173.0 1830.0H184.9V1836.0H173.0zM173.0 1818.1H184.9V1830.0H173.0zM217.8 1776.2H226.8V1785.2H217.8zM217.8 1743.3H226.8V1776.2H217.8zM226.8 1776.2H259.7V1785.2H226.8zM226.8 1743.3H259.7V1776.2H226.8zM382.3 1572.9H430.2V1620.8H382.3zM555.8 1411.5H591.6V1447.3H555.8zM555.8 1402.5H591.6V1411.5H555.8zM555.8 1396.5H591.6V1402.5H555.8zM591.6 1411.5H600.6V1447.3H591.6zM591.6 1402.5H600.6V1411.5H591.6zM591.6 1396.5H600.6V1402.5H591.6zM600.6 1411.5H606.6V1447.3H600.6zM600.6 1402.5H606.6V1411.5H600.6zM600.6 1396.5H606.6V1402.5H600.6z"/>
<path fill="#25848e" shape-rendering="crispEdges" d="M158.0 1812.1H167.0V1818.1H158.0zM158.0 1800.2H167.0V1812.1H158.0zM158.0 1785.2H167.0V1800.2H158.0zM167.0 1812.1H173.0V1818.1H167.0zM167.0 1800.2H173.0V1812.1H167.0zM167.0 1785.2H173.0V1800.2H167.0zM173.0 1812.1H184.9V1818.1H173.0zM173.0 1800.2H184.9V1812.1H173.0zM173.0 1785.2H184.9V1800.2H173.0zM184.9 1836.0H190.9V1845.0H184.9zM184.9 1830.0H190.9V1836.0H184.9zM184.9 1818.1H190.9V1830.0H184.9zM184.9 1504.1H190.9V1513.1H184.9zM190.9 1836.0H202.9V1845.0H190.9zM190.9 1830.0H202.9V1836.0H190.9zM190.9 1818.1H202.9V1830.0H190.9zM202.9 1836.0H217.8V1845.0H202.9zM202.9 1830.0H217.8V1836.0H202.9zM202.9 1818.1H217.8V1830.0H202.9zM226.8 1513.1H259.7V1516.1H226.8zM226.8 1486.2H259.7V1504.1H226.8zM307.5 1572.9H337.4V1620.8H307.5zM337.4 1572.9H382.3V1620.8H337.4zM382.3 1665.6H430.2V1695.5H382.3zM382.3 1620.8H430.2V1665.6H382.3zM430.2 1513.1H433.1V1516.1H430.2zM430.2 1504.1H433.1V1513.1H430.2zM430.2 1486.2H433.1V1504.1H430.2zM433.1 1513.1H463.0V1516.1H433.1zM433.1 1504.1H463.0V1513.1H433.1zM433.1 1486.2H463.0V1504.1H433.1zM463.0 1513.1H478.0V1516.1H463.0zM463.0 1504.1H478.0V1513.1H463.0zM463.0 1486.2H478.0V1504.1H463.0zM478.0 1513.1H487.0V1516.1H478.0zM478.0 1504.1H487.0V1513.1H478.0zM478.0 1486.2H487.0V1504.1H478.0zM487.0 1743.3H490.0V1776.2H487.0zM487.0 1569.9H490.0V1572.9H487.0zM487.0 1540.0H490.0V1569.9H487.0zM487.0 1525.1H490.0V1540.0H487.0zM487.0 1516.1H490.0V1525.1H487.0zM487.0 1447.3H490.0V1486.2H487.0zM487.0 1411.5H490.0V1447.3H487.0zM487.0 1402.5H490.0V1411.5H487.0zM487.0 1396.5H490.0V1402.5H487.0zM490.0 1812.1H498.9V1818.1H490.0zM490.0 1569.9H498.9V1572.9H490.0zM490.0 1540.0H498.9V1569.9H490.0zM490.0 1525.1H498.9V1540.0H490.0zM490.0 1516.1H498.9V1525.1H490.0zM490.0 1447.3H498.9V1486.2H490.0zM490.0 1411.5H498.9V1447.3H490.0zM490.0 1402.5H498.9V1411.5H490.0zM490.0 1396.5H498.9V1402.5H490.0zM498.9 1743.3H516.9V1776.2H498.9zM498.9 1569.9H516.9V1572.9H498.9zM498.9 1540.0H516.9V1569.9H498.9zM498.9 1525.1H516.9V1540.0H498.9zM498.9 1516.1H516.9V1525.1H498.9zM498.9 1447.3H516.9V1486.2H498.9zM498.9 1411.5H516.9V1447.3H498.9zM498.9 1402.5H516.9V1411.5H498.9zM498.9 1396.5H516.9V1402.5H498.9zM516.9 1513.1H555.8V1516.1H516.9zM516.9 1504.1H555.8V1513.1H516.9zM516.9 1486.2H555.8V1504.1H516.9zM555.8 1513.1H591.6V1516.1H555.8zM555.8 1504.1H591.6V1513.1H555.8zM555.8 1486.2H591.6V1504.1H555.8zM591.6 1513.1H600.6V1516.1H591.6zM591.6 1504.1H600.6V1513.1H591.6zM591.6 1486.2H600.6V1504.1H591.6zM600.6 1513.1H606.6V1516.1H600.6zM600.6 1504.1H606.6V1513.1H600.6zM600.6 1486.2H606.6V1504.1H600.6z"/>
<path fill="#21918c" shape-rendering="crispEdges" d="M158.0 1776.2H167.0V1785.2H158.0zM158.0 1743.3H167.0V1776.2H158.0zM167.0 1776.2H173.0V1785.2H167.0zM167.0 1743.3H173.0V1776.2H167.0zM173.0 1776.2H184.9V1785.2H173.0zM173.0 1743.3H184.9V1776.2H173.0zM217.8 1836.0H226.8V1845.0H217.8zM217.8 1830.0H226.8V1836.0H217.8zM217.8 1818.1H226.8V1830.0H217.8zM226.8 1836.0H259.7V1845.0H226.8zM226.8 1830.0H259.7V1836.0H226.8zM226.8 1818.1H259.7V1830.0H226.8zM307.5 1447.3H337.4V1486.2H307.5zM337.4 1447.3H382.3V1486.2H337.4zM516.9 1665.6H555.8V1695.5H516.9zM516.9 1620.8H555.8V1665.6H516.9z"/>
<path fill="#c8e020" shape-rendering="crispEdges" d="M158.0 1695.5H167.0V1743.3H158.0zM259.7 1836.0H307.5V1845.0H259.7z"/>
<path fill="#8ed645" shape-rendering="crispEdges" d="M158.0 1665.6H167.0V1695.5H158.0zM158.0 1411.5H167.0V1447.3H158.0zM158.0 1396.5H167.0V1402.5H158.0zM167.0 1402.5H173.0V1411.5H167.0zM307.5 1836.0H337.4V1845.0H307.5zM555.8 1836.0H591.6V1845.0H555.8zM591.6 1830.0H600.6V1836.0H591.6zM600.6 1836.0H606.6V1845.0H600.6z"/>
<path fill="#b8de29" shape-rendering="crispEdges" d="M158.0 1620.8H167.0V1665.6H158.0zM337.4 1836.0H382.3V1845.0H337.4z"/>
<path fill="#22a884" shape-rendering="crispEdges" d="M158.0 1572.9H167.0V1620.8H158.0zM382.3 1836.0H430.2V1845.0H382.3z"/>
<path fill="#2cb17e" shape-rendering="crispEdges" d="M158.0 1569.9H167.0V1572.9H158.0zM158.0 1525.1H167.0V1540.0H158.0zM158.0 1447.3H167.0V1486.2H158.0zM167.0 1516.1H173.0V1525.1H167.0zM430.2 1836.0H433.1V1845.0H430.2zM463.0 1836.0H478.0V1845.0H463.0zM478.0 1830.0H487.0V1836.0H478.0zM516.9 1836.0H555.8V1845.0H516.9z"/>
<path fill="#3aba76" shape-rendering="crispEdges" d="M158.0 1540.0H167.0V1569.9H158.0zM184.9 1695.5H190.9V1743.3H184.9zM259.7 1812.1H307.5V1818.1H259.7zM433.1 1836.0H463.0V1845.0H433.1z"/>
<path fill="#40bd72" shape-rendering="crispEdges" d="M158.0 1516.1H167.0V1525.1H158.0zM158.0 1504.1H167.0V1513.1H158.0zM478.0 1836.0H487.0V1845.0H478.0zM490.0 1836.0H498.9V1845.0H490.0z"/>
<path fill="#69cd5b" shape-rendering="crispEdges" d="M158.0 1513.1H167.0V1516.1H158.0zM158.0 1486.2H167.0V1504.1H158.0zM217.8 1695.5H226.8V1743.3H217.8zM259.7 1776.2H307.5V1785.2H259.7zM487.0 1836.0H490.0V1845.0H487.0zM498.9 1836.0H516.9V1845.0H498.9z"/>
<path fill="#b0dd2f" shape-rendering="crispEdges" d="M158.0 1402.5H167.0V1411.5H158.0zM591.6 1836.0H600.6V1845.0H591.6z"/>
<path fill="#a5db36" shape-rendering="crispEdges" d="M167.0 1695.5H173.0V1743.3H167.0zM259.7 1830.0H307.5V1836.0H259.7z"/>
<path fill="#6ccd5a" shape-rendering="crispEdges" d="M167.0 1665.6H173.0V1695.5H167.0zM167.0 1411.5H173.0V1447.3H167.0zM167.0 1396.5H173.0V1402.5H167.0zM307.5 1830.0H337.4V1836.0H307.5zM555.8 1830.0H591.6V1836.0H555.8zM600.6 1830.0H606.6V1836.0H600.6z"/>
<path fill="#95d840" shape-rendering="crispEdges" d="M167.0 1620.8H173.0V1665.6H167.0zM337.4 1830.0H382.3V1836.0H337.4z"/>
<path fill="#1e9c89" shape-rendering="crispEdges" d="M167.0 1572.9H173.0V1620.8H167.0zM173.0 1540.0H184.9V1569.9H173.0zM190.9 1540.0H202.9V1569.9H190.9zM259.7 1572.9H307.5V1620.8H259.7zM382.3 1830.0H430.2V1836.0H382.3zM382.3 1695.5H430.2V1743.3H382.3zM433.1 1818.1H463.0V1830.0H433.1zM433.1 1800.2H463.0V1812.1H433.1z"/>
<path fill="#21a585" shape-rendering="crispEdges" d="M167.0 1569.9H173.0V1572.9H167.0zM167.0 1525.1H173.0V1540.0H167.0zM167.0 1447.3H173.0V1486.2H167.0zM430.2 1830.0H433.1V1836.0H430.2zM463.0 1830.0H478.0V1836.0H463.0zM516.9 1830.0H555.8V1836.0H516.9z"/>
<path fill="#28ae80" shape-rendering="crispEdges" d="M167.0 1540.0H173.0V1569.9H167.0zM433.1 1830.0H463.0V1836.0H433.1z"/>
<path fill="#4ec36b" shape-rendering="crispEdges" d="M167.0 1513.1H173.0V1516.1H167.0zM167.0 1486.2H173.0V1504.1H167.0zM487.0 1830.0H490.0V1836.0H487.0zM498.9 1830.0H516.9V1836.0H498.9z"/>
<path fill="#2db27d" shape-rendering="crispEdges" d="M167.0 1504.1H173.0V1513.1H167.0zM173.0 1513.1H184.9V1516.1H173.0zM173.0 1486.2H184.9V1504.1H173.0zM487.0 1818.1H490.0V1830.0H487.0zM490.0 1830.0H498.9V1836.0H490.0zM498.9 1818.1H516.9V1830.0H498.9z"/>
<path fill="#73d056" shape-rendering="crispEdges" d="M173.0 1695.5H184.9V1743.3H173.0zM259.7 1818.1H307.5V1830.0H259.7z"/>
<path fill="#44bf70" shape-rendering="crispEdges" d="M173.0 1665.6H184.9V1695.5H173.0zM173.0 1411.5H184.9V1447.3H173.0zM173.0 1396.5H184.9V1402.5H173.0zM307.5 1818.1H337.4V1830.0H307.5zM555.8 1818.1H591.6V1830.0H555.8zM600.6 1818.1H606.6V1830.0H600.6z"/>
<path fill="#65cb5e" shape-rendering="crispEdges" d="M173.0 1620.8H184.9V1665.6H173.0zM337.4 1818.1H382.3V1830.0H337.4z"/>
<path fill="#23898e" shape-rendering="crispEdges" d="M173.0 1572.9H184.9V1620.8H173.0zM190.9 1572.9H202.9V1620.8H190.9zM307.5 1513.1H337.4V1516.1H307.5zM307.5 1504.1H337.4V1513.1H307.5zM307.5 1486.2H337.4V1504.1H307.5zM337.4 1513.1H382.3V1516.1H337.4zM337.4 1504.1H382.3V1513.1H337.4zM337.4 1486.2H382.3V1504.1H337.4zM382.3 1818.1H430.2V1830.0H382.3zM382.3 1800.2H430.2V1812.1H382.3zM487.0 1665.6H490.0V1695.5H487.0zM487.0 1620.8H490.0V1665.6H487.0zM490.0 1665.6H498.9V1695.5H490.0zM490.0 1620.8H498.9V1665.6H490.0zM498.9 1665.6H516.9V1695.5H498.9zM498.9 1620.8H516.9V1665.6H498.9z"/>
<path fill="#20928c" shape-rendering="crispEdges" d="M173.0 1569.9H184.9V1572.9H173.0zM173.0 1525.1H184.9V1540.0H173.0zM173.0 1447.3H184.9V1486.2H173.0zM184.9 1516.1H190.9V1525.1H184.9zM190.9 1569.9H202.9V1572.9H190.9zM190.9 1525.1H202.9V1540.0H190.9zM190.9 1504.1H202.9V1513.1H190.9zM226.8 1665.6H259.7V1695.5H226.8zM226.8 1402.5H259.7V1411.5H226.8zM307.5 1743.3H337.4V1776.2H307.5zM430.2 1818.1H433.1V1830.0H430.2zM430.2 1800.2H433.1V1812.1H430.2zM463.0 1818.1H478.0V1830.0H463.0zM463.0 1800.2H478.0V1812.1H463.0zM478.0 1812.1H487.0V1818.1H478.0zM490.0 1800.2H498.9V1812.1H490.0zM516.9 1818.1H555.8V1830.0H516.9zM591.6 1743.3H600.6V1776.2H591.6z"/>
<path fill="#1f9f88" shape-rendering="crispEdges" d="M173.0 1516.1H184.9V1525.1H173.0zM190.9 1516.1H202.9V1525.1H190.9zM478.0 1818.1H487.0V1830.0H478.0zM478.0 1800.2H487.0V1812.1H478.0z"/>
<path fill="#1fa088" shape-rendering="crispEdges" d="M173.0 1504.1H184.9V1513.1H173.0zM490.0 1818.1H498.9V1830.0H490.0z"/>
<path fill="#5ec962" shape-rendering="crispEdges" d="M173.0 1402.5H184.9V1411.5H173.0zM591.6 1818.1H600.6V1830.0H591.6z"/>
<path fill="#2f6c8e" shape-rendering="crispEdges" d="M184.9 1812.1H190.9V1818.1H184.9zM184.9 1800.2H190.9V1812.1H184.9zM184.9 1785.2H190.9V1800.2H184.9zM190.9 1812.1H202.9V1818.1H190.9zM190.9 1800.2H202.9V1812.1H190.9zM190.9 1785.2H202.9V1800.2H190.9zM202.9 1812.1H217.8V1818.1H202.9zM202.9 1800.2H217.8V1812.1H202.9zM202.9 1785.2H217.8V1800.2H202.9zM259.7 1665.6H307.5V1695.5H259.7zM259.7 1620.8H307.5V1665.6H259.7zM307.5 1695.5H337.4V1743.3H307.5zM337.4 1695.5H382.3V1743.3H337.4z"/>
<path fill="#297b8e" shape-rendering="crispEdges" d="M184.9 1776.2H190.9V1785.2H184.9zM184.9 1743.3H190.9V1776.2H184.9zM190.9 1776.2H202.9V1785.2H190.9zM190.9 1743.3H202.9V1776.2H190.9zM202.9 1776.2H217.8V1785.2H202.9zM202.9 1743.3H217.8V1776.2H202.9zM217.8 1812.1H226.8V1818.1H217.8zM217.8 1800.2H226.8V1812.1H217.8zM217.8 1785.2H226.8V1800.2H217.8zM226.8 1812.1H259.7V1818.1H226.8zM226.8 1800.2H259.7V1812.1H226.8zM226.8 1785.2H259.7V1800.2H226.8z"/>
<path fill="#1f9e89" shape-rendering="crispEdges" d="M184.9 1665.6H190.9V1695.5H184.9zM307.5 1812.1H337.4V1818.1H307.5z"/>
<path fill="#27ad81" shape-rendering="crispEdges" d="M184.9 1620.8H190.9V1665.6H184.9zM337.4 1812.1H382.3V1818.1H337.4z"/>
<path fill="#287c8e" shape-rendering="crispEdges" d="M184.9 1572.9H190.9V1620.8H184.9zM226.8 1540.0H259.7V1569.9H226.8zM382.3 1812.1H430.2V1818.1H382.3zM433.1 1743.3H463.0V1776.2H433.1z"/>
<path fill="#24868e" shape-rendering="crispEdges" d="M184.9 1569.9H190.9V1572.9H184.9zM184.9 1525.1H190.9V1540.0H184.9zM226.8 1411.5H259.7V1447.3H226.8zM226.8 1396.5H259.7V1402.5H226.8zM430.2 1812.1H433.1V1818.1H430.2zM463.0 1812.1H478.0V1818.1H463.0zM555.8 1743.3H591.6V1776.2H555.8zM600.6 1743.3H606.6V1776.2H600.6z"/>
<path fill="#21908d" shape-rendering="crispEdges" d="M184.9 1540.0H190.9V1569.9H184.9zM202.9 1516.1H217.8V1525.1H202.9zM433.1 1812.1H463.0V1818.1H433.1zM478.0 1785.2H487.0V1800.2H478.0z"/>
<path fill="#1f978b" shape-rendering="crispEdges" d="M184.9 1513.1H190.9V1516.1H184.9zM184.9 1486.2H190.9V1504.1H184.9zM184.9 1411.5H190.9V1447.3H184.9zM184.9 1396.5H190.9V1402.5H184.9zM217.8 1504.1H226.8V1513.1H217.8zM487.0 1812.1H490.0V1818.1H487.0zM490.0 1776.2H498.9V1785.2H490.0zM498.9 1812.1H516.9V1818.1H498.9zM555.8 1812.1H591.6V1818.1H555.8zM600.6 1812.1H606.6V1818.1H600.6z"/>
<path fill="#2c728e" shape-rendering="crispEdges" d="M184.9 1447.3H190.9V1486.2H184.9zM226.8 1569.9H259.7V1572.9H226.8zM226.8 1525.1H259.7V1540.0H226.8zM430.2 1743.3H433.1V1776.2H430.2zM463.0 1743.3H478.0V1776.2H463.0zM516.9 1812.1H555.8V1818.1H516.9z"/>
<path fill="#20a386" shape-rendering="crispEdges" d="M184.9 1402.5H190.9V1411.5H184.9zM190.9 1411.5H202.9V1447.3H190.9zM190.9 1396.5H202.9V1402.5H190.9zM555.8 1800.2H591.6V1812.1H555.8zM591.6 1812.1H600.6V1818.1H591.6zM600.6 1800.2H606.6V1812.1H600.6z"/>
<path fill="#52c569" shape-rendering="crispEdges" d="M190.9 1695.5H202.9V1743.3H190.9zM217.8 1620.8H226.8V1665.6H217.8zM259.7 1800.2H307.5V1812.1H259.7zM337.4 1776.2H382.3V1785.2H337.4z"/>
<path fill="#25ab82" shape-rendering="crispEdges" d="M190.9 1665.6H202.9V1695.5H190.9zM202.9 1620.8H217.8V1665.6H202.9zM217.8 1411.5H226.8V1447.3H217.8zM217.8 1396.5H226.8V1402.5H217.8zM307.5 1800.2H337.4V1812.1H307.5zM337.4 1785.2H382.3V1800.2H337.4zM555.8 1776.2H591.6V1785.2H555.8zM600.6 1776.2H606.6V1785.2H600.6z"/>
<path fill="#38b977" shape-rendering="crispEdges" d="M190.9 1620.8H202.9V1665.6H190.9zM337.4 1800.2H382.3V1812.1H337.4z"/>
<path fill="#20a486" shape-rendering="crispEdges" d="M190.9 1513.1H202.9V1516.1H190.9zM190.9 1486.2H202.9V1504.1H190.9zM217.8 1516.1H226.8V1525.1H217.8zM478.0 1776.2H487.0V1785.2H478.0zM487.0 1800.2H490.0V1812.1H487.0zM498.9 1800.2H516.9V1812.1H498.9z"/>
<path fill="#277f8e" shape-rendering="crispEdges" d="M190.9 1447.3H202.9V1486.2H190.9zM516.9 1800.2H555.8V1812.1H516.9z"/>
<path fill="#29af7f" shape-rendering="crispEdges" d="M190.9 1402.5H202.9V1411.5H190.9zM591.6 1800.2H600.6V1812.1H591.6z"/>
<path fill="#34b679" shape-rendering="crispEdges" d="M202.9 1695.5H217.8V1743.3H202.9zM217.8 1665.6H226.8V1695.5H217.8zM259.7 1785.2H307.5V1800.2H259.7zM307.5 1776.2H337.4V1785.2H307.5z"/>
<path fill="#1e9b8a" shape-rendering="crispEdges" d="M202.9 1665.6H217.8V1695.5H202.9zM307.5 1785.2H337.4V1800.2H307.5z"/>
<path fill="#29798e" shape-rendering="crispEdges" d="M202.9 1572.9H217.8V1620.8H202.9zM382.3 1785.2H430.2V1800.2H382.3z"/>
<path fill="#25838e" shape-rendering="crispEdges" d="M202.9 1569.9H217.8V1572.9H202.9zM202.9 1525.1H217.8V1540.0H202.9zM430.2 1785.2H433.1V1800.2H430.2zM463.0 1785.2H478.0V1800.2H463.0z"/>
<path fill="#228c8d" shape-rendering="crispEdges" d="M202.9 1540.0H217.8V1569.9H202.9zM433.1 1785.2H463.0V1800.2H433.1z"/>
<path fill="#1f948c" shape-rendering="crispEdges" d="M202.9 1513.1H217.8V1516.1H202.9zM202.9 1486.2H217.8V1504.1H202.9zM487.0 1785.2H490.0V1800.2H487.0zM498.9 1785.2H516.9V1800.2H498.9z"/>
<path fill="#26828e" shape-rendering="crispEdges" d="M202.9 1504.1H217.8V1513.1H202.9zM382.3 1513.1H430.2V1516.1H382.3zM382.3 1504.1H430.2V1513.1H382.3zM382.3 1486.2H430.2V1504.1H382.3zM382.3 1411.5H430.2V1447.3H382.3zM382.3 1402.5H430.2V1411.5H382.3zM382.3 1396.5H430.2V1402.5H382.3zM430.2 1411.5H433.1V1447.3H430.2zM430.2 1402.5H433.1V1411.5H430.2zM430.2 1396.5H433.1V1402.5H430.2zM433.1 1411.5H463.0V1447.3H433.1zM433.1 1402.5H463.0V1411.5H433.1zM433.1 1396.5H463.0V1402.5H433.1zM463.0 1411.5H478.0V1447.3H463.0zM463.0 1402.5H478.0V1411.5H463.0zM463.0 1396.5H478.0V1402.5H463.0zM478.0 1411.5H487.0V1447.3H478.0zM478.0 1402.5H487.0V1411.5H478.0zM478.0 1396.5H487.0V1402.5H478.0zM487.0 1572.9H490.0V1620.8H487.0zM490.0 1785.2H498.9V1800.2H490.0zM490.0 1572.9H498.9V1620.8H490.0zM498.9 1572.9H516.9V1620.8H498.9zM555.8 1572.9H591.6V1620.8H555.8zM555.8 1569.9H591.6V1572.9H555.8zM555.8 1540.0H591.6V1569.9H555.8zM555.8 1525.1H591.6V1540.0H555.8zM555.8 1516.1H591.6V1525.1H555.8zM591.6 1572.9H600.6V1620.8H591.6zM591.6 1569.9H600.6V1572.9H591.6zM591.6 1540.0H600.6V1569.9H591.6zM591.6 1525.1H600.6V1540.0H591.6zM591.6 1516.1H600.6V1525.1H591.6zM600.6 1572.9H606.6V1620.8H600.6zM600.6 1569.9H606.6V1572.9H600.6zM600.6 1540.0H606.6V1569.9H600.6zM600.6 1525.1H606.6V1540.0H600.6zM600.6 1516.1H606.6V1525.1H600.6z"/>
<path fill="#2d708e" shape-rendering="crispEdges" d="M202.9 1447.3H217.8V1486.2H202.9zM516.9 1785.2H555.8V1800.2H516.9z"/>
<path fill="#20938c" shape-rendering="crispEdges" d="M202.9 1411.5H217.8V1447.3H202.9zM202.9 1396.5H217.8V1402.5H202.9zM217.8 1572.9H226.8V1620.8H217.8zM217.8 1447.3H226.8V1486.2H217.8zM382.3 1776.2H430.2V1785.2H382.3zM516.9 1776.2H555.8V1785.2H516.9zM555.8 1785.2H591.6V1800.2H555.8zM600.6 1785.2H606.6V1800.2H600.6z"/>
<path fill="#1fa188" shape-rendering="crispEdges" d="M202.9 1402.5H217.8V1411.5H202.9zM259.7 1447.3H307.5V1486.2H259.7zM516.9 1695.5H555.8V1743.3H516.9zM591.6 1785.2H600.6V1800.2H591.6z"/>
<path fill="#1f988b" shape-rendering="crispEdges" d="M217.8 1569.9H226.8V1572.9H217.8zM217.8 1525.1H226.8V1540.0H217.8zM430.2 1776.2H433.1V1785.2H430.2zM463.0 1776.2H478.0V1785.2H463.0z"/>
<path fill="#1fa187" shape-rendering="crispEdges" d="M217.8 1540.0H226.8V1569.9H217.8zM226.8 1620.8H259.7V1665.6H226.8zM337.4 1743.3H382.3V1776.2H337.4zM433.1 1776.2H463.0V1785.2H433.1z"/>
<path fill="#24aa83" shape-rendering="crispEdges" d="M217.8 1513.1H226.8V1516.1H217.8zM217.8 1486.2H226.8V1504.1H217.8zM487.0 1776.2H490.0V1785.2H487.0zM498.9 1776.2H516.9V1785.2H498.9z"/>
<path fill="#35b779" shape-rendering="crispEdges" d="M217.8 1402.5H226.8V1411.5H217.8zM591.6 1776.2H600.6V1785.2H591.6z"/>
<path fill="#25ac82" shape-rendering="crispEdges" d="M226.8 1695.5H259.7V1743.3H226.8zM259.7 1743.3H307.5V1776.2H259.7z"/>
<path fill="#2e6e8e" shape-rendering="crispEdges" d="M226.8 1572.9H259.7V1620.8H226.8zM226.8 1447.3H259.7V1486.2H226.8zM382.3 1743.3H430.2V1776.2H382.3zM516.9 1743.3H555.8V1776.2H516.9z"/>
<path fill="#27808e" shape-rendering="crispEdges" d="M226.8 1516.1H259.7V1525.1H226.8zM307.5 1411.5H337.4V1447.3H307.5zM307.5 1402.5H337.4V1411.5H307.5zM307.5 1396.5H337.4V1402.5H307.5zM337.4 1411.5H382.3V1447.3H337.4zM337.4 1402.5H382.3V1411.5H337.4zM337.4 1396.5H382.3V1402.5H337.4zM430.2 1447.3H433.1V1486.2H430.2zM433.1 1447.3H463.0V1486.2H433.1zM463.0 1447.3H478.0V1486.2H463.0zM478.0 1743.3H487.0V1776.2H478.0zM478.0 1447.3H487.0V1486.2H478.0zM516.9 1569.9H555.8V1572.9H516.9zM516.9 1540.0H555.8V1569.9H516.9zM516.9 1525.1H555.8V1540.0H516.9zM516.9 1516.1H555.8V1525.1H516.9zM555.8 1665.6H591.6V1695.5H555.8zM555.8 1620.8H591.6V1665.6H555.8zM591.6 1665.6H600.6V1695.5H591.6zM591.6 1620.8H600.6V1665.6H591.6zM600.6 1665.6H606.6V1695.5H600.6zM600.6 1620.8H606.6V1665.6H600.6z"/>
<path fill="#2c718e" shape-rendering="crispEdges" d="M226.8 1504.1H259.7V1513.1H226.8zM490.0 1743.3H498.9V1776.2H490.0z"/>
<path fill="#2d718e" shape-rendering="crispEdges" d="M259.7 1695.5H307.5V1743.3H259.7zM516.9 1447.3H555.8V1486.2H516.9z"/>
<path fill="#228b8d" shape-rendering="crispEdges" d="M259.7 1569.9H307.5V1572.9H259.7zM259.7 1540.0H307.5V1569.9H259.7zM259.7 1525.1H307.5V1540.0H259.7zM259.7 1516.1H307.5V1525.1H259.7zM259.7 1513.1H307.5V1516.1H259.7zM259.7 1504.1H307.5V1513.1H259.7zM259.7 1486.2H307.5V1504.1H259.7zM430.2 1695.5H433.1V1743.3H430.2zM433.1 1695.5H463.0V1743.3H433.1zM463.0 1695.5H478.0V1743.3H463.0zM478.0 1695.5H487.0V1743.3H478.0zM487.0 1695.5H490.0V1743.3H487.0zM490.0 1695.5H498.9V1743.3H490.0zM498.9 1695.5H516.9V1743.3H498.9z"/>
<path fill="#2b758e" shape-rendering="crispEdges" d="M259.7 1411.5H307.5V1447.3H259.7zM259.7 1402.5H307.5V1411.5H259.7zM259.7 1396.5H307.5V1402.5H259.7zM555.8 1695.5H591.6V1743.3H555.8zM591.6 1695.5H600.6V1743.3H591.6zM600.6 1695.5H606.6V1743.3H600.6z"/>
<path fill="#2a788e" shape-rendering="crispEdges" d="M307.5 1665.6H337.4V1695.5H307.5zM307.5 1620.8H337.4V1665.6H307.5zM337.4 1665.6H382.3V1695.5H337.4zM337.4 1620.8H382.3V1665.6H337.4zM430.2 1569.9H433.1V1572.9H430.2zM430.2 1540.0H433.1V1569.9H430.2zM430.2 1525.1H433.1V1540.0H430.2zM430.2 1516.1H433.1V1525.1H430.2zM433.1 1569.9H463.0V1572.9H433.1zM433.1 1540.0H463.0V1569.9H433.1zM433.1 1525.1H463.0V1540.0H433.1zM433.1 1516.1H463.0V1525.1H433.1zM463.0 1569.9H478.0V1572.9H463.0zM463.0 1540.0H478.0V1569.9H463.0zM463.0 1525.1H478.0V1540.0H463.0zM463.0 1516.1H478.0V1525.1H463.0zM478.0 1569.9H487.0V1572.9H478.0zM478.0 1540.0H487.0V1569.9H478.0zM478.0 1525.1H487.0V1540.0H478.0zM478.0 1516.1H487.0V1525.1H478.0zM487.0 1513.1H490.0V1516.1H487.0zM487.0 1504.1H490.0V1513.1H487.0zM487.0 1486.2H490.0V1504.1H487.0zM490.0 1513.1H498.9V1516.1H490.0zM490.0 1504.1H498.9V1513.1H490.0zM490.0 1486.2H498.9V1504.1H490.0zM498.9 1513.1H516.9V1516.1H498.9zM498.9 1504.1H516.9V1513.1H498.9zM498.9 1486.2H516.9V1504.1H498.9z"/>
<path fill="#287d8e" shape-rendering="crispEdges" d="M307.5 1569.9H337.4V1572.9H307.5zM307.5 1540.0H337.4V1569.9H307.5zM307.5 1525.1H337.4V1540.0H307.5zM307.5 1516.1H337.4V1525.1H307.5zM337.4 1569.9H382.3V1572.9H337.4zM337.4 1540.0H382.3V1569.9H337.4zM337.4 1525.1H382.3V1540.0H337.4zM337.4 1516.1H382.3V1525.1H337.4zM382.3 1569.9H430.2V1572.9H382.3zM382.3 1540.0H430.2V1569.9H382.3zM382.3 1525.1H430.2V1540.0H382.3zM382.3 1516.1H430.2V1525.1H382.3zM382.3 1447.3H430.2V1486.2H382.3zM430.2 1665.6H433.1V1695.5H430.2zM430.2 1620.8H433.1V1665.6H430.2zM430.2 1572.9H433.1V1620.8H430.2zM433.1 1665.6H463.0V1695.5H433.1zM433.1 1620.8H463.0V1665.6H433.1zM433.1 1572.9H463.0V1620.8H433.1zM463.0 1665.6H478.0V1695.5H463.0zM463.0 1620.8H478.0V1665.6H463.0zM463.0 1572.9H478.0V1620.8H463.0zM478.0 1665.6H487.0V1695.5H478.0zM478.0 1620.8H487.0V1665.6H478.0zM478.0 1572.9H487.0V1620.8H478.0zM516.9 1572.9H555.8V1620.8H516.9zM516.9 1411.5H555.8V1447.3H516.9zM516.9 1402.5H555.8V1411.5H516.9zM516.9 1396.5H555.8V1402.5H516.9zM555.8 1447.3H591.6V1486.2H555.8zM591.6 1447.3H600.6V1486.2H591.6zM600.6 1447.3H606.6V1486.2H600.6z"/>
<path fill="#440154" d="M158.0 1842.0h2.99v2.99h-2.99zM161.0 1839.0h2.99v2.99h-2.99zM164.0 1836.0h2.99v2.99h-2.99zM167.0 1833.0h2.99v2.99h-2.99zM170.0 1830.0h2.99v2.99h-2.99zM173.0 1827.1h2.99v2.99h-2.99zM175.9 1824.1h2.99v2.99h-2.99zM178.9 1821.1h2.99v2.99h-2.99zM181.9 1818.1h2.99v2.99h-2.99zM184.9 1815.1h2.99v2.99h-2.99zM187.9 1812.1h2.99v2.99h-2.99zM190.9 1809.1h2.99v2.99h-2.99zM193.9 1806.1h2.99v2.99h-2.99zM196.9 1803.1h2.99v2.99h-2.99zM199.9 1800.2h2.99v2.99h-2.99zM202.9 1797.2h2.99v2.99h-2.99zM205.9 1794.2h2.99v2.99h-2.99zM208.8 1791.2h2.99v2.99h-2.99zM211.8 1788.2h2.99v2.99h-2.99zM214.8 1785.2h2.99v2.99h-2.99zM217.8 1782.2h2.99v2.99h-2.99zM220.8 1779.2h2.99v2.99h-2.99zM223.8 1776.2h2.99v2.99h-2.99zM226.8 1773.2h2.99v2.99h-2.99zM229.8 1770.2h2.99v2.99h-2.99zM232.8 1767.3h2.99v2.99h-2.99zM235.8 1764.3h2.99v2.99h-2.99zM238.7 1761.3h2.99v2.99h-2.99zM241.7 1758.3h2.99v2.99h-2.99zM244.7 1755.3h2.99v2.99h-2.99zM247.7 1752.3h2.99v2.99h-2.99zM250.7 1749.3h2.99v2.99h-2.99zM253.7 1746.3h2.99v2.99h-2.99zM256.7 1743.3h2.99v2.99h-2.99zM259.7 1740.3h2.99v2.99h-2.99zM262.7 1737.4h2.99v2.99h-2.99zM265.7 1734.4h2.99v2.99h-2.99zM268.7 1731.4h2.99v2.99h-2.99zM271.6 1728.4h2.99v2.99h-2.99zM274.6 1725.4h2.99v2.99h-2.99zM277.6 1722.4h2.99v2.99h-2.99zM280.6 1719.4h2.99v2.99h-2.99zM283.6 1716.4h2.99v2.99h-2.99zM286.6 1713.4h2.99v2.99h-2.99zM289.6 1710.5h2.99v2.99h-2.99zM292.6 1707.5h2.99v2.99h-2.99zM295.6 1704.5h2.99v2.99h-2.99zM298.6 1701.5h2.99v2.99h-2.99zM301.6 1698.5h2.99v2.99h-2.99zM304.5 1695.5h2.99v2.99h-2.99zM307.5 1692.5h2.99v2.99h-2.99zM310.5 1689.5h2.99v2.99h-2.99zM313.5 1686.5h2.99v2.99h-2.99zM316.5 1683.5h2.99v2.99h-2.99zM319.5 1680.5h2.99v2.99h-2.99zM322.5 1677.6h2.99v2.99h-2.99zM325.5 1674.6h2.99v2.99h-2.99zM328.5 1671.6h2.99v2.99h-2.99zM331.5 1668.6h2.99v2.99h-2.99zM334.4 1665.6h2.99v2.99h-2.99zM337.4 1662.6h2.99v2.99h-2.99zM340.4 1659.6h2.99v2.99h-2.99zM343.4 1656.6h2.99v2.99h-2.99zM346.4 1653.6h2.99v2.99h-2.99zM349.4 1650.7h2.99v2.99h-2.99zM352.4 1647.7h2.99v2.99h-2.99zM355.4 1644.7h2.99v2.99h-2.99zM358.4 1641.7h2.99v2.99h-2.99zM361.4 1638.7h2.99v2.99h-2.99zM364.4 1635.7h2.99v2.99h-2.99zM367.3 1632.7h2.99v2.99h-2.99zM370.3 1629.7h2.99v2.99h-2.99zM373.3 1626.7h2.99v2.99h-2.99zM376.3 1623.7h2.99v2.99h-2.99zM379.3 1620.8h2.99v2.99h-2.99zM382.3 1617.8h2.99v2.99h-2.99zM385.3 1614.8h2.99v2.99h-2.99zM388.3 1611.8h2.99v2.99h-2.99zM391.3 1608.8h2.99v2.99h-2.99zM394.3 1605.8h2.99v2.99h-2.99zM397.3 1602.8h2.99v2.99h-2.99zM400.2 1599.8h2.99v2.99h-2.99zM403.2 1596.8h2.99v2.99h-2.99zM406.2 1593.8h2.99v2.99h-2.99zM409.2 1590.8h2.99v2.99h-2.99zM412.2 1587.9h2.99v2.99h-2.99zM415.2 1584.9h2.99v2.99h-2.99zM418.2 1581.9h2.99v2.99h-2.99zM421.2 1578.9h2.99v2.99h-2.99zM424.2 1575.9h2.99v2.99h-2.99zM427.2 1572.9h2.99v2.99h-2.99zM430.2 1569.9h2.99v2.99h-2.99zM433.1 1566.9h2.99v2.99h-2.99zM436.1 1563.9h2.99v2.99h-2.99zM439.1 1561.0h2.99v2.99h-2.99zM442.1 1558.0h2.99v2.99h-2.99zM445.1 1555.0h2.99v2.99h-2.99zM448.1 1552.0h2.99v2.99h-2.99zM451.1 1549.0h2.99v2.99h-2.99zM454.1 1546.0h2.99v2.99h-2.99zM457.1 1543.0h2.99v2.99h-2.99zM460.1 1540.0h2.99v2.99h-2.99zM463.0 1537.0h2.99v2.99h-2.99zM466.0 1534.0h2.99v2.99h-2.99zM469.0 1531.0h2.99v2.99h-2.99zM472.0 1528.1h2.99v2.99h-2.99zM475.0 1525.1h2.99v2.99h-2.99zM478.0 1522.1h2.99v2.99h-2.99zM481.0 1519.1h2.99v2.99h-2.99zM484.0 1516.1h2.99v2.99h-2.99zM487.0 1513.1h2.99v2.99h-2.99zM490.0 1510.1h2.99v2.99h-2.99zM493.0 1507.1h2.99v2.99h-2.99zM495.9 1504.1h2.99v2.99h-2.99zM498.9 1501.2h2.99v2.99h-2.99zM501.9 1498.2h2.99v2.99h-2.99zM504.9 1495.2h2.99v2.99h-2.99zM507.9 1492.2h2.99v2.99h-2.99zM510.9 1489.2h2.99v2.99h-2.99zM513.9 1486.2h2.99v2.99h-2.99zM516.9 1483.2h2.99v2.99h-2.99zM519.9 1480.2h2.99v2.99h-2.99zM522.9 1477.2h2.99v2.99h-2.99zM525.9 1474.2h2.99v2.99h-2.99zM528.8 1471.2h2.99v2.99h-2.99zM531.8 1468.3h2.99v2.99h-2.99zM534.8 1465.3h2.99v2.99h-2.99zM537.8 1462.3h2.99v2.99h-2.99zM540.8 1459.3h2.99v2.99h-2.99zM543.8 1456.3h2.99v2.99h-2.99zM546.8 1453.3h2.99v2.99h-2.99zM549.8 1450.3h2.99v2.99h-2.99zM552.8 1447.3h2.99v2.99h-2.99zM555.8 1444.3h2.99v2.99h-2.99zM558.7 1441.3h2.99v2.99h-2.99zM561.7 1438.4h2.99v2.99h-2.99zM564.7 1435.4h2.99v2.99h-2.99zM567.7 1432.4h2.99v2.99h-2.99zM570.7 1429.4h2.99v2.99h-2.99zM573.7 1426.4h2.99v2.99h-2.99zM576.7 1423.4h2.99v2.99h-2.99zM579.7 1420.4h2.99v2.99h-2.99zM582.7 1417.4h2.99v2.99h-2.99zM585.7 1414.4h2.99v2.99h-2.99zM588.7 1411.5h2.99v2.99h-2.99zM591.6 1408.5h2.99v2.99h-2.99zM594.6 1405.5h2.99v2.99h-2.99zM597.6 1402.5h2.99v2.99h-2.99zM600.6 1399.5h2.99v2.99h-2.99zM603.6 1396.5h2.99v2.99h-2.99z"/>
<path fill="none" stroke="#e31a1c" stroke-width="1.6" d="M158.0 1818.1H184.9V1845.0H158.0zM184.9 1785.2H217.8V1818.1H184.9zM217.8 1743.3H259.7V1785.2H217.8zM259.7 1695.5H307.5V1743.3H259.7zM307.5 1620.8H382.3V1695.5H307.5zM382.3 1572.9H430.2V1620.8H382.3zM430.2 1516.1H487.0V1572.9H430.2zM487.0 1486.2H516.9V1516.1H487.0zM516.9 1447.3H555.8V1486.2H516.9zM555.8 1396.5H606.6V1447.3H555.8z"/>
<path fill="none" stroke="#333a40" stroke-opacity="0.75" stroke-width="1" d="M158.5 1845.0V1397.0H606.6"/>
<path fill="none" stroke="#3a9e3a" stroke-width="1.3" d="M159.5 1389.0V1373.5H162.5V1389.0M165.5 1389.0V1372.5H168.5V1389.0M171.5 1389.0V1372.4H174.4V1389.0M167.0 1372.5V1370.9H173.0V1372.4M170.0 1370.9V1366.2H177.4V1389.0M180.4 1389.0V1372.7H183.4V1389.0M173.7 1366.2V1365.2H181.9V1372.7M161.0 1373.5V1364.0H177.8V1365.2M186.4 1389.0V1372.7H189.4V1389.0M198.4 1389.0V1372.6H201.4V1389.0M195.4 1389.0V1371.6H199.9V1372.6M192.4 1389.0V1370.6H197.6V1371.6M204.4 1389.0V1372.0H207.3V1389.0M195.0 1370.6V1365.6H205.9V1372.0M213.3 1389.0V1372.8H216.3V1389.0M210.3 1389.0V1370.7H214.8V1372.8M200.4 1365.6V1364.4H212.6V1370.7M187.9 1372.7V1361.6H206.5V1364.4M219.3 1389.0V1374.0H222.3V1389.0M220.8 1374.0V1370.1H225.3V1389.0M228.3 1389.0V1372.7H231.3V1389.0M237.3 1389.0V1372.7H240.2V1389.0M234.3 1389.0V1369.1H238.7V1372.7M246.2 1389.0V1372.3H249.2V1389.0M243.2 1389.0V1370.2H247.7V1372.3M252.2 1389.0V1372.6H255.2V1389.0M253.7 1372.6V1370.6H258.2V1389.0M245.5 1370.2V1365.6H255.9V1370.6M236.5 1369.1V1364.6H250.7V1365.6M229.8 1372.7V1363.6H243.6V1364.6M223.0 1370.1V1356.7H236.7V1363.6M197.2 1361.6V1346.0H229.9V1356.7M169.4 1364.0V1336.8H213.5V1346.0"/>
<path fill="none" stroke="#f43c3c" stroke-width="1.3" d="M261.2 1389.0V1373.0H264.2V1389.0M267.2 1389.0V1372.0H270.1V1389.0M268.7 1372.0V1370.2H273.1V1389.0M262.7 1373.0V1365.3H270.9V1370.2M279.1 1389.0V1374.1H282.1V1389.0M276.1 1389.0V1369.4H280.6V1374.1M288.1 1389.0V1373.5H291.1V1389.0M285.1 1389.0V1370.4H289.6V1373.5M287.3 1370.4V1369.4H294.1V1389.0M278.4 1369.4V1365.2H290.7V1369.4M300.1 1389.0V1371.9H303.0V1389.0M301.6 1371.9V1370.9H306.0V1389.0M297.1 1389.0V1369.0H303.8V1370.9M284.5 1365.2V1363.6H300.4V1369.0M266.8 1365.3V1362.3H292.5V1363.6M309.0 1389.0V1373.3H312.0V1389.0M321.0 1389.0V1371.8H324.0V1389.0M327.0 1389.0V1372.5H330.0V1389.0M322.5 1371.8V1370.2H328.5V1372.5M318.0 1389.0V1366.8H325.5V1370.2M315.0 1389.0V1365.8H321.7V1366.8M310.5 1373.3V1364.8H318.4V1365.8M333.0 1389.0V1373.2H335.9V1389.0M334.4 1373.2V1369.2H338.9V1389.0M341.9 1389.0V1373.1H344.9V1389.0M343.4 1373.1V1368.7H347.9V1389.0M353.9 1389.0V1373.4H356.9V1389.0M350.9 1389.0V1370.8H355.4V1373.4M353.1 1370.8V1368.5H359.9V1389.0M362.9 1389.0V1372.4H365.9V1389.0M356.5 1368.5V1366.2H364.4V1372.4M345.7 1368.7V1365.2H360.4V1366.2M336.7 1369.2V1364.2H353.0V1365.2M371.8 1389.0V1372.7H374.8V1389.0M368.8 1389.0V1370.6H373.3V1372.7M377.8 1389.0V1371.8H380.8V1389.0M371.1 1370.6V1366.0H379.3V1371.8M344.9 1364.2V1363.2H375.2V1366.0M314.4 1364.8V1360.6H360.0V1363.2M279.6 1362.3V1351.5H337.2V1360.6M383.8 1389.0V1371.8H386.8V1389.0M385.3 1371.8V1370.7H389.8V1389.0M387.5 1370.7V1368.1H392.8V1389.0M390.2 1368.1V1366.0H395.8V1389.0M398.7 1389.0V1373.5H401.7V1389.0M400.2 1373.5V1369.8H404.7V1389.0M407.7 1389.0V1372.2H410.7V1389.0M409.2 1372.2V1370.7H413.7V1389.0M419.7 1389.0V1374.2H422.7V1389.0M416.7 1389.0V1370.5H421.2V1374.2M411.5 1370.7V1366.0H418.9V1370.5M425.7 1389.0V1373.0H428.7V1389.0M415.2 1366.0V1365.0H427.2V1373.0M402.5 1369.8V1364.0H421.2V1365.0M393.0 1366.0V1363.0H411.8V1364.0M437.6 1389.0V1373.9H440.6V1389.0M434.6 1389.0V1369.9H439.1V1373.9M431.6 1389.0V1368.6H436.9V1369.9M446.6 1389.0V1373.2H449.6V1389.0M443.6 1389.0V1370.2H448.1V1373.2M455.6 1389.0V1371.6H458.6V1389.0M452.6 1389.0V1370.1H457.1V1371.6M461.6 1389.0V1373.9H464.5V1389.0M463.0 1373.9V1370.0H467.5V1389.0M454.8 1370.1V1368.0H465.3V1370.0M445.9 1370.2V1367.0H460.1V1368.0M470.5 1389.0V1373.6H473.5V1389.0M472.0 1373.6V1368.2H476.5V1389.0M482.5 1389.0V1372.7H485.5V1389.0M479.5 1389.0V1370.8H484.0V1372.7M474.3 1368.2V1367.0H481.7V1370.8M453.0 1367.0V1366.0H478.0V1367.0M434.3 1368.6V1365.0H465.5V1366.0M497.4 1389.0V1374.2H500.4V1389.0M498.9 1374.2V1373.0H503.4V1389.0M494.4 1389.0V1372.0H501.2V1373.0M491.5 1389.0V1371.0H497.8V1372.0M488.5 1389.0V1370.0H494.6V1371.0M512.4 1389.0V1372.4H515.4V1389.0M509.4 1389.0V1371.0H513.9V1372.4M506.4 1389.0V1370.0H511.6V1371.0M491.6 1370.0V1369.0H509.0V1370.0M449.9 1365.0V1355.3H500.3V1369.0M402.4 1363.0V1351.3H475.1V1355.3M518.4 1389.0V1373.4H521.4V1389.0M519.9 1373.4V1370.7H524.4V1389.0M527.3 1389.0V1373.6H530.3V1389.0M528.8 1373.6V1369.0H533.3V1389.0M522.1 1370.7V1368.0H531.1V1369.0M539.3 1389.0V1372.9H542.3V1389.0M536.3 1389.0V1370.3H540.8V1372.9M538.6 1370.3V1369.0H545.3V1389.0M551.3 1389.0V1372.5H554.3V1389.0M548.3 1389.0V1369.6H552.8V1372.5M541.9 1369.0V1368.0H550.5V1369.6M526.6 1368.0V1367.0H546.2V1368.0M557.3 1389.0V1373.5H560.2V1389.0M566.2 1389.0V1373.6H569.2V1389.0M563.2 1389.0V1370.7H567.7V1373.6M572.2 1389.0V1373.9H575.2V1389.0M565.5 1370.7V1368.0H573.7V1373.9M558.7 1373.5V1367.0H569.6V1368.0M578.2 1389.0V1371.6H581.2V1389.0M584.2 1389.0V1373.3H587.2V1389.0M585.7 1373.3V1370.0H590.2V1389.0M593.1 1389.0V1373.9H596.1V1389.0M594.6 1373.9V1371.0H599.1V1389.0M587.9 1370.0V1369.0H596.9V1371.0M602.1 1389.0V1374.1H605.1V1389.0M592.4 1369.0V1368.0H603.6V1374.1M579.7 1371.6V1367.0H598.0V1368.0M564.2 1367.0V1366.0H588.8V1367.0M536.4 1367.0V1344.0H576.5V1366.0M438.7 1351.3V1334.3H556.5V1344.0M308.4 1351.5V1304.7H497.6V1334.3"/>
<path fill="none" stroke="#5252f0" stroke-width="1.3" d="M191.5 1336.8V1246.2H403.0V1304.7"/>
<path fill="none" stroke="#3a9e3a" stroke-width="1.3" d="M150.5 1843.5H135.0V1840.5H150.5M150.5 1837.5H134.0V1834.5H150.5M150.5 1831.5H133.9V1828.6H150.5M134.0 1836.0H132.4V1830.1H133.9M132.4 1833.0H127.7V1825.6H150.5M150.5 1822.6H134.2V1819.6H150.5M127.7 1829.3H126.7V1821.1H134.2M135.0 1842.0H125.5V1825.2H126.7M150.5 1816.6H134.2V1813.6H150.5M150.5 1804.6H134.1V1801.6H150.5M150.5 1807.6H133.1V1803.1H134.1M150.5 1810.6H132.1V1805.4H133.1M150.5 1798.7H133.5V1795.7H150.5M132.1 1808.0H127.1V1797.2H133.5M150.5 1789.7H134.3V1786.7H150.5M150.5 1792.7H132.2V1788.2H134.3M127.1 1802.6H125.9V1790.4H132.2M134.2 1815.1H123.1V1796.5H125.9M150.5 1783.7H135.5V1780.7H150.5M135.5 1782.2H131.6V1777.7H150.5M150.5 1774.7H134.2V1771.7H150.5M150.5 1765.8H134.2V1762.8H150.5M150.5 1768.8H130.6V1764.3H134.2M150.5 1756.8H133.8V1753.8H150.5M150.5 1759.8H131.7V1755.3H133.8M150.5 1750.8H134.1V1747.8H150.5M134.1 1749.3H132.1V1744.8H150.5M131.7 1757.5H127.1V1747.1H132.1M130.6 1766.5H126.1V1752.3H127.1M134.2 1773.2H125.1V1759.4H126.1M131.6 1780.0H118.2V1766.3H125.1M123.1 1805.8H107.5V1773.1H118.2M125.5 1833.6H98.3V1789.5H107.5"/>
<path fill="none" stroke="#f43c3c" stroke-width="1.3" d="M150.5 1741.8H134.5V1738.9H150.5M150.5 1735.9H133.5V1732.9H150.5M133.5 1734.4H131.7V1729.9H150.5M134.5 1740.3H126.8V1732.1H131.7M150.5 1723.9H135.6V1720.9H150.5M150.5 1726.9H130.9V1722.4H135.6M150.5 1714.9H135.0V1711.9H150.5M150.5 1717.9H131.9V1713.4H135.0M131.9 1715.7H130.9V1709.0H150.5M130.9 1724.7H126.7V1712.3H130.9M150.5 1703.0H133.4V1700.0H150.5M133.4 1701.5H132.4V1697.0H150.5M150.5 1706.0H130.5V1699.2H132.4M126.7 1718.5H125.1V1702.6H130.5M126.8 1736.2H123.8V1710.5H125.1M150.5 1694.0H134.8V1691.0H150.5M150.5 1682.0H133.3V1679.1H150.5M150.5 1676.1H134.0V1673.1H150.5M133.3 1680.6H131.7V1674.6H134.0M150.5 1685.0H128.3V1677.6H131.7M150.5 1688.0H127.3V1681.3H128.3M134.8 1692.5H126.3V1684.7H127.3M150.5 1670.1H134.7V1667.1H150.5M134.7 1668.6H130.7V1664.1H150.5M150.5 1661.1H134.6V1658.1H150.5M134.6 1659.6H130.2V1655.1H150.5M150.5 1649.2H134.9V1646.2H150.5M150.5 1652.1H132.3V1647.7H134.9M132.3 1649.9H130.0V1643.2H150.5M150.5 1640.2H133.9V1637.2H150.5M130.0 1646.5H127.7V1638.7H133.9M130.2 1657.4H126.7V1642.6H127.7M130.7 1666.3H125.7V1650.0H126.7M150.5 1631.2H134.2V1628.2H150.5M150.5 1634.2H132.1V1629.7H134.2M150.5 1625.2H133.3V1622.2H150.5M132.1 1632.0H127.5V1623.7H133.3M125.7 1658.2H124.7V1627.9H127.5M126.3 1688.6H122.1V1643.0H124.7M123.8 1723.4H113.0V1665.8H122.1M150.5 1619.3H133.3V1616.3H150.5M133.3 1617.8H132.2V1613.3H150.5M132.2 1615.5H129.6V1610.3H150.5M129.6 1612.9H127.5V1607.3H150.5M150.5 1604.3H135.0V1601.3H150.5M135.0 1602.8H131.3V1598.3H150.5M150.5 1595.3H133.7V1592.3H150.5M133.7 1593.8H132.2V1589.4H150.5M150.5 1583.4H135.7V1580.4H150.5M150.5 1586.4H132.0V1581.9H135.7M132.2 1591.6H127.5V1584.1H132.0M150.5 1577.4H134.5V1574.4H150.5M127.5 1587.9H126.5V1575.9H134.5M131.3 1600.6H125.5V1581.9H126.5M127.5 1610.1H124.5V1591.2H125.5M150.5 1565.4H135.4V1562.4H150.5M150.5 1568.4H131.4V1563.9H135.4M150.5 1571.4H130.1V1566.2H131.4M150.5 1556.5H134.7V1553.5H150.5M150.5 1559.5H131.7V1555.0H134.7M150.5 1547.5H133.1V1544.5H150.5M150.5 1550.5H131.6V1546.0H133.1M150.5 1541.5H135.4V1538.5H150.5M135.4 1540.0H131.5V1535.5H150.5M131.6 1548.2H129.5V1537.8H131.5M131.7 1557.2H128.5V1543.0H129.5M150.5 1532.5H135.1V1529.6H150.5M135.1 1531.0H129.7V1526.6H150.5M150.5 1520.6H134.2V1517.6H150.5M150.5 1523.6H132.3V1519.1H134.2M129.7 1528.8H128.5V1521.3H132.3M128.5 1550.1H127.5V1525.1H128.5M130.1 1568.8H126.5V1537.6H127.5M150.5 1505.6H135.7V1502.6H150.5M135.7 1504.1H134.5V1499.7H150.5M150.5 1508.6H133.5V1501.9H134.5M150.5 1511.6H132.5V1505.3H133.5M150.5 1514.6H131.5V1508.4H132.5M150.5 1490.7H133.9V1487.7H150.5M150.5 1493.7H132.5V1489.2H133.9M150.5 1496.7H131.5V1491.4H132.5M131.5 1511.5H130.5V1494.0H131.5M126.5 1553.2H116.8V1502.8H130.5M124.5 1600.7H112.8V1528.0H116.8M150.5 1484.7H134.9V1481.7H150.5M134.9 1483.2H132.2V1478.7H150.5M150.5 1475.7H135.1V1472.7H150.5M135.1 1474.2H130.5V1469.8H150.5M132.2 1481.0H129.5V1472.0H130.5M150.5 1463.8H134.4V1460.8H150.5M150.5 1466.8H131.8V1462.3H134.4M131.8 1464.5H130.5V1457.8H150.5M150.5 1451.8H134.0V1448.8H150.5M150.5 1454.8H131.1V1450.3H134.0M130.5 1461.2H129.5V1452.6H131.1M129.5 1476.5H128.5V1456.9H129.5M150.5 1445.8H135.0V1442.8H150.5M150.5 1436.9H135.1V1433.9H150.5M150.5 1439.9H132.2V1435.4H135.1M150.5 1430.9H135.4V1427.9H150.5M132.2 1437.6H129.5V1429.4H135.4M135.0 1444.3H128.5V1433.5H129.5M150.5 1424.9H133.1V1421.9H150.5M150.5 1418.9H134.8V1415.9H150.5M134.8 1417.4H131.5V1412.9H150.5M150.5 1410.0H135.4V1407.0H150.5M135.4 1408.5H132.5V1404.0H150.5M131.5 1415.2H130.5V1406.2H132.5M150.5 1401.0H135.6V1398.0H150.5M130.5 1410.7H129.5V1399.5H135.6M133.1 1423.4H128.5V1405.1H129.5M128.5 1438.9H127.5V1414.3H128.5M128.5 1466.7H105.5V1426.6H127.5M112.8 1564.3H95.8V1446.6H105.5M113.0 1694.6H66.2V1505.5H95.8"/>
<path fill="none" stroke="#5252f0" stroke-width="1.3" d="M98.3 1811.5H7.7V1600.0H66.2"/>
<path d="M20.0 1845.0H100.0" stroke="#8a8af5" stroke-width="1"/>
<rect x="158.5" y="1239.5" width="448.0" height="149.5" fill="none" stroke="#777" stroke-width="1"/>
<rect x="1.5" y="1396.5" width="149.0" height="448.5" fill="none" stroke="#888" stroke-width="1"/>
<linearGradient id="g2" x1="0" y1="0" x2="0" y2="1"><stop offset="0.00" stop-color="#fde725"/><stop offset="0.05" stop-color="#dde318"/><stop offset="0.10" stop-color="#bddf26"/><stop offset="0.15" stop-color="#9bd93c"/><stop offset="0.20" stop-color="#7ad151"/><stop offset="0.25" stop-color="#5cc863"/><stop offset="0.30" stop-color="#42be71"/><stop offset="0.35" stop-color="#2fb47c"/><stop offset="0.40" stop-color="#22a884"/><stop offset="0.45" stop-color="#1e9c89"/><stop offset="0.50" stop-color="#21918c"/><stop offset="0.55" stop-color="#25848e"/><stop offset="0.60" stop-color="#2a788e"/><stop offset="0.65" stop-color="#2f6c8e"/><stop offset="0.70" stop-color="#34608d"/><stop offset="0.75" stop-color="#3b528b"/><stop offset="0.80" stop-color="#414487"/><stop offset="0.85" stop-color="#463480"/><stop offset="0.90" stop-color="#482475"/><stop offset="0.95" stop-color="#481467"/><stop offset="1.00" stop-color="#440154"/></linearGradient>
<rect x="614.0" y="1396.5" width="14.5" height="448.5" fill="url(#g2)" stroke="#666" stroke-width="1"/>
<path d="M628.5 1845.0h2.5" stroke="#444" stroke-width="0.8"/>
<text x="633.5" y="1848.0" font-size="8.2" fill="#1e1e1e" textLength="14.6" lengthAdjust="spacingAndGlyphs">0.00</text>
<path d="M628.5 1772.4h2.5" stroke="#444" stroke-width="0.8"/>
<text x="633.5" y="1775.4" font-size="8.2" fill="#1e1e1e" textLength="14.6" lengthAdjust="spacingAndGlyphs">0.05</text>
<path d="M628.5 1699.9h2.5" stroke="#444" stroke-width="0.8"/>
<text x="633.5" y="1702.9" font-size="8.2" fill="#1e1e1e" textLength="14.6" lengthAdjust="spacingAndGlyphs">0.10</text>
<path d="M628.5 1627.3h2.5" stroke="#444" stroke-width="0.8"/>
<text x="633.5" y="1630.3" font-size="8.2" fill="#1e1e1e" textLength="14.6" lengthAdjust="spacingAndGlyphs">0.15</text>
<path d="M628.5 1554.7h2.5" stroke="#444" stroke-width="0.8"/>
<text x="633.5" y="1557.7" font-size="8.2" fill="#1e1e1e" textLength="14.6" lengthAdjust="spacingAndGlyphs">0.20</text>
<path d="M628.5 1482.1h2.5" stroke="#444" stroke-width="0.8"/>
<text x="633.5" y="1485.1" font-size="8.2" fill="#1e1e1e" textLength="14.6" lengthAdjust="spacingAndGlyphs">0.25</text>
<path d="M628.5 1409.6h2.5" stroke="#444" stroke-width="0.8"/>
<text x="633.5" y="1412.6" font-size="8.2" fill="#1e1e1e" textLength="14.6" lengthAdjust="spacingAndGlyphs">0.30</text>
<text x="665.5" y="1636.0" font-size="35" font-weight="bold" fill="#0f1a1c" stroke="#0f1a1c" stroke-width="0.7">c</text>
</svg>
</body></html>
